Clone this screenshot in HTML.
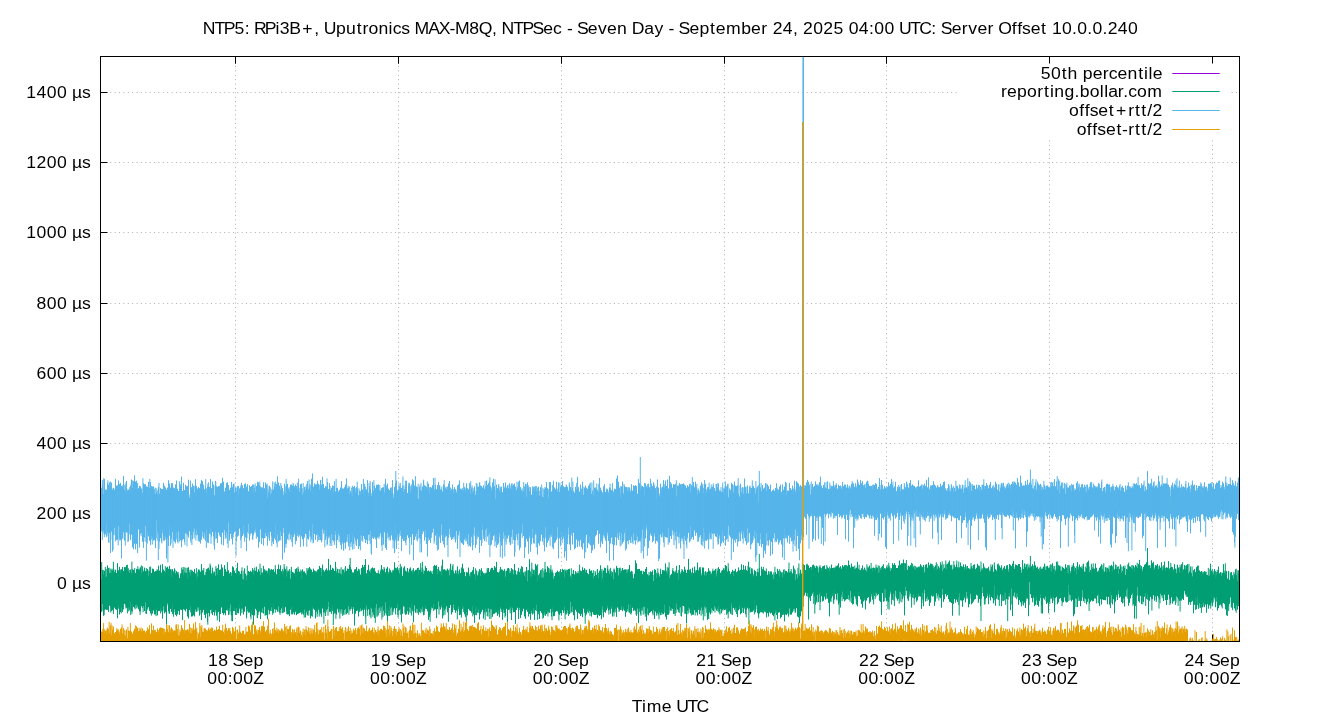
<!DOCTYPE html>
<html><head><meta charset="utf-8"><title>NTP5 Server Offset</title>
<style>html,body{margin:0;padding:0;background:#fff;}body{width:1340px;height:720px;overflow:hidden;font-family:"Liberation Sans",sans-serif;}svg{display:block;}</style>
</head><body>
<svg width="1340" height="720" viewBox="0 0 1340 720">
<path d="M100.5 583.5H1239.5M100.5 513.5H1239.5M100.5 443.5H1239.5M100.5 373.5H1239.5M100.5 303.5H1239.5M100.5 232.5H1239.5M100.5 162.5H1239.5M100.5 92.5H1239.5" stroke="#b0b0b0" stroke-width="1" stroke-dasharray="1 3.38" stroke-dashoffset="-1" fill="none"/>
<path d="M235.5 56.5V641.5M398.5 56.5V641.5M561.5 56.5V641.5M724.5 56.5V641.5M886.5 56.5V641.5M1049.5 56.5V641.5M1212.5 56.5V641.5" stroke="#b0b0b0" stroke-width="1" stroke-dasharray="1 3.38" stroke-dashoffset="-0.8" fill="none"/>
<path d="M100.5 583.5h7M100.5 513.5h7M100.5 443.5h7M100.5 373.5h7M100.5 303.5h7M100.5 232.5h7M100.5 162.5h7M100.5 92.5h7M235.5 56.5v7M235.5 641.5v-7M398.5 56.5v7M398.5 641.5v-7M561.5 56.5v7M561.5 641.5v-7M724.5 56.5v7M724.5 641.5v-7M886.5 56.5v7M886.5 641.5v-7M1049.5 56.5v7M1049.5 641.5v-7M1212.5 56.5v7M1212.5 641.5v-7" stroke="#000" stroke-width="1" fill="none"/>
<path d="M101.5 579.2V610.9M102.5 569.8V604.0M103.5 574.5V614.5M104.5 570.9V609.8M105.5 577.2V609.5M106.5 576.6V609.9M107.5 565.4V609.8M108.5 568.2V611.9M109.5 572.9V605.8M110.5 573.2V606.9M111.5 572.8V611.0M112.5 570.3V610.3M113.5 571.7V608.4M114.5 572.2V607.6M115.5 569.9V606.5M116.5 573.1V609.2M117.5 563.2V618.3M118.5 571.8V605.5M119.5 566.8V614.5M120.5 572.7V612.1M121.5 569.1V607.6M122.5 567.1V611.9M123.5 570.9V604.0M124.5 567.1V603.1M125.5 567.1V604.6M126.5 565.1V607.7M127.5 569.8V608.0M128.5 571.3V607.4M129.5 572.9V609.6M130.5 569.5V601.8M131.5 573.1V611.0M132.5 570.0V604.3M133.5 569.7V607.0M134.5 571.7V607.8M135.5 573.1V605.2M136.5 568.9V604.5M137.5 569.2V605.8M138.5 569.5V609.3M139.5 570.2V611.4M140.5 567.3V611.3M141.5 573.1V605.9M142.5 568.8V606.6M143.5 571.4V606.2M144.5 567.6V611.0M145.5 571.2V602.3M146.5 571.3V613.8M147.5 569.0V607.9M148.5 576.3V606.9M149.5 571.5V610.9M150.5 575.7V613.4M151.5 573.4V611.0M152.5 568.6V613.6M153.5 569.5V610.5M154.5 572.1V614.4M155.5 571.0V614.5M156.5 571.1V609.9M157.5 570.2V615.4M158.5 565.7V611.1M159.5 570.6V610.9M160.5 564.7V607.4M161.5 572.5V609.8M162.5 569.3V613.6M163.5 569.5V606.3M164.5 571.0V613.3M165.5 572.6V612.3M166.5 567.6V612.2M167.5 566.7V603.5M168.5 568.8V611.0M169.5 565.9V613.7M170.5 569.2V608.8M171.5 577.0V611.9M172.5 569.1V603.3M173.5 574.3V614.0M174.5 568.3V609.4M175.5 573.4V614.9M176.5 571.6V605.4M177.5 572.4V614.4M178.5 574.4V611.2M179.5 578.0V614.9M180.5 573.4V608.9M181.5 573.2V610.0M182.5 570.0V620.1M183.5 574.7V609.4M184.5 572.3V609.9M185.5 575.6V611.4M186.5 573.0V608.9M187.5 578.4V616.6M188.5 567.2V618.5M189.5 572.3V610.1M190.5 575.8V606.5M191.5 572.1V616.6M192.5 570.8V616.4M193.5 572.4V615.4M194.5 569.0V616.5M195.5 573.5V609.4M196.5 580.4V611.8M197.5 576.5V607.5M198.5 569.7V607.4M199.5 570.3V615.7M200.5 571.7V609.9M201.5 564.1V620.1M202.5 570.3V612.4M203.5 570.6V609.8M204.5 575.3V614.8M205.5 575.2V618.2M206.5 571.4V613.5M207.5 569.1V621.7M208.5 567.7V613.0M209.5 570.2V616.5M210.5 565.6V609.9M211.5 574.5V608.9M212.5 570.3V615.1M213.5 573.6V612.0M214.5 577.8V607.6M215.5 575.7V610.2M216.5 568.7V608.9M217.5 574.8V612.5M218.5 575.7V611.9M219.5 570.0V621.9M220.5 569.4V614.0M221.5 571.9V606.1M222.5 567.5V613.0M223.5 576.7V614.8M224.5 565.1V613.3M225.5 569.1V615.3M226.5 571.6V609.9M227.5 571.8V608.5M228.5 573.0V615.1M229.5 573.4V608.2M230.5 572.0V604.4M231.5 576.1V615.6M232.5 566.3V621.2M233.5 572.7V611.0M234.5 570.6V607.2M235.5 573.2V607.5M236.5 573.5V608.1M237.5 562.8V610.9M238.5 570.9V613.4M239.5 575.2V604.1M240.5 573.8V614.8M241.5 570.7V608.0M242.5 578.9V608.4M243.5 579.7V614.5M244.5 568.3V611.8M245.5 573.6V606.6M246.5 580.2V618.4M247.5 574.9V608.9M248.5 573.2V612.7M249.5 571.9V612.5M250.5 570.8V616.7M251.5 571.7V610.1M252.5 570.7V615.2M253.5 574.5V624.7M254.5 571.0V615.4M255.5 570.8V608.8M256.5 568.4V610.1M257.5 571.8V618.0M258.5 569.2V612.4M259.5 571.3V611.6M260.5 574.9V619.0M261.5 572.8V612.3M262.5 573.2V608.2M263.5 572.7V613.6M264.5 571.8V606.8M265.5 571.2V614.8M266.5 570.6V615.1M267.5 573.8V619.3M268.5 568.2V608.6M269.5 575.5V611.4M270.5 571.5V610.8M271.5 569.1V607.3M272.5 569.9V612.7M273.5 569.3V603.6M274.5 571.8V609.2M275.5 569.2V609.3M276.5 574.8V609.7M277.5 569.0V611.8M278.5 564.5V606.4M279.5 569.1V612.7M280.5 565.3V610.0M281.5 571.2V608.4M282.5 574.5V605.9M283.5 573.3V606.6M284.5 567.4V612.0M285.5 569.1V607.3M286.5 576.7V610.9M287.5 572.4V614.5M288.5 571.4V614.4M289.5 574.6V616.2M290.5 578.8V609.8M291.5 575.4V607.0M292.5 571.9V614.4M293.5 572.6V612.0M294.5 573.4V614.8M295.5 569.8V611.0M296.5 568.5V615.2M297.5 571.8V614.0M298.5 568.9V613.6M299.5 571.6V612.9M300.5 572.1V612.5M301.5 578.9V612.0M302.5 569.3V612.0M303.5 571.5V614.7M304.5 571.4V609.5M305.5 573.3V617.4M306.5 575.1V610.9M307.5 570.5V614.7M308.5 569.5V611.0M309.5 567.0V610.4M310.5 569.1V618.4M311.5 573.5V610.1M312.5 572.0V606.7M313.5 568.7V608.6M314.5 570.6V609.9M315.5 571.7V618.5M316.5 573.1V611.6M317.5 569.7V614.1M318.5 570.7V607.2M319.5 565.9V611.9M320.5 567.8V612.9M321.5 576.0V616.8M322.5 564.5V607.9M323.5 569.9V612.4M324.5 571.5V611.3M325.5 569.7V606.5M326.5 568.3V610.0M327.5 570.5V609.0M328.5 558.9V601.8M329.5 570.3V611.9M330.5 564.8V611.7M331.5 570.0V608.2M332.5 567.8V605.0M333.5 568.7V614.9M334.5 571.0V610.6M335.5 561.9V613.2M336.5 573.0V614.6M337.5 568.8V607.8M338.5 573.1V612.5M339.5 573.8V608.8M340.5 573.7V609.4M341.5 574.4V609.3M342.5 569.8V609.6M343.5 569.7V613.5M344.5 572.7V610.0M345.5 566.1V609.0M346.5 570.8V608.5M347.5 568.5V610.6M348.5 569.0V606.3M349.5 564.8V607.6M350.5 567.3V609.1M351.5 569.9V607.3M352.5 572.5V608.8M353.5 572.8V607.0M354.5 569.5V616.1M355.5 569.1V613.7M356.5 567.1V610.5M357.5 570.8V608.7M358.5 568.8V616.5M359.5 571.3V609.9M360.5 574.7V608.5M361.5 569.3V609.8M362.5 564.9V609.8M363.5 566.8V613.6M364.5 565.0V608.6M365.5 559.1V616.9M366.5 573.3V605.6M367.5 570.0V611.1M368.5 564.8V605.2M369.5 571.3V615.1M370.5 573.2V607.6M371.5 568.3V608.5M372.5 567.4V612.0M373.5 568.4V613.2M374.5 570.3V618.0M375.5 571.4V607.6M376.5 573.1V604.0M377.5 573.2V609.4M378.5 573.1V608.5M379.5 573.7V607.7M380.5 571.6V606.5M381.5 565.0V607.6M382.5 569.2V606.3M383.5 570.5V610.8M384.5 568.5V614.2M385.5 572.3V602.2M386.5 568.5V608.5M387.5 566.8V621.7M388.5 573.9V610.7M389.5 571.6V605.6M390.5 570.3V608.4M391.5 572.4V605.3M392.5 572.8V611.4M393.5 570.7V609.3M394.5 562.3V608.4M395.5 567.7V610.3M396.5 568.3V608.2M397.5 566.8V603.6M398.5 570.4V611.2M399.5 573.4V610.2M400.5 568.4V608.7M401.5 566.5V622.5M402.5 576.0V613.5M403.5 568.6V605.5M404.5 566.3V606.6M405.5 570.8V614.8M406.5 571.4V614.4M407.5 568.0V606.9M408.5 572.5V605.4M409.5 568.7V607.3M410.5 567.4V607.8M411.5 570.8V604.0M412.5 572.5V609.7M413.5 568.3V605.1M414.5 571.2V605.3M415.5 569.9V612.7M416.5 578.6V607.1M417.5 568.0V609.2M418.5 574.2V611.6M419.5 569.9V612.2M420.5 569.6V608.2M421.5 572.1V609.4M422.5 572.6V606.3M423.5 573.6V615.3M424.5 570.7V611.4M425.5 567.9V605.2M426.5 568.0V609.0M427.5 571.1V611.4M428.5 571.3V619.9M429.5 573.7V615.2M430.5 570.7V613.6M431.5 572.6V606.9M432.5 574.0V608.4M433.5 569.9V604.2M434.5 564.9V609.6M435.5 565.9V609.3M436.5 565.1V618.2M437.5 574.2V609.1M438.5 567.0V601.5M439.5 573.2V606.5M440.5 571.4V609.3M441.5 574.8V604.6M442.5 559.6V618.4M443.5 569.5V607.9M444.5 569.3V610.5M445.5 570.3V608.8M446.5 570.6V606.3M447.5 568.6V612.3M448.5 570.2V607.8M449.5 575.3V608.0M450.5 563.7V605.0M451.5 571.4V607.2M452.5 568.0V612.3M453.5 571.4V604.5M454.5 573.4V610.0M455.5 570.8V612.8M456.5 573.4V609.1M457.5 566.4V611.3M458.5 574.5V606.6M459.5 569.5V615.2M460.5 573.2V614.5M461.5 571.9V611.6M462.5 563.7V604.6M463.5 569.2V607.2M464.5 572.2V614.3M465.5 576.2V616.9M466.5 572.5V612.0M467.5 572.4V615.4M468.5 567.5V608.9M469.5 576.0V610.4M470.5 577.2V611.1M471.5 571.9V612.6M472.5 571.2V605.8M473.5 567.0V614.5M474.5 574.5V622.9M475.5 580.0V607.2M476.5 574.1V606.5M477.5 575.8V612.5M478.5 573.6V609.0M479.5 569.1V603.0M480.5 576.0V614.2M481.5 568.3V611.9M482.5 571.4V609.7M483.5 572.9V618.7M484.5 574.6V611.8M485.5 573.2V608.7M486.5 573.1V611.6M487.5 569.6V607.6M488.5 568.0V608.5M489.5 572.0V612.5M490.5 569.6V609.2M491.5 567.8V609.5M492.5 567.9V616.8M493.5 570.1V614.0M494.5 566.0V613.7M495.5 567.5V612.7M496.5 561.8V612.5M497.5 572.0V615.9M498.5 572.6V610.7M499.5 577.4V617.2M500.5 566.9V607.4M501.5 569.4V609.9M502.5 574.2V605.9M503.5 570.8V609.6M504.5 570.5V612.7M505.5 576.7V616.0M506.5 570.7V608.7M507.5 568.3V624.2M508.5 567.9V610.0M509.5 573.0V608.7M510.5 573.0V607.3M511.5 568.1V620.0M512.5 569.4V605.7M513.5 574.1V612.2M514.5 574.4V612.1M515.5 570.9V623.9M516.5 574.8V608.7M517.5 574.7V607.5M518.5 567.8V619.0M519.5 572.3V607.9M520.5 574.6V618.1M521.5 571.7V614.8M522.5 567.0V611.5M523.5 572.7V608.8M524.5 575.8V616.5M525.5 578.3V618.9M526.5 567.0V609.6M527.5 581.4V611.8M528.5 570.1V616.5M529.5 576.4V614.0M530.5 577.2V619.8M531.5 576.4V610.7M532.5 573.8V614.6M533.5 569.8V608.3M534.5 575.1V619.9M535.5 571.0V610.0M536.5 565.6V604.7M537.5 581.6V612.0M538.5 575.1V611.9M539.5 578.4V619.0M540.5 570.2V611.1M541.5 577.3V612.2M542.5 577.6V614.3M543.5 577.5V617.7M544.5 572.8V611.9M545.5 569.2V615.8M546.5 572.3V614.0M547.5 566.2V611.1M548.5 567.7V612.4M549.5 573.1V612.3M550.5 569.9V609.0M551.5 572.4V616.5M552.5 572.6V607.4M553.5 578.7V616.3M554.5 576.8V615.6M555.5 572.8V611.9M556.5 576.6V609.6M557.5 570.6V611.5M558.5 571.9V613.9M559.5 575.6V614.8M560.5 569.1V613.2M561.5 572.0V615.6M562.5 568.8V610.2M563.5 573.1V612.9M564.5 577.6V606.5M565.5 570.4V614.6M566.5 573.3V612.4M567.5 569.8V610.4M568.5 569.0V615.9M569.5 568.7V614.1M570.5 576.7V601.8M571.5 579.4V611.7M572.5 573.7V606.5M573.5 570.0V615.2M574.5 574.3V620.2M575.5 571.1V609.6M576.5 574.5V611.7M577.5 573.0V610.6M578.5 573.0V612.7M579.5 574.0V613.8M580.5 570.5V616.1M581.5 571.1V608.1M582.5 567.2V617.2M583.5 571.1V608.5M584.5 568.2V612.8M585.5 572.2V616.0M586.5 569.8V614.5M587.5 573.1V608.9M588.5 574.3V609.8M589.5 568.8V610.8M590.5 570.7V612.3M591.5 570.4V616.6M592.5 575.6V608.2M593.5 578.6V614.4M594.5 576.1V615.0M595.5 572.5V614.9M596.5 578.0V614.6M597.5 569.1V618.3M598.5 578.2V614.7M599.5 571.7V616.0M600.5 565.3V615.0M601.5 581.6V619.2M602.5 578.3V606.3M603.5 570.4V617.3M604.5 573.9V611.8M605.5 572.7V611.7M606.5 573.5V609.1M607.5 568.6V605.8M608.5 570.9V610.9M609.5 574.2V609.7M610.5 573.3V613.7M611.5 576.1V606.6M612.5 572.5V616.6M613.5 579.2V612.4M614.5 569.8V610.4M615.5 572.6V608.7M616.5 565.9V608.3M617.5 567.8V606.9M618.5 575.4V608.8M619.5 568.5V610.7M620.5 572.8V609.9M621.5 570.9V605.5M622.5 567.9V609.4M623.5 569.9V607.2M624.5 569.4V610.8M625.5 569.4V616.8M626.5 573.1V612.4M627.5 572.8V609.1M628.5 569.2V604.5M629.5 568.2V605.3M630.5 571.8V604.4M631.5 570.8V612.9M632.5 574.2V607.8M633.5 579.2V610.8M634.5 573.8V608.5M635.5 560.3V611.1M636.5 563.3V615.8M637.5 569.1V608.6M638.5 569.0V623.2M639.5 568.9V608.4M640.5 570.8V614.4M641.5 570.8V607.9M642.5 574.5V607.6M643.5 571.1V606.8M644.5 571.8V606.8M645.5 568.9V613.5M646.5 577.5V620.9M647.5 574.2V608.5M648.5 578.1V615.4M649.5 575.2V613.0M650.5 577.3V608.3M651.5 572.1V611.2M652.5 575.0V611.4M653.5 581.0V609.8M654.5 569.2V619.0M655.5 576.4V605.5M656.5 578.0V613.5M657.5 574.1V613.3M658.5 575.1V610.1M659.5 576.6V612.6M660.5 570.7V615.1M661.5 573.9V612.5M662.5 569.9V613.3M663.5 570.4V614.2M664.5 570.5V604.6M665.5 563.5V616.8M666.5 572.6V619.5M667.5 573.4V614.8M668.5 567.6V614.8M669.5 577.9V606.2M670.5 575.2V610.6M671.5 573.8V608.1M672.5 570.3V608.7M673.5 571.0V614.0M674.5 572.9V607.7M675.5 572.3V610.0M676.5 565.8V603.6M677.5 573.1V609.6M678.5 579.7V610.4M679.5 565.0V607.5M680.5 573.7V607.4M681.5 571.7V616.5M682.5 570.1V605.6M683.5 574.6V606.1M684.5 566.7V606.9M685.5 570.8V613.8M686.5 574.8V617.0M687.5 569.7V610.8M688.5 558.9V607.1M689.5 570.6V608.1M690.5 568.9V613.4M691.5 575.1V606.5M692.5 567.6V614.8M693.5 573.1V614.7M694.5 566.6V610.0M695.5 572.6V612.1M696.5 570.2V612.5M697.5 562.6V615.4M698.5 570.6V606.3M699.5 567.4V614.2M700.5 569.4V608.8M701.5 575.5V607.4M702.5 567.4V610.5M703.5 567.6V609.4M704.5 575.3V606.8M705.5 571.3V604.7M706.5 575.7V607.0M707.5 571.9V619.9M708.5 568.2V617.1M709.5 570.7V612.5M710.5 574.7V614.4M711.5 573.8V608.4M712.5 570.9V609.9M713.5 571.0V611.1M714.5 570.4V606.3M715.5 568.9V606.6M716.5 576.6V610.4M717.5 570.7V608.8M718.5 567.1V606.2M719.5 569.0V611.2M720.5 572.7V608.9M721.5 572.4V613.3M722.5 569.9V609.6M723.5 568.2V608.5M724.5 570.3V610.0M725.5 565.0V608.9M726.5 566.1V607.1M727.5 572.5V607.9M728.5 568.5V611.9M729.5 571.1V611.5M730.5 573.7V613.7M731.5 571.9V603.3M732.5 569.9V607.8M733.5 576.4V607.8M734.5 571.9V609.8M735.5 568.8V607.7M736.5 572.2V607.5M737.5 571.3V617.0M738.5 567.4V610.0M739.5 570.4V605.4M740.5 569.8V614.3M741.5 564.3V613.2M742.5 570.0V607.8M743.5 569.8V612.9M744.5 569.5V607.6M745.5 565.9V614.2M746.5 570.0V609.7M747.5 571.2V607.8M748.5 561.7V609.5M749.5 568.1V608.3M750.5 573.8V611.8M751.5 568.3V611.9M752.5 571.5V611.6M753.5 576.4V609.7M754.5 570.4V599.0M755.5 571.1V612.3M756.5 576.1V605.5M757.5 571.8V613.2M758.5 572.2V616.4M759.5 573.9V613.5M760.5 576.6V611.3M761.5 566.7V612.2M762.5 571.0V612.4M763.5 570.5V611.1M764.5 570.4V611.0M765.5 571.2V609.9M766.5 571.3V617.4M767.5 574.8V613.2M768.5 571.2V616.6M769.5 574.4V612.4M770.5 575.2V613.6M771.5 571.8V612.8M772.5 574.4V615.0M773.5 579.1V616.3M774.5 575.0V614.2M775.5 572.1V611.0M776.5 573.8V610.6M777.5 571.2V619.1M778.5 574.8V612.3M779.5 576.6V612.3M780.5 571.4V618.4M781.5 573.3V617.1M782.5 577.3V615.1M783.5 572.3V611.8M784.5 574.4V621.4M785.5 570.7V614.6M786.5 571.3V615.1M787.5 572.3V612.6M788.5 580.4V608.2M789.5 572.6V608.5M790.5 572.3V614.6M791.5 572.2V614.6M792.5 573.4V612.4M793.5 565.6V609.1M794.5 574.5V608.2M795.5 580.1V612.1M796.5 574.6V608.2M797.5 578.3V616.5M798.5 574.8V617.4M799.5 575.8V623.2M800.5 569.7V616.4M801.5 573.6V611.3M802.5 573.8V610.3M803.5 564.2V597.0M804.5 565.0V595.5M805.5 570.0V592.7M806.5 564.4V596.0M807.5 564.9V593.1M808.5 565.4V619.5M809.5 568.2V597.5M810.5 566.9V601.0M811.5 569.9V595.6M812.5 566.0V591.6M813.5 564.6V591.7M814.5 566.6V596.6M815.5 567.9V604.6M816.5 565.6V601.6M817.5 568.6V594.9M818.5 572.5V602.0M819.5 566.5V592.6M820.5 568.1V602.4M821.5 571.4V596.2M822.5 566.4V601.4M823.5 566.0V600.8M824.5 565.4V596.7M825.5 569.1V599.5M826.5 569.4V593.2M827.5 567.7V597.6M828.5 568.2V602.9M829.5 571.3V616.4M830.5 570.2V601.1M831.5 564.5V598.3M832.5 568.0V593.3M833.5 568.2V602.6M834.5 569.7V590.3M835.5 567.3V594.1M836.5 566.2V599.3M837.5 566.6V592.2M838.5 563.3V604.6M839.5 567.6V602.5M840.5 566.2V595.0M841.5 568.8V595.1M842.5 565.1V591.6M843.5 566.5V591.2M844.5 565.2V599.5M845.5 565.0V600.4M846.5 569.4V599.2M847.5 566.5V598.8M848.5 560.5V595.1M849.5 565.0V599.3M850.5 568.1V591.1M851.5 563.6V597.8M852.5 566.7V604.5M853.5 566.7V603.9M854.5 569.5V595.9M855.5 568.6V596.6M856.5 567.8V604.4M857.5 561.9V606.3M858.5 568.8V591.5M859.5 569.8V596.4M860.5 570.4V599.5M861.5 568.4V604.0M862.5 567.9V607.7M863.5 569.5V601.5M864.5 567.6V597.3M865.5 569.7V609.4M866.5 571.5V600.6M867.5 570.9V598.1M868.5 567.8V597.2M869.5 565.6V603.5M870.5 568.6V601.8M871.5 568.5V593.8M872.5 571.5V599.7M873.5 567.8V592.6M874.5 568.2V595.2M875.5 570.5V592.8M876.5 567.4V592.6M877.5 568.1V595.4M878.5 572.8V594.0M879.5 572.1V600.8M880.5 569.9V601.9M881.5 568.9V614.9M882.5 565.8V593.1M883.5 569.5V601.7M884.5 568.2V588.8M885.5 568.5V589.2M886.5 566.6V601.1M887.5 567.7V600.7M888.5 567.2V602.0M889.5 568.4V596.6M890.5 571.0V591.7M891.5 568.3V595.1M892.5 563.2V599.8M893.5 564.8V593.7M894.5 563.2V593.9M895.5 565.1V590.7M896.5 568.4V591.7M897.5 567.9V600.7M898.5 565.4V598.9M899.5 560.5V591.5M900.5 564.9V591.9M901.5 563.2V594.2M902.5 563.2V599.1M903.5 559.5V591.4M904.5 570.2V615.4M905.5 563.3V586.9M906.5 569.7V590.9M907.5 569.9V598.5M908.5 566.2V600.7M909.5 566.5V591.4M910.5 565.1V593.1M911.5 566.6V600.2M912.5 568.3V594.9M913.5 566.7V594.2M914.5 569.2V599.1M915.5 569.7V597.6M916.5 567.7V601.8M917.5 567.6V600.4M918.5 566.7V594.2M919.5 567.8V596.3M920.5 564.2V596.7M921.5 568.0V608.9M922.5 567.5V592.6M923.5 564.9V606.2M924.5 572.5V589.9M925.5 564.7V601.6M926.5 565.0V598.4M927.5 567.9V596.6M928.5 562.4V599.7M929.5 565.3V606.0M930.5 563.5V602.7M931.5 564.9V595.5M932.5 567.0V596.3M933.5 568.2V596.2M934.5 570.1V605.9M935.5 569.4V601.6M936.5 570.3V593.2M937.5 568.8V595.9M938.5 566.2V594.2M939.5 570.1V597.4M940.5 566.1V598.3M941.5 565.8V607.7M942.5 571.1V589.1M943.5 569.2V601.9M944.5 567.8V599.2M945.5 569.1V594.1M946.5 569.4V596.5M947.5 563.8V595.0M948.5 566.9V597.4M949.5 564.2V601.7M950.5 567.4V590.3M951.5 565.5V603.1M952.5 570.5V615.7M953.5 568.4V603.9M954.5 565.1V599.0M955.5 567.1V602.7M956.5 564.1V599.7M957.5 567.3V602.1M958.5 568.6V597.5M959.5 567.9V593.5M960.5 562.5V600.4M961.5 566.5V600.6M962.5 568.7V606.9M963.5 568.2V588.4M964.5 570.4V596.6M965.5 564.3V602.4M966.5 568.9V592.0M967.5 566.0V596.6M968.5 568.2V607.3M969.5 568.7V604.1M970.5 569.5V593.8M971.5 566.3V604.3M972.5 568.3V603.2M973.5 564.9V601.4M974.5 564.3V599.6M975.5 569.3V599.0M976.5 567.7V594.0M977.5 563.8V595.6M978.5 565.7V601.2M979.5 567.9V598.5M980.5 571.7V606.2M981.5 570.4V596.4M982.5 569.8V587.0M983.5 563.3V596.3M984.5 567.4V599.0M985.5 568.8V599.4M986.5 568.5V597.9M987.5 568.5V593.8M988.5 566.8V604.2M989.5 571.7V594.4M990.5 570.9V600.5M991.5 566.9V595.9M992.5 564.6V591.7M993.5 572.1V603.4M994.5 565.5V585.6M995.5 569.7V605.7M996.5 571.4V598.7M997.5 564.2V595.0M998.5 567.2V599.9M999.5 565.5V596.0M1000.5 567.6V594.4M1001.5 567.1V606.1M1002.5 571.1V595.3M1003.5 567.6V595.5M1004.5 566.1V591.3M1005.5 568.9V592.8M1006.5 565.4V599.1M1007.5 565.1V598.7M1008.5 571.6V596.1M1009.5 564.0V593.0M1010.5 564.8V610.2M1011.5 566.2V588.5M1012.5 563.5V616.1M1013.5 560.9V595.2M1014.5 568.9V592.5M1015.5 564.4V597.1M1016.5 565.0V593.5M1017.5 565.5V593.0M1018.5 564.1V604.8M1019.5 564.0V600.1M1020.5 567.1V602.3M1021.5 572.8V606.3M1022.5 560.0V601.4M1023.5 568.9V600.7M1024.5 563.4V602.7M1025.5 567.2V608.0M1026.5 564.4V596.5M1027.5 569.4V598.7M1028.5 567.0V616.2M1029.5 567.7V582.0M1030.5 567.5V591.6M1031.5 566.4V598.1M1032.5 564.2V601.0M1033.5 569.5V595.6M1034.5 561.5V603.4M1035.5 565.3V604.2M1036.5 567.6V596.7M1037.5 566.7V605.0M1038.5 569.2V606.6M1039.5 571.1V600.9M1040.5 569.3V594.4M1041.5 569.3V605.5M1042.5 568.9V613.6M1043.5 571.0V597.4M1044.5 564.3V599.6M1045.5 569.9V596.7M1046.5 566.7V604.0M1047.5 566.0V602.7M1048.5 569.1V613.2M1049.5 568.1V601.9M1050.5 570.5V595.7M1051.5 571.8V598.5M1052.5 563.2V603.2M1053.5 568.8V597.4M1054.5 573.9V612.3M1055.5 571.1V598.0M1056.5 561.7V596.5M1057.5 569.1V604.2M1058.5 565.2V602.4M1059.5 565.9V598.8M1060.5 570.5V597.9M1061.5 571.1V600.8M1062.5 566.8V602.6M1063.5 567.9V602.2M1064.5 569.2V597.4M1065.5 564.2V600.7M1066.5 567.6V602.5M1067.5 572.5V602.1M1068.5 574.0V584.8M1069.5 568.2V594.7M1070.5 573.1V595.2M1071.5 567.2V597.7M1072.5 566.6V599.6M1073.5 563.0V603.0M1074.5 571.1V614.2M1075.5 567.8V598.4M1076.5 574.7V599.1M1077.5 562.1V607.0M1078.5 569.4V596.4M1079.5 564.5V600.6M1080.5 572.8V606.3M1081.5 568.3V600.9M1082.5 568.8V590.2M1083.5 563.8V601.2M1084.5 571.7V597.8M1085.5 571.9V599.1M1086.5 568.0V604.4M1087.5 569.8V601.9M1088.5 570.6V598.6M1089.5 572.0V603.8M1090.5 569.9V601.8M1091.5 574.0V600.4M1092.5 569.1V601.3M1093.5 568.3V601.1M1094.5 568.6V598.5M1095.5 563.5V597.9M1096.5 567.8V600.1M1097.5 572.3V595.7M1098.5 570.5V594.4M1099.5 567.8V605.9M1100.5 570.7V599.0M1101.5 564.8V599.9M1102.5 569.1V599.4M1103.5 571.2V600.1M1104.5 571.6V600.1M1105.5 567.9V600.3M1106.5 572.1V596.4M1107.5 574.5V604.2M1108.5 568.7V596.9M1109.5 571.7V604.7M1110.5 565.9V591.3M1111.5 564.9V595.2M1112.5 571.3V604.4M1113.5 569.8V599.3M1114.5 570.2V613.4M1115.5 568.2V601.6M1116.5 568.9V595.1M1117.5 571.6V600.1M1118.5 573.9V589.8M1119.5 569.0V597.7M1120.5 565.3V596.7M1121.5 572.6V602.0M1122.5 570.8V603.4M1123.5 570.9V595.5M1124.5 569.6V606.5M1125.5 574.8V596.5M1126.5 569.1V589.8M1127.5 570.1V588.3M1128.5 564.0V605.8M1129.5 567.1V598.3M1130.5 566.7V595.7M1131.5 568.2V595.1M1132.5 569.0V593.4M1133.5 566.1V604.2M1134.5 572.1V618.6M1135.5 565.0V605.9M1136.5 566.4V596.8M1137.5 568.0V587.0M1138.5 564.1V601.2M1139.5 559.9V595.6M1140.5 568.5V596.1M1141.5 566.1V604.1M1142.5 571.5V595.7M1143.5 566.8V602.0M1144.5 567.2V596.7M1145.5 564.1V593.2M1146.5 562.2V598.9M1147.5 564.8V593.8M1148.5 565.5V614.4M1149.5 565.2V600.8M1150.5 568.2V596.8M1151.5 560.3V599.2M1152.5 563.5V599.1M1153.5 561.8V595.3M1154.5 569.8V600.7M1155.5 565.1V595.7M1156.5 565.4V599.6M1157.5 564.0V592.7M1158.5 569.1V597.5M1159.5 566.0V599.1M1160.5 567.7V593.8M1161.5 562.2V595.6M1162.5 570.4V595.2M1163.5 568.5V601.0M1164.5 561.5V594.7M1165.5 570.9V600.0M1166.5 567.5V605.0M1167.5 567.7V599.9M1168.5 570.0V591.1M1169.5 569.4V599.1M1170.5 567.8V603.3M1171.5 568.5V597.4M1172.5 567.2V603.7M1173.5 570.3V601.5M1174.5 570.9V600.7M1175.5 568.6V597.6M1176.5 573.2V596.4M1177.5 564.7V597.6M1178.5 567.9V599.0M1179.5 572.7V601.0M1180.5 567.3V600.4M1181.5 564.2V597.1M1182.5 571.7V598.7M1183.5 569.4V600.0M1184.5 565.0V590.9M1185.5 569.8V594.6M1186.5 565.1V594.3M1187.5 564.2V596.9M1188.5 573.6V604.8M1189.5 571.5V602.3M1190.5 568.8V601.6M1191.5 572.9V600.4M1192.5 576.4V600.7M1193.5 570.3V613.4M1194.5 569.0V604.8M1195.5 573.5V597.7M1196.5 567.5V609.2M1197.5 565.7V596.4M1198.5 571.1V605.3M1199.5 570.4V603.2M1200.5 571.7V607.8M1201.5 571.0V604.1M1202.5 573.7V607.4M1203.5 572.2V602.6M1204.5 571.1V607.2M1205.5 571.7V604.5M1206.5 575.0V612.7M1207.5 576.1V600.0M1208.5 576.1V608.7M1209.5 575.6V605.5M1210.5 563.7V604.3M1211.5 570.7V601.0M1212.5 572.8V605.7M1213.5 574.5V597.1M1214.5 569.1V597.7M1215.5 578.3V607.2M1216.5 575.0V597.0M1217.5 572.3V610.6M1218.5 566.5V602.9M1219.5 573.3V605.4M1220.5 572.1V604.6M1221.5 576.0V606.3M1222.5 573.1V603.2M1223.5 570.3V602.8M1224.5 572.7V603.9M1225.5 574.3V609.3M1226.5 571.4V615.2M1227.5 578.5V610.4M1228.5 571.5V606.3M1229.5 580.0V603.8M1230.5 577.5V597.2M1231.5 572.0V607.6M1232.5 575.2V608.6M1233.5 578.4V603.0M1234.5 574.3V608.4M1235.5 571.3V610.6M1236.5 575.2V605.3M1237.5 580.9V609.6M1238.5 570.5V606.2" stroke="#009e73" stroke-width="1" fill="none"/>
<path d="M101.7 562.1V612.1M102.9 578.7V610.7M103.7 570.1V616.1M104.1 575.4V614.9M105.3 567.0V606.9M106.2 568.9V609.2M108.0 568.4V609.1M108.4 569.0V608.4M109.1 567.7V604.8M110.8 568.6V612.6M111.2 569.9V609.8M112.1 568.7V609.8M113.4 561.8V614.0M114.0 569.6V607.4M115.5 569.8V609.0M116.4 574.1V610.0M117.3 570.6V607.7M118.6 570.1V608.7M119.8 569.5V611.5M120.3 569.7V608.9M121.3 571.1V613.3M122.6 567.1V606.4M123.4 572.8V609.5M124.3 574.0V604.1M125.9 572.8V608.5M126.2 568.0V606.5M127.4 564.8V613.4M128.3 568.2V611.4M129.8 570.0V610.6M130.7 572.0V615.1M131.9 561.6V613.8M132.3 568.9V611.5M133.8 574.3V607.0M134.7 568.0V604.6M135.1 573.2V609.4M136.3 572.8V608.4M137.8 566.4V607.6M138.4 571.2V608.8M139.2 568.9V604.5M140.1 567.8V614.9M141.3 565.3V606.4M142.6 566.2V608.0M143.1 572.2V612.2M144.2 569.9V605.1M145.9 571.9V613.6M146.3 568.1V613.7M147.7 570.4V609.7M148.8 570.6V607.3M149.7 566.9V609.3M150.6 566.6V604.8M151.4 572.9V615.6M152.7 572.1V611.2M153.4 568.9V608.7M154.8 571.4V608.1M155.7 573.7V613.1M156.1 577.1V616.2M157.0 569.2V607.0M158.7 573.6V609.3M159.5 578.0V605.4M160.6 572.0V613.4M161.7 576.1V611.7M162.5 564.2V618.7M163.1 576.0V610.8M164.6 571.7V609.7M165.3 566.2V608.7M166.5 573.9V624.8M167.0 574.7V605.6M169.0 575.1V613.5M169.2 575.0V611.7M171.0 571.3V609.2M171.8 569.2V607.8M172.4 570.0V614.2M173.6 571.2V616.8M174.2 572.4V609.1M175.0 569.7V612.3M176.5 571.2V616.3M177.1 573.6V608.4M178.2 571.9V609.6M179.1 577.7V606.3M180.6 577.2V609.8M181.7 567.5V610.0M183.0 569.1V608.8M183.2 566.9V607.7M184.8 567.3V604.9M185.6 572.4V605.7M186.0 567.8V606.9M187.4 567.7V612.3M189.0 570.0V608.5M189.7 573.1V607.4M190.7 569.8V612.4M191.7 569.8V612.1M193.0 573.6V607.8M193.5 572.3V608.3M194.1 572.3V612.6M195.1 573.8V611.7M196.6 568.1V607.7M197.2 571.8V611.3M198.9 569.3V610.5M200.0 574.3V614.4M200.6 573.7V607.8M201.6 568.2V613.7M202.1 575.3V612.2M203.8 568.0V607.5M204.4 574.9V614.4M205.8 572.1V613.9M206.4 568.9V606.5M207.8 568.2V624.7M208.1 570.7V607.1M210.0 563.5V607.9M210.7 569.5V609.9M211.3 573.3V613.6M212.4 567.5V613.0M213.2 571.6V610.7M214.5 571.6V615.6M215.9 566.1V612.4M216.5 572.5V615.7M217.3 567.9V620.5M218.5 564.3V611.7M219.4 569.8V602.5M220.4 571.0V609.6M221.5 564.4V607.5M222.7 570.3V611.4M223.7 576.1V611.5M224.0 576.0V607.1M225.9 575.0V607.3M226.4 575.7V610.3M227.4 562.1V610.6M228.5 570.2V602.5M229.9 573.8V614.6M230.0 574.8V611.4M231.8 572.6V620.9M232.7 571.2V612.4M233.5 567.3V607.9M234.4 573.9V611.2M235.5 573.0V614.9M236.7 568.1V615.0M237.5 572.2V612.9M238.9 574.0V610.4M239.6 571.5V608.5M240.5 574.1V615.7M241.9 574.0V613.0M242.0 567.3V609.7M243.9 570.8V603.7M244.5 573.0V608.1M245.1 574.2V604.4M246.7 575.6V615.1M247.3 565.7V611.4M248.5 571.0V608.1M249.5 573.3V609.6M251.0 574.7V619.3M251.7 576.0V614.5M252.5 568.1V605.7M253.7 569.7V609.7M254.7 567.5V605.9M255.1 573.0V604.1M256.4 566.6V610.5M257.2 573.9V618.1M258.1 573.1V615.1M259.3 571.7V609.8M260.0 563.7V608.3M261.2 568.1V610.2M262.2 572.2V613.0M263.5 565.8V604.4M264.4 569.2V603.0M265.1 569.6V615.8M267.0 572.5V610.3M267.8 570.7V614.8M268.7 570.7V610.1M269.6 568.6V614.4M270.7 569.9V607.2M271.2 569.6V611.1M272.7 572.2V614.8M273.4 569.5V613.0M274.2 573.2V608.0M275.3 565.1V612.7M276.8 573.8V607.4M277.4 569.8V604.8M278.9 573.8V611.7M280.0 570.8V614.8M280.9 573.1V613.0M281.5 575.1V605.8M282.6 569.1V613.2M283.6 571.1V612.7M284.1 564.0V608.8M285.8 571.7V601.9M286.8 566.3V614.1M287.2 570.7V613.7M288.3 570.5V612.4M289.6 569.0V604.8M291.0 570.8V605.7M291.4 566.9V614.4M292.9 575.7V613.7M293.1 572.9V612.7M294.5 577.2V610.2M295.3 569.0V612.4M296.9 568.2V609.2M297.2 572.5V610.0M298.1 566.7V608.1M299.4 572.4V612.0M300.8 569.6V609.7M301.7 570.8V614.5M302.3 572.5V613.7M303.7 571.9V608.4M304.2 577.3V617.7M305.5 573.7V607.4M306.9 568.1V612.9M307.2 574.9V615.2M308.2 568.0V615.9M309.4 572.3V603.8M310.2 568.4V615.0M311.5 569.7V615.9M312.4 576.2V616.7M313.6 570.7V604.0M314.0 570.5V609.5M315.8 570.8V611.6M316.4 571.7V610.5M317.1 576.9V616.8M318.6 569.3V609.8M319.2 569.2V616.6M320.2 574.6V614.3M321.8 568.2V607.3M322.1 571.9V609.0M323.9 576.4V623.7M324.2 573.1V612.9M325.6 571.7V616.0M326.1 571.0V611.9M328.0 570.4V615.7M329.0 571.3V607.0M329.7 573.4V601.8M330.3 576.7V611.3M331.4 575.8V614.0M332.6 571.2V611.1M333.3 570.6V625.0M334.6 574.8V613.6M335.9 567.2V618.9M336.1 571.2V611.6M337.3 571.5V609.4M339.0 569.1V608.9M339.9 569.3V618.6M340.0 573.2V611.5M341.1 567.2V613.7M342.6 569.3V615.8M343.8 570.0V615.2M345.0 572.1V608.1M345.1 567.7V614.6M346.5 575.0V614.2M347.5 570.8V612.9M348.9 570.9V614.7M349.5 570.6V609.2M350.0 569.7V610.9M351.1 568.8V609.3M352.5 575.1V613.9M353.1 572.3V609.0M354.5 571.4V625.6M355.6 574.8V607.5M356.5 569.8V611.0M357.6 573.8V610.2M358.0 572.1V611.2M359.7 569.5V612.1M360.0 574.5V611.1M361.5 567.9V611.1M362.2 574.3V604.7M363.4 569.9V615.9M364.8 573.8V609.9M365.8 576.7V624.2M366.9 574.4V609.4M367.7 571.0V615.9M368.5 572.8V609.3M369.8 571.9V614.3M370.1 569.5V616.7M371.0 569.8V618.4M372.9 573.2V616.8M373.7 574.7V614.8M374.4 567.9V608.5M375.3 572.9V622.8M377.0 574.7V616.9M377.2 573.5V615.7M378.3 570.2V615.5M379.9 576.2V613.0M380.8 569.5V610.9M381.9 575.0V619.5M382.9 577.8V617.1M384.0 567.0V609.0M384.4 573.7V615.7M385.2 573.8V613.4M386.6 573.5V615.5M387.4 570.5V613.4M388.3 571.8V616.2M389.6 568.5V615.9M390.9 573.0V615.3M391.5 574.1V607.4M392.3 570.5V615.0M393.2 569.7V612.2M394.8 570.9V608.0M395.6 572.2V614.4M396.2 572.4V607.1M397.8 571.8V614.9M398.1 572.2V617.6M399.1 568.1V609.9M400.3 563.8V614.7M401.8 573.6V613.0M402.5 575.9V613.7M403.7 567.5V606.6M404.9 569.6V613.4M406.0 572.4V611.7M406.8 574.2V613.7M407.4 573.3V611.1M408.5 575.1V614.8M409.0 571.1V611.9M410.1 572.4V613.2M411.4 572.3V615.6M412.3 569.8V611.4M413.5 574.5V622.2M414.0 572.8V611.5M415.9 573.8V612.4M416.5 569.7V608.8M417.2 573.9V613.2M418.6 567.7V614.8M419.6 571.9V610.2M420.7 563.1V613.2M422.0 567.7V611.9M422.4 561.7V606.6M423.0 569.3V611.6M424.2 571.1V614.9M425.4 565.8V608.7M426.3 575.1V604.2M427.5 572.3V611.0M428.6 570.4V608.0M429.5 571.7V616.8M430.1 571.4V621.8M431.0 574.6V610.2M432.0 571.0V608.0M433.7 566.0V611.0M434.4 569.6V608.1M435.6 574.1V606.9M436.4 571.9V609.8M437.7 569.0V607.2M439.0 572.0V614.5M439.6 570.5V605.9M440.2 571.9V609.6M441.7 565.5V607.5M442.2 567.5V605.1M443.7 572.0V615.6M444.6 569.4V602.6M445.0 571.1V614.8M446.2 575.8V605.0M447.2 569.2V610.2M448.4 570.8V621.8M449.9 568.5V602.6M450.7 568.3V605.2M451.5 570.0V614.5M452.4 566.0V610.6M453.0 564.1V608.2M454.2 574.4V610.0M455.9 570.1V606.9M456.4 573.8V610.7M457.3 571.0V619.5M458.9 571.1V609.1M459.2 572.8V611.0M460.8 573.0V614.8M461.4 567.5V617.6M462.4 574.7V608.9M463.3 568.4V612.0M464.3 572.0V609.2M465.3 579.0V609.1M466.3 571.9V624.6M467.5 576.7V609.4M468.4 570.9V605.7M469.0 573.9V605.0M470.4 572.4V609.4M471.8 573.6V612.5M472.8 570.0V616.4M473.1 569.9V610.5M474.2 573.7V611.9M475.6 568.3V614.9M476.6 570.5V615.3M477.1 575.0V612.5M478.3 571.4V612.8M479.5 570.7V619.5M480.7 570.1V612.0M481.6 573.9V611.5M482.6 572.4V607.7M483.9 574.0V614.8M484.9 573.0V612.4M485.2 579.0V619.9M486.9 572.3V612.2M487.2 567.9V616.1M488.0 573.9V616.5M489.8 573.6V619.0M490.9 574.0V608.8M491.1 568.8V618.6M492.8 576.7V613.2M493.1 573.2V612.7M494.9 573.1V611.9M495.5 568.5V611.6M496.5 574.5V611.6M497.9 572.8V604.7M498.3 576.8V614.3M499.5 571.5V612.7M500.1 569.0V609.1M501.2 572.8V612.0M502.5 569.7V619.9M503.9 573.4V613.2M504.4 568.9V610.5M505.0 571.5V617.5M506.2 571.1V608.8M507.5 571.5V622.4M508.1 569.9V609.3M509.1 568.9V610.2M510.2 571.0V613.4M511.8 569.3V612.7M512.4 571.3V608.1M513.1 569.9V610.0M514.5 564.0V610.6M515.6 570.3V608.8M516.6 574.4V610.0M517.7 571.2V607.6M518.6 572.0V607.4M519.1 571.5V610.0M520.6 568.7V606.3M521.6 566.2V611.2M522.5 572.4V609.1M523.1 573.1V606.6M524.2 571.7V607.7M525.6 571.3V608.2M526.8 571.2V609.3M527.1 570.1V610.3M528.8 571.0V609.2M529.5 559.2V607.1M530.6 571.3V615.0M531.8 562.6V613.3M532.1 568.7V610.7M533.7 572.3V613.6M534.7 569.8V611.6M535.5 563.8V609.7M536.3 571.3V611.0M537.6 564.4V619.8M538.6 576.6V614.2M539.4 573.3V614.5M540.5 573.2V609.6M541.7 569.4V613.1M542.8 568.1V618.8M543.9 570.8V612.6M545.0 561.9V614.8M545.0 569.2V615.5M546.9 571.9V613.4M547.9 573.5V616.5M549.0 573.2V612.0M549.8 568.5V612.9M550.9 565.2V609.0M552.0 571.4V620.1M552.1 569.5V612.1M553.1 572.7V611.5M554.6 576.1V615.8M555.9 576.0V609.4M556.5 572.1V611.0M557.5 574.5V608.3M558.9 576.0V620.4M559.6 571.4V609.7M560.8 572.1V612.8M561.6 573.7V610.6M562.5 571.2V609.0M563.5 569.9V610.0M564.8 569.2V610.7M565.1 571.5V619.4M566.3 569.7V614.4M567.1 573.9V613.5M568.7 570.7V611.8M569.4 575.9V607.4M570.9 575.3V613.2M571.3 568.3V607.3M572.9 575.1V612.3M573.3 570.9V611.9M574.9 576.1V609.9M575.9 573.8V609.2M576.3 572.3V609.7M577.5 574.4V619.1M578.1 571.0V611.4M579.6 564.7V611.6M580.7 573.8V615.6M581.5 572.4V613.9M582.4 574.0V616.1M583.5 570.0V608.4M584.8 574.5V608.9M585.2 569.5V623.8M586.8 574.7V612.4M587.7 574.3V611.6M588.4 574.9V613.1M590.0 571.2V615.8M590.6 581.4V608.4M591.5 572.0V613.3M592.5 573.0V612.1M593.3 570.3V614.4M594.5 576.4V612.6M595.1 570.9V610.1M596.6 574.9V608.8M597.3 569.3V603.3M598.7 572.7V614.7M599.6 570.6V606.3M601.0 574.2V609.8M601.7 570.5V616.6M602.0 568.8V609.4M603.1 572.4V612.8M604.5 567.6V609.9M605.5 568.1V612.8M606.5 572.9V610.4M607.7 565.3V608.5M608.9 572.7V614.7M609.1 569.3V609.1M610.6 567.8V605.4M611.3 571.0V608.8M612.4 572.0V611.6M614.0 568.5V616.4M614.1 569.7V612.4M615.2 572.4V612.3M616.5 572.3V616.9M617.7 570.0V607.6M619.0 568.0V612.0M620.0 567.5V604.1M620.9 568.5V608.4M621.8 572.2V610.2M622.5 571.9V611.2M623.3 571.2V609.7M624.9 574.4V609.7M625.7 569.7V608.0M626.7 569.5V608.6M627.8 569.6V611.2M628.9 576.2V612.2M629.5 565.0V612.6M630.3 571.8V613.8M631.0 572.3V614.6M632.2 571.4V604.6M633.7 577.9V609.1M634.4 574.7V610.4M635.2 573.7V608.9M636.1 569.1V614.6M637.0 573.1V613.8M638.6 570.8V611.0M639.7 572.0V611.8M641.0 572.6V615.8M641.8 570.7V610.5M642.2 574.0V610.6M643.2 576.9V614.8M645.0 575.3V613.4M645.3 573.0V616.7M646.5 567.0V613.2M647.8 575.6V614.5M648.6 575.6V610.2M649.0 572.1V608.9M650.5 571.3V612.1M651.5 574.5V603.2M652.5 570.4V613.5M653.1 574.9V615.4M655.0 569.6V612.4M655.5 570.0V611.3M656.7 572.6V615.7M657.8 568.4V611.9M658.3 572.5V615.3M659.0 574.0V619.3M660.6 568.7V614.3M661.9 575.0V615.0M662.9 570.7V613.4M663.9 573.8V612.6M664.2 572.8V612.6M665.9 570.8V611.8M666.1 570.6V615.2M667.3 567.2V606.1M668.8 570.0V610.5M669.1 562.3V613.5M670.8 576.5V608.5M671.8 574.7V610.9M672.9 567.9V608.9M673.9 574.0V612.6M674.7 572.3V614.0M675.2 570.6V616.0M676.1 573.0V612.8M677.1 573.9V608.7M678.3 570.1V612.0M679.3 570.9V613.0M681.0 572.2V615.9M681.9 569.0V604.0M682.1 572.3V612.4M683.5 571.6V605.1M684.8 569.9V613.7M685.4 569.5V612.8M686.5 572.8V623.4M687.9 574.4V614.3M688.9 572.9V612.7M689.2 569.6V609.3M690.8 574.1V612.6M691.4 572.5V615.5M692.0 573.7V611.1M693.3 575.4V611.6M694.9 569.6V607.5M695.2 571.7V615.4M696.2 570.4V609.8M698.0 569.6V609.0M698.4 577.7V610.0M699.9 574.7V608.6M700.3 567.1V610.6M701.1 573.2V615.7M702.9 570.4V614.1M703.3 575.2V620.3M704.9 572.2V616.4M705.7 571.4V608.4M706.8 572.3V612.9M707.3 573.0V616.3M708.7 572.0V619.0M709.8 571.2V606.6M710.7 571.5V606.5M711.9 573.3V612.8M712.9 568.7V610.1M713.6 571.8V607.9M714.9 571.5V612.5M715.7 570.5V608.6M716.9 573.9V603.7M717.1 568.3V611.2M718.3 570.9V611.7M719.2 569.5V613.5M720.0 573.5V614.5M721.7 570.7V612.0M723.0 572.1V610.6M723.6 573.1V609.2M725.0 567.6V606.0M725.8 573.3V610.0M726.6 570.0V614.8M727.4 571.4V613.7M728.2 563.2V618.4M730.0 574.4V611.1M730.9 574.2V605.6M731.9 577.1V614.4M732.3 572.7V615.1M733.7 570.8V607.7M734.5 570.8V606.2M735.8 574.0V612.1M736.6 576.7V614.0M737.0 573.1V607.8M738.3 570.5V610.4M739.3 572.9V609.0M740.3 572.9V607.6M741.3 572.2V607.1M742.0 570.0V612.0M743.5 565.0V610.2M744.9 570.6V609.2M745.6 575.0V602.7M746.2 572.6V617.3M748.0 565.8V608.3M748.9 572.0V624.6M749.9 566.8V607.6M750.1 577.6V612.6M751.7 572.5V606.3M752.3 568.6V611.7M753.8 574.2V610.7M754.4 569.8V614.4M755.2 573.5V607.7M757.0 572.0V609.2M757.9 568.6V610.6M758.6 573.8V618.3M759.5 568.2V606.4M760.6 575.7V612.3M761.7 572.1V609.2M762.4 569.1V612.4M763.4 566.9V613.6M764.3 576.5V611.9M765.6 576.1V612.3M766.3 568.5V612.3M767.4 576.7V609.5M768.3 572.5V610.7M769.9 571.4V605.9M770.5 571.8V610.2M771.2 571.3V608.8M772.1 576.0V610.5M773.8 572.4V613.8M774.9 566.8V620.4M775.2 577.8V612.9M776.6 574.4V615.0M777.5 568.8V603.3M778.4 570.8V612.6M779.7 569.2V611.0M780.8 571.8V610.7M781.8 572.7V606.6M782.2 572.2V612.8M783.6 569.8V614.7M784.2 569.2V614.2M785.2 573.8V610.5M786.3 571.0V612.8M787.6 577.6V613.7M788.5 569.0V616.7M789.0 562.5V614.6M790.5 571.3V611.0M791.2 569.0V610.8M792.2 574.9V611.0M793.9 571.5V611.2M794.6 568.6V608.8M795.2 570.2V613.1M796.8 574.0V608.2M798.0 567.8V607.9M798.9 563.4V611.8M799.1 573.2V608.7M800.7 570.6V609.9M801.4 575.2V603.8M802.4 561.4V613.5M803.2 565.1V606.8M804.1 571.2V595.0M806.0 571.9V591.9M806.5 567.7V588.5M807.2 563.7V596.6M808.5 568.2V590.7M809.5 568.3V597.2M810.2 569.7V600.0M811.7 567.1V596.1M812.6 564.9V593.8M813.7 567.7V603.8M814.8 565.7V613.6M815.9 572.7V599.5M817.0 566.4V602.8M817.7 566.6V592.4M819.0 568.2V594.3M820.0 565.2V610.2M820.2 567.2V597.9M821.4 568.1V593.8M822.5 567.2V597.5M823.5 567.8V596.0M824.1 571.6V593.0M825.4 569.5V596.8M826.8 565.0V598.6M827.5 567.3V598.6M828.7 570.3V601.1M829.7 566.6V590.5M830.6 568.4V591.5M831.0 568.1V602.1M832.4 569.5V596.3M833.7 567.6V603.9M834.4 567.6V599.6M836.0 565.7V591.6M837.0 568.7V600.5M837.5 565.4V593.3M839.0 572.1V599.1M839.2 567.6V614.7M840.5 567.0V607.6M841.9 569.5V597.4M842.1 567.3V601.0M843.5 567.7V599.1M844.4 567.3V601.4M845.4 565.6V585.9M846.4 565.1V595.9M847.6 565.7V599.1M848.9 570.4V599.9M849.1 566.0V594.3M850.1 566.6V601.7M851.7 566.5V603.0M852.5 569.5V598.3M853.7 572.8V597.0M854.8 565.5V596.4M855.8 569.3V598.8M856.3 568.2V603.6M857.2 567.2V605.1M858.6 569.3V596.1M859.1 564.8V594.0M860.6 570.2V594.6M861.6 568.6V602.9M862.5 565.5V599.3M863.9 572.1V599.7M864.1 570.2V600.5M865.0 571.0V600.0M866.9 564.3V597.7M867.8 567.3V593.4M868.0 566.6V595.4M869.7 569.5V598.7M870.6 571.4V600.0M871.1 563.0V596.4M872.4 567.9V596.2M873.6 567.5V604.4M874.6 570.4V595.9M875.2 567.7V599.1M876.0 564.6V596.6M877.1 567.4V594.1M878.2 565.2V591.1M879.3 565.9V595.7M880.2 568.0V594.4M881.3 566.7V602.1M882.1 568.7V592.9M883.4 564.1V596.4M884.3 574.0V601.3M885.3 571.3V597.8M886.4 570.0V600.7M887.9 564.8V608.9M888.8 562.7V590.8M889.1 566.0V609.6M890.1 567.6V594.0M891.6 573.9V604.6M892.1 571.5V597.8M893.8 566.8V600.6M894.4 571.2V606.1M896.0 571.1V596.6M896.4 568.0V598.5M897.5 571.0V600.0M898.1 568.6V596.8M899.2 566.0V603.7M900.2 564.6V601.6M901.9 567.2V602.3M903.0 569.9V597.8M903.6 563.8V595.9M904.6 563.0V595.8M905.8 568.5V595.6M906.4 560.0V589.6M907.9 571.5V598.7M908.2 565.6V600.7M909.9 568.5V596.8M910.0 571.3V594.5M911.6 562.8V607.6M912.6 563.7V597.7M913.8 572.1V598.1M914.2 565.6V604.8M915.3 566.0V592.6M916.9 566.8V598.1M917.2 568.9V599.6M918.3 569.6V596.8M919.6 566.5V595.3M921.0 565.3V591.7M921.3 566.1V593.7M922.2 566.9V599.6M923.1 569.5V603.0M925.0 566.5V593.4M925.3 570.8V598.5M926.7 563.9V598.7M927.1 567.5V601.0M928.4 570.6V597.5M929.6 569.4V598.4M930.7 567.0V600.4M931.6 563.8V591.0M932.4 564.3V596.5M933.2 565.7V588.2M934.4 566.8V587.3M935.5 565.4V592.5M936.3 562.2V589.2M937.1 564.0V598.5M938.9 567.2V600.6M939.2 568.0V594.7M940.4 562.2V595.4M941.5 564.8V594.9M942.2 561.4V594.7M943.8 564.2V596.4M944.2 574.6V597.4M945.8 560.5V593.6M946.0 564.6V592.1M947.0 563.9V593.3M948.5 562.3V599.2M949.5 560.6V593.7M950.5 565.2V602.2M951.9 564.6V594.5M952.8 569.1V601.8M953.8 561.2V590.2M954.8 566.5V592.5M955.8 568.9V597.8M956.8 560.5V597.9M957.9 567.2V595.1M958.8 561.5V605.1M959.2 567.1V615.6M960.5 569.6V597.4M961.7 566.0V593.6M962.5 566.8V603.8M963.5 564.4V600.3M964.3 567.1V598.4M965.2 569.4V589.3M966.9 566.2V598.5M967.4 566.4V594.9M968.0 567.9V598.9M969.4 569.2V601.4M971.0 563.0V594.0M971.0 567.5V598.6M973.0 565.8V601.7M973.2 568.9V598.6M974.0 570.4V596.5M976.0 568.7V593.3M976.3 571.3V595.2M978.0 565.6V592.6M978.3 567.2V602.9M979.4 565.8V599.0M981.0 561.5V621.0M981.3 568.8V598.7M982.8 568.1V593.0M983.8 565.6V584.1M984.4 568.6V604.5M985.1 567.8V604.4M986.8 570.5V592.5M987.2 568.3V596.0M988.4 572.0V600.2M989.2 569.7V597.6M990.9 564.4V595.5M991.3 568.7V597.1M992.5 565.5V598.3M993.7 571.7V596.9M994.3 562.4V600.4M995.6 569.2V598.4M996.7 570.4V596.0M998.0 565.5V599.5M998.4 563.5V591.9M999.3 567.8V605.9M1000.3 568.5V591.5M1001.6 565.3V599.0M1002.3 569.3V600.8M1003.4 569.9V601.1M1004.6 570.7V600.4M1005.7 572.9V604.8M1006.7 571.0V594.0M1007.7 567.9V621.1M1008.1 569.1V599.6M1009.7 570.3V596.7M1010.2 566.0V596.2M1011.8 572.0V604.6M1012.9 570.8V595.5M1013.3 567.9V596.5M1015.0 566.8V597.3M1015.6 578.1V597.5M1016.7 570.4V599.2M1017.7 570.6V597.4M1018.7 572.7V600.0M1019.1 570.6V598.9M1020.6 568.6V600.4M1022.0 569.8V604.3M1022.8 565.6V594.3M1023.5 569.7V605.5M1025.0 563.9V596.0M1025.9 568.9V600.9M1026.4 569.2V598.6M1027.8 563.7V596.5M1028.3 572.6V589.0M1029.1 564.7V605.0M1030.5 570.2V594.3M1031.8 566.2V594.1M1032.7 568.3V602.4M1033.3 565.8V597.9M1034.5 573.8V606.1M1035.8 570.0V605.1M1036.7 572.0V600.6M1037.9 569.3V598.6M1038.1 569.0V600.8M1039.7 567.6V591.4M1040.7 566.6V598.1M1041.3 568.7V613.4M1043.0 567.5V595.1M1043.5 566.7V598.3M1044.6 563.5V590.6M1046.0 566.2V601.2M1046.5 568.5V602.9M1047.7 565.8V591.3M1048.6 567.8V597.7M1049.8 566.6V604.0M1050.7 564.3V598.9M1051.1 564.6V592.4M1052.1 565.0V592.5M1053.9 566.1V600.7M1054.8 566.1V605.1M1055.1 569.7V592.0M1056.9 564.0V597.0M1057.7 561.5V593.4M1058.6 568.5V595.6M1059.8 565.6V598.2M1060.9 566.4V596.6M1061.3 573.2V593.7M1062.1 570.4V606.2M1063.7 568.2V596.1M1064.3 569.1V595.9M1065.7 567.0V601.7M1066.7 569.1V596.8M1067.7 565.1V595.8M1068.8 564.9V601.0M1069.2 565.5V592.1M1070.2 570.8V600.1M1071.5 570.7V601.4M1072.2 565.2V599.8M1073.5 569.8V616.3M1074.3 566.4V596.9M1076.0 569.6V607.1M1076.8 566.1V596.4M1077.8 569.4V598.4M1078.9 566.8V601.0M1079.2 566.4V597.8M1080.5 567.1V595.5M1081.6 567.7V593.6M1082.0 565.8V597.2M1083.2 563.9V598.1M1084.8 571.8V602.9M1085.3 566.6V597.7M1086.9 563.0V595.5M1087.5 561.9V597.3M1088.5 560.6V595.7M1089.1 566.3V611.0M1090.9 571.4V588.1M1091.4 563.8V590.9M1092.2 567.2V592.7M1093.2 563.3V600.1M1094.2 570.9V597.7M1095.8 569.0V598.8M1096.4 568.9V603.3M1097.6 571.5V593.4M1098.3 572.2V603.1M1099.9 570.6V599.7M1100.5 566.4V594.8M1101.5 564.4V604.5M1102.9 565.1V591.5M1103.8 563.2V592.7M1105.0 572.2V596.7M1105.8 567.0V599.3M1106.2 567.7V596.5M1107.5 567.7V587.8M1108.8 572.3V595.8M1109.2 565.5V596.6M1110.4 569.9V608.2M1111.1 567.5V602.9M1112.4 566.2V597.2M1113.6 561.6V591.7M1114.2 568.8V597.9M1115.6 564.4V591.1M1116.1 565.0V597.1M1117.5 566.7V597.8M1118.7 566.3V594.3M1119.7 568.9V597.2M1120.4 564.3V594.6M1121.2 566.4V593.5M1123.0 566.7V602.8M1123.5 566.1V598.6M1124.5 567.8V594.7M1125.0 565.4V592.7M1126.8 569.2V596.9M1127.8 564.4V598.7M1128.7 562.6V600.1M1129.5 566.3V602.9M1130.5 569.5V598.5M1131.8 565.2V591.6M1132.9 565.0V605.7M1133.6 565.8V601.9M1134.6 567.3V600.5M1135.8 566.5V602.9M1136.3 567.8V618.7M1137.2 562.7V595.5M1138.8 571.1V595.0M1139.6 568.8V602.6M1140.3 565.2V592.2M1141.8 571.0V596.1M1142.8 568.7V604.3M1143.0 571.4V600.5M1144.5 564.7V596.0M1145.7 572.0V606.1M1146.9 567.9V591.9M1147.7 562.5V599.8M1148.2 569.8V596.9M1149.2 567.1V600.2M1151.0 565.3V596.7M1151.9 567.4V610.6M1152.4 562.9V598.9M1153.4 569.4V592.1M1154.8 567.4V600.3M1155.6 567.2V596.5M1156.3 571.5V602.0M1157.5 568.0V595.9M1159.0 566.2V608.6M1159.4 565.4V599.6M1160.0 567.7V603.3M1161.1 570.5V588.6M1162.2 566.3V598.3M1163.7 565.1V600.5M1164.4 570.1V591.4M1165.7 567.8V593.8M1166.3 567.6V600.5M1167.8 573.0V593.9M1168.5 561.1V594.7M1169.9 568.0V605.1M1170.8 562.9V593.3M1171.5 566.7V593.6M1173.0 568.9V587.1M1173.3 570.3V592.5M1174.5 564.1V591.9M1175.4 569.4V604.9M1176.0 569.3V602.6M1177.3 566.9V591.6M1178.1 573.5V605.9M1179.1 567.1V600.5M1180.1 564.8V611.6M1181.4 568.1V600.6M1182.6 562.2V598.7M1183.6 571.0V593.5M1184.6 569.4V589.1M1185.2 565.8V592.8M1186.3 568.4V596.8M1187.1 568.2V595.2M1188.9 563.8V599.6M1189.2 573.0V593.6M1190.6 566.4V604.8M1191.5 578.1V601.8M1192.1 566.4V601.3M1193.8 579.4V599.7M1194.5 573.7V592.2M1195.6 571.8V609.9M1196.8 566.9V600.3M1197.3 571.8V605.0M1198.4 565.7V608.9M1199.1 573.0V607.7M1200.9 572.2V603.4M1201.4 578.3V613.0M1202.8 571.6V603.9M1203.9 575.9V606.6M1204.4 576.2V605.1M1205.6 578.9V600.3M1206.2 571.8V604.5M1207.5 574.9V604.1M1208.3 567.9V605.6M1209.9 569.1V603.3M1210.7 571.7V608.7M1211.9 572.5V603.3M1212.2 568.8V606.4M1213.2 571.3V602.5M1214.0 574.7V599.7M1215.6 571.1V597.9M1216.3 572.1V601.6M1217.3 569.8V604.8M1218.5 576.8V608.2M1219.6 578.0V601.9M1220.8 573.2V600.0M1221.9 572.3V600.1M1222.2 577.7V608.4M1223.5 564.1V602.9M1224.9 570.6V600.1M1225.3 563.3V605.9M1226.6 570.9V596.4M1227.4 579.5V616.0M1228.7 570.9V610.9M1229.7 581.6V601.9M1230.4 572.7V597.2M1231.3 572.0V607.0M1232.6 576.7V610.2M1233.9 571.9V596.3M1234.4 573.8V603.0M1235.5 569.4V605.3M1236.2 568.7V612.7M1237.9 570.2V600.4M1238.1 573.1V597.9" stroke="#009e73" stroke-width="1" fill="none"/>
<path d="M101.5 493.2V528.1M102.5 484.7V531.3M103.5 494.2V530.8M104.5 479.5V534.4M105.5 489.5V534.0M106.5 489.5V522.8M107.5 483.2V532.4M108.5 484.8V542.6M109.5 482.4V533.2M110.5 486.6V553.0M111.5 491.5V531.6M112.5 490.1V551.6M113.5 487.7V535.0M114.5 490.4V527.8M115.5 478.8V534.2M116.5 493.8V525.9M117.5 485.5V536.7M118.5 480.4V526.1M119.5 484.0V538.3M120.5 482.8V540.2M121.5 485.7V558.4M122.5 486.5V538.1M123.5 475.9V532.1M124.5 490.1V540.7M125.5 491.9V531.3M126.5 480.9V532.6M127.5 490.9V532.6M128.5 490.0V541.1M129.5 489.1V523.5M130.5 491.6V538.4M131.5 479.6V534.7M132.5 488.0V547.3M133.5 481.2V533.0M134.5 475.3V543.8M135.5 481.5V549.4M136.5 480.6V543.9M137.5 490.0V548.1M138.5 488.1V524.3M139.5 485.9V547.5M140.5 486.4V533.9M141.5 488.5V532.7M142.5 493.0V541.9M143.5 483.4V547.9M144.5 484.2V537.6M145.5 484.2V525.8M146.5 486.4V541.5M147.5 486.9V532.3M148.5 481.8V536.2M149.5 488.3V540.7M150.5 482.1V538.3M151.5 486.1V536.0M152.5 486.4V538.0M153.5 486.5V540.7M154.5 493.5V540.1M155.5 494.2V548.1M156.5 492.1V520.4M157.5 494.2V532.6M158.5 486.8V533.7M159.5 493.6V541.6M160.5 487.8V538.3M161.5 489.0V541.8M162.5 489.2V529.3M163.5 482.8V535.9M164.5 485.7V540.7M165.5 487.5V536.9M166.5 489.5V558.5M167.5 487.6V538.6M168.5 480.2V546.1M169.5 483.4V525.4M170.5 488.0V545.7M171.5 483.2V538.5M172.5 483.1V532.2M173.5 487.4V540.5M174.5 488.4V537.0M175.5 484.4V543.4M176.5 480.5V532.2M177.5 488.7V541.9M178.5 490.8V531.5M179.5 485.8V538.2M180.5 485.9V540.2M181.5 478.0V535.9M182.5 490.8V539.8M183.5 482.8V532.9M184.5 490.0V542.0M185.5 484.7V533.3M186.5 486.4V532.2M187.5 486.2V535.4M188.5 479.7V535.7M189.5 497.9V531.3M190.5 480.6V540.3M191.5 487.2V535.2M192.5 483.5V539.1M193.5 485.8V527.6M194.5 492.2V528.5M195.5 479.2V534.2M196.5 486.0V530.2M197.5 488.5V534.9M198.5 487.0V538.7M199.5 488.1V541.7M200.5 483.5V543.6M201.5 479.9V539.8M202.5 481.1V531.5M203.5 484.7V538.4M204.5 489.3V532.5M205.5 486.6V538.3M206.5 492.6V529.5M207.5 486.6V542.6M208.5 486.9V537.5M209.5 486.9V533.6M210.5 479.1V527.6M211.5 488.3V536.6M212.5 481.5V532.1M213.5 484.4V536.4M214.5 495.3V549.6M215.5 480.9V531.9M216.5 486.3V538.3M217.5 487.0V543.0M218.5 486.3V527.9M219.5 485.8V533.8M220.5 483.5V537.0M221.5 493.7V534.0M222.5 477.8V532.4M223.5 481.7V545.4M224.5 491.8V530.3M225.5 488.0V536.9M226.5 482.8V532.3M227.5 482.3V534.5M228.5 485.0V522.5M229.5 496.6V540.0M230.5 488.1V534.0M231.5 482.0V529.9M232.5 487.2V544.5M233.5 483.8V533.9M234.5 492.4V532.1M235.5 487.6V530.9M236.5 491.6V541.5M237.5 487.3V535.9M238.5 494.9V534.1M239.5 488.4V528.6M240.5 488.0V531.0M241.5 482.9V537.9M242.5 485.3V536.0M243.5 488.6V525.1M244.5 485.1V531.4M245.5 497.1V537.5M246.5 487.2V551.1M247.5 484.2V532.2M248.5 491.2V524.2M249.5 485.2V540.6M250.5 489.0V533.8M251.5 487.0V529.2M252.5 484.5V539.6M253.5 492.9V535.2M254.5 487.7V531.2M255.5 491.7V529.2M256.5 486.0V535.8M257.5 481.7V536.9M258.5 482.4V547.7M259.5 485.3V541.8M260.5 486.6V529.4M261.5 487.5V544.1M262.5 489.4V538.2M263.5 482.3V535.4M264.5 488.2V538.2M265.5 482.4V533.1M266.5 484.6V536.0M267.5 497.6V545.5M268.5 492.4V533.3M269.5 485.9V540.9M270.5 494.5V531.5M271.5 493.1V536.4M272.5 491.0V541.8M273.5 493.3V529.9M274.5 486.4V538.4M275.5 487.0V524.7M276.5 484.1V530.3M277.5 476.3V534.3M278.5 482.5V541.5M279.5 485.5V540.6M280.5 489.4V531.6M281.5 485.6V536.0M282.5 489.0V559.6M283.5 494.9V528.1M284.5 483.7V552.7M285.5 493.2V544.1M286.5 484.9V543.5M287.5 483.8V533.4M288.5 488.5V534.4M289.5 491.6V531.5M290.5 484.6V533.9M291.5 484.5V535.2M292.5 485.6V540.2M293.5 484.5V536.9M294.5 488.0V531.3M295.5 484.4V540.8M296.5 486.1V541.1M297.5 488.5V532.8M298.5 485.3V534.7M299.5 491.5V535.4M300.5 484.1V526.8M301.5 483.6V536.5M302.5 494.8V539.4M303.5 492.6V546.3M304.5 486.8V536.6M305.5 489.7V533.9M306.5 487.7V534.6M307.5 484.2V538.7M308.5 488.9V539.7M309.5 487.4V530.5M310.5 491.2V536.3M311.5 478.7V538.8M312.5 473.4V524.1M313.5 486.7V542.7M314.5 483.3V534.0M315.5 484.3V539.9M316.5 484.4V534.9M317.5 480.8V533.8M318.5 483.8V534.8M319.5 489.3V536.8M320.5 480.1V540.1M321.5 484.7V533.9M322.5 476.8V529.2M323.5 484.0V531.6M324.5 487.9V530.1M325.5 486.2V539.7M326.5 486.7V530.4M327.5 482.1V544.1M328.5 489.0V536.5M329.5 483.2V535.4M330.5 490.5V543.2M331.5 487.8V534.1M332.5 485.5V534.6M333.5 493.1V540.6M334.5 485.7V540.5M335.5 491.5V531.1M336.5 488.0V548.2M337.5 487.7V539.9M338.5 491.8V530.0M339.5 489.7V536.1M340.5 488.0V542.3M341.5 487.7V538.5M342.5 489.1V542.2M343.5 488.8V550.6M344.5 487.2V542.8M345.5 484.5V548.8M346.5 478.4V541.6M347.5 488.4V534.3M348.5 487.9V546.4M349.5 493.8V534.3M350.5 490.9V543.5M351.5 493.7V541.9M352.5 496.1V533.8M353.5 488.8V534.6M354.5 485.9V537.5M355.5 492.6V540.8M356.5 487.0V545.9M357.5 488.4V539.1M358.5 495.2V549.1M359.5 491.6V543.5M360.5 493.8V535.2M361.5 484.0V535.3M362.5 489.6V539.2M363.5 493.9V535.9M364.5 484.3V538.3M365.5 490.2V543.0M366.5 491.0V540.2M367.5 480.1V544.1M368.5 495.7V534.9M369.5 486.5V533.9M370.5 488.7V531.0M371.5 495.9V554.6M372.5 482.0V536.1M373.5 491.0V538.9M374.5 487.3V537.4M375.5 489.2V538.5M376.5 485.7V548.0M377.5 494.3V532.3M378.5 484.3V536.7M379.5 490.2V535.5M380.5 490.8V533.1M381.5 488.2V545.4M382.5 487.4V537.7M383.5 487.3V544.7M384.5 492.4V531.5M385.5 478.9V548.0M386.5 487.8V550.0M387.5 483.7V532.7M388.5 488.6V537.4M389.5 490.0V536.7M390.5 487.7V540.4M391.5 493.5V530.1M392.5 480.1V539.7M393.5 497.6V541.1M394.5 486.9V553.0M395.5 483.0V524.6M396.5 480.5V548.8M397.5 490.9V534.8M398.5 489.7V541.1M399.5 486.6V533.5M400.5 487.2V530.6M401.5 488.1V551.1M402.5 485.7V538.9M403.5 492.0V540.9M404.5 489.9V537.1M405.5 486.9V542.7M406.5 480.8V539.7M407.5 492.8V527.0M408.5 485.4V537.9M409.5 483.2V541.1M410.5 492.4V537.0M411.5 489.3V544.8M412.5 479.2V534.2M413.5 480.6V560.3M414.5 485.6V529.9M415.5 482.1V536.7M416.5 486.5V533.6M417.5 497.6V531.1M418.5 499.0V529.4M419.5 486.9V537.8M420.5 490.2V538.9M421.5 490.5V552.4M422.5 486.5V529.7M423.5 481.0V531.6M424.5 491.2V540.6M425.5 486.2V529.8M426.5 488.7V542.6M427.5 489.7V556.6M428.5 483.6V537.9M429.5 493.6V540.0M430.5 487.1V543.0M431.5 487.7V534.0M432.5 485.1V532.1M433.5 478.1V528.5M434.5 490.9V541.3M435.5 484.6V535.6M436.5 489.2V533.8M437.5 485.1V534.1M438.5 482.0V549.6M439.5 485.6V536.6M440.5 489.4V543.0M441.5 489.2V524.7M442.5 491.3V541.2M443.5 484.3V533.6M444.5 485.8V547.5M445.5 487.4V534.9M446.5 489.6V536.2M447.5 486.7V540.8M448.5 483.4V537.9M449.5 481.0V528.8M450.5 491.9V536.4M451.5 491.5V536.3M452.5 484.6V538.9M453.5 493.2V537.1M454.5 487.1V536.4M455.5 489.2V542.5M456.5 492.4V530.9M457.5 485.5V548.9M458.5 484.3V533.8M459.5 480.4V531.3M460.5 488.6V541.3M461.5 489.2V542.9M462.5 490.9V543.8M463.5 489.8V545.0M464.5 487.8V539.6M465.5 492.0V537.3M466.5 483.3V539.0M467.5 488.9V536.9M468.5 489.4V533.9M469.5 486.8V545.7M470.5 494.2V546.8M471.5 489.0V536.8M472.5 492.6V550.3M473.5 490.8V534.0M474.5 486.4V527.4M475.5 494.9V547.9M476.5 491.5V533.8M477.5 487.1V536.5M478.5 486.5V531.1M479.5 482.8V552.8M480.5 486.3V540.1M481.5 486.0V546.0M482.5 487.7V524.8M483.5 485.2V535.7M484.5 489.1V541.1M485.5 486.5V530.0M486.5 480.5V528.5M487.5 484.8V536.6M488.5 483.2V535.1M489.5 481.7V532.9M490.5 485.8V545.5M491.5 490.5V544.7M492.5 482.4V540.1M493.5 478.8V536.1M494.5 486.2V534.7M495.5 498.9V541.4M496.5 484.6V535.3M497.5 488.1V544.8M498.5 485.4V543.5M499.5 490.5V533.4M500.5 492.9V541.0M501.5 486.6V545.5M502.5 492.0V540.5M503.5 483.0V531.8M504.5 488.2V535.6M505.5 482.4V535.3M506.5 488.3V537.9M507.5 485.2V537.5M508.5 488.7V535.5M509.5 483.3V542.2M510.5 488.8V545.1M511.5 488.4V534.6M512.5 485.8V529.7M513.5 484.9V539.9M514.5 483.5V556.8M515.5 486.7V540.4M516.5 490.0V534.4M517.5 487.9V539.9M518.5 489.2V533.3M519.5 480.5V550.3M520.5 487.4V547.7M521.5 489.9V533.4M522.5 492.1V524.3M523.5 490.9V536.0M524.5 490.4V558.0M525.5 489.2V539.8M526.5 496.7V538.9M527.5 488.6V541.5M528.5 487.4V553.8M529.5 491.3V535.8M530.5 495.5V536.8M531.5 494.6V541.2M532.5 489.1V528.7M533.5 492.3V543.2M534.5 490.9V535.4M535.5 489.2V530.9M536.5 491.5V534.2M537.5 491.4V554.7M538.5 489.4V543.4M539.5 495.7V545.6M540.5 487.2V541.1M541.5 494.3V534.7M542.5 497.1V541.7M543.5 497.1V538.1M544.5 489.7V551.4M545.5 487.8V527.2M546.5 482.0V547.3M547.5 488.2V542.6M548.5 498.1V540.6M549.5 482.0V537.7M550.5 482.0V535.1M551.5 491.5V532.8M552.5 490.5V529.5M553.5 480.7V549.2M554.5 487.7V543.1M555.5 489.2V541.6M556.5 481.7V539.8M557.5 491.6V527.2M558.5 482.4V558.3M559.5 492.2V538.4M560.5 488.4V544.0M561.5 484.8V532.1M562.5 481.1V539.1M563.5 486.2V536.3M564.5 487.2V557.6M565.5 487.0V533.4M566.5 485.2V560.7M567.5 486.8V538.2M568.5 491.2V527.5M569.5 484.1V544.5M570.5 487.0V550.0M571.5 489.8V533.2M572.5 487.9V544.5M573.5 491.6V532.9M574.5 494.5V535.5M575.5 486.9V548.2M576.5 489.4V539.7M577.5 476.8V547.1M578.5 487.4V540.5M579.5 491.6V544.6M580.5 484.6V538.3M581.5 494.5V547.3M582.5 481.8V549.4M583.5 494.9V543.4M584.5 487.5V558.4M585.5 485.6V537.9M586.5 487.8V534.8M587.5 488.8V548.1M588.5 485.9V543.1M589.5 484.5V536.4M590.5 488.0V545.4M591.5 493.9V553.1M592.5 491.8V550.4M593.5 495.5V544.9M594.5 487.7V549.1M595.5 488.7V536.4M596.5 488.7V534.8M597.5 490.6V530.2M598.5 491.8V543.8M599.5 477.9V533.9M600.5 492.6V547.4M601.5 490.3V540.8M602.5 495.0V544.1M603.5 486.3V532.7M604.5 484.1V536.4M605.5 491.9V540.6M606.5 489.8V553.0M607.5 489.5V532.3M608.5 492.6V541.1M609.5 487.5V560.8M610.5 488.3V543.5M611.5 490.1V537.7M612.5 491.1V537.2M613.5 492.4V560.4M614.5 488.8V545.1M615.5 489.4V537.3M616.5 478.5V545.3M617.5 475.5V533.1M618.5 481.8V540.0M619.5 487.9V532.3M620.5 498.2V539.6M621.5 486.7V533.4M622.5 481.6V538.5M623.5 494.4V541.7M624.5 485.7V533.0M625.5 487.3V528.7M626.5 487.2V548.8M627.5 490.8V541.1M628.5 491.0V539.5M629.5 487.4V533.2M630.5 492.3V542.8M631.5 484.2V536.6M632.5 490.6V542.4M633.5 485.4V533.4M634.5 490.6V540.6M635.5 485.2V544.6M636.5 486.1V534.5M637.5 493.7V536.6M638.5 483.3V541.6M639.5 483.1V541.0M640.5 490.1V540.1M641.5 486.7V537.4M642.5 486.0V529.5M643.5 487.1V538.0M644.5 496.2V530.9M645.5 483.5V538.4M646.5 486.5V525.1M647.5 488.2V545.7M648.5 483.7V548.1M649.5 487.2V540.1M650.5 489.2V532.9M651.5 483.5V535.8M652.5 491.5V542.2M653.5 482.4V540.9M654.5 486.3V533.3M655.5 488.1V543.6M656.5 499.4V540.9M657.5 479.5V539.7M658.5 487.5V534.7M659.5 496.3V558.7M660.5 483.7V532.5M661.5 490.4V537.3M662.5 486.7V532.6M663.5 480.1V542.5M664.5 487.3V536.2M665.5 482.0V537.1M666.5 485.9V537.6M667.5 479.5V537.5M668.5 488.4V528.0M669.5 475.8V542.7M670.5 484.7V536.2M671.5 490.6V532.7M672.5 487.5V530.5M673.5 484.1V532.1M674.5 484.6V532.5M675.5 483.9V536.0M676.5 496.6V531.3M677.5 485.6V536.7M678.5 485.9V537.0M679.5 483.1V532.6M680.5 484.3V548.5M681.5 488.8V536.0M682.5 484.0V538.6M683.5 483.4V537.5M684.5 484.6V536.2M685.5 485.5V540.8M686.5 487.7V544.8M687.5 485.2V537.0M688.5 486.5V532.9M689.5 484.4V540.6M690.5 492.5V526.0M691.5 488.0V538.7M692.5 486.5V536.9M693.5 489.0V539.8M694.5 487.7V529.9M695.5 481.7V535.8M696.5 487.3V532.7M697.5 494.7V535.4M698.5 490.2V541.5M699.5 492.9V537.3M700.5 485.6V535.1M701.5 482.3V544.9M702.5 485.5V538.5M703.5 493.7V527.4M704.5 484.3V532.8M705.5 485.1V540.7M706.5 492.7V540.8M707.5 487.3V539.6M708.5 487.5V539.8M709.5 489.8V533.5M710.5 488.7V537.8M711.5 487.1V531.9M712.5 489.3V533.8M713.5 485.4V533.3M714.5 488.1V533.7M715.5 490.9V536.4M716.5 484.0V537.0M717.5 487.4V533.8M718.5 483.6V544.0M719.5 491.2V535.6M720.5 490.6V546.4M721.5 491.9V543.5M722.5 492.2V531.4M723.5 492.2V542.8M724.5 490.9V530.3M725.5 484.9V545.7M726.5 491.7V539.6M727.5 484.3V532.4M728.5 497.3V525.9M729.5 489.1V535.5M730.5 490.3V530.3M731.5 482.9V543.6M732.5 492.2V530.9M733.5 492.6V552.1M734.5 481.6V540.3M735.5 485.6V537.6M736.5 486.0V539.0M737.5 485.3V536.3M738.5 493.5V541.5M739.5 496.6V532.6M740.5 483.7V540.8M741.5 492.3V531.2M742.5 487.1V538.8M743.5 493.7V531.7M744.5 478.5V536.8M745.5 486.6V541.2M746.5 493.3V544.8M747.5 485.4V528.4M748.5 493.3V534.0M749.5 486.6V533.0M750.5 493.3V544.9M751.5 491.1V533.7M752.5 487.2V542.3M753.5 485.9V535.8M754.5 488.3V530.8M755.5 493.7V557.7M756.5 489.1V532.5M757.5 486.5V542.7M758.5 502.4V543.3M759.5 482.9V546.0M760.5 488.3V533.3M761.5 491.4V547.3M762.5 485.0V544.1M763.5 489.2V557.8M764.5 487.5V550.8M765.5 483.2V553.8M766.5 491.0V533.1M767.5 484.6V540.5M768.5 486.1V531.4M769.5 494.0V537.9M770.5 484.6V555.8M771.5 491.4V542.0M772.5 493.7V554.2M773.5 492.9V538.4M774.5 490.8V533.4M775.5 487.9V540.5M776.5 483.2V542.0M777.5 489.3V538.7M778.5 490.5V544.6M779.5 486.6V542.4M780.5 484.7V540.3M781.5 492.1V544.5M782.5 484.4V557.5M783.5 490.3V538.0M784.5 486.6V528.5M785.5 481.8V538.0M786.5 495.0V535.6M787.5 491.0V542.6M788.5 490.7V535.7M789.5 482.9V534.7M790.5 488.0V537.6M791.5 489.7V537.5M792.5 485.6V541.0M793.5 495.2V533.5M794.5 480.6V530.1M795.5 491.5V529.7M796.5 481.2V544.6M797.5 482.5V531.6M798.5 483.7V536.0M799.5 491.2V560.3M800.5 486.1V543.4M801.5 486.3V535.6M802.5 485.4V545.4M803.5 491.6V537.0M804.5 487.9V516.8M805.5 485.4V517.9M806.5 486.6V534.8M807.5 479.9V513.0M808.5 481.7V516.1M809.5 487.4V518.7M810.5 494.5V516.3M811.5 489.6V512.8M812.5 483.9V541.7M813.5 486.9V515.8M814.5 485.8V515.9M815.5 494.7V516.4M816.5 484.4V517.6M817.5 485.6V515.9M818.5 485.4V539.2M819.5 482.1V515.9M820.5 476.6V516.4M821.5 485.6V519.0M822.5 487.8V527.8M823.5 484.9V545.5M824.5 487.7V513.9M825.5 488.4V516.7M826.5 488.2V514.6M827.5 481.2V508.4M828.5 490.6V518.3M829.5 488.7V514.3M830.5 488.5V513.3M831.5 486.2V512.3M832.5 486.1V513.3M833.5 484.5V512.8M834.5 487.4V515.6M835.5 488.8V516.3M836.5 484.4V515.7M837.5 488.5V534.9M838.5 484.7V513.8M839.5 487.8V517.3M840.5 485.6V515.6M841.5 488.6V516.9M842.5 491.7V517.3M843.5 486.6V514.9M844.5 484.5V518.8M845.5 484.7V539.3M846.5 487.7V514.7M847.5 484.4V520.0M848.5 488.7V541.7M849.5 486.7V511.8M850.5 488.4V510.0M851.5 484.1V514.0M852.5 482.9V516.6M853.5 483.4V548.3M854.5 486.8V517.0M855.5 483.3V515.4M856.5 487.6V517.7M857.5 479.5V517.1M858.5 483.6V514.3M859.5 485.0V515.8M860.5 480.1V517.9M861.5 483.7V513.7M862.5 481.1V513.8M863.5 485.3V513.3M864.5 484.8V518.9M865.5 487.7V516.9M866.5 483.0V517.4M867.5 480.7V514.4M868.5 483.9V515.3M869.5 485.9V518.3M870.5 485.8V514.7M871.5 486.1V518.3M872.5 489.2V515.4M873.5 484.6V515.4M874.5 485.1V516.9M875.5 483.2V517.6M876.5 484.0V519.9M877.5 488.9V514.8M878.5 486.9V519.8M879.5 478.1V533.8M880.5 489.5V513.6M881.5 480.0V537.4M882.5 484.7V517.8M883.5 488.9V519.4M884.5 486.4V512.9M885.5 487.7V547.2M886.5 488.6V549.1M887.5 487.0V512.1M888.5 482.4V516.1M889.5 487.2V516.7M890.5 484.0V514.7M891.5 479.0V513.4M892.5 485.2V516.3M893.5 487.7V543.9M894.5 486.4V512.5M895.5 486.1V515.7M896.5 491.2V517.2M897.5 486.8V509.0M898.5 488.7V516.6M899.5 486.9V520.0M900.5 490.8V512.6M901.5 484.8V518.9M902.5 489.3V515.0M903.5 491.2V517.1M904.5 484.7V515.2M905.5 488.8V512.7M906.5 481.6V511.3M907.5 486.5V545.7M908.5 487.7V512.1M909.5 483.0V514.6M910.5 480.1V526.5M911.5 485.5V515.9M912.5 484.3V515.5M913.5 485.7V510.1M914.5 486.0V513.4M915.5 487.5V511.6M916.5 489.6V510.4M917.5 486.2V515.6M918.5 480.3V516.7M919.5 486.7V512.7M920.5 485.8V512.9M921.5 485.1V515.5M922.5 489.3V516.5M923.5 485.3V511.8M924.5 483.5V517.2M925.5 485.9V516.6M926.5 479.7V514.3M927.5 487.3V511.5M928.5 477.3V515.7M929.5 489.5V516.0M930.5 486.5V518.6M931.5 485.7V512.9M932.5 485.1V538.7M933.5 481.2V513.6M934.5 484.5V515.8M935.5 485.7V514.3M936.5 487.8V514.9M937.5 486.2V532.5M938.5 487.1V513.2M939.5 487.2V517.0M940.5 483.7V514.4M941.5 486.3V540.0M942.5 484.9V513.6M943.5 482.0V516.0M944.5 481.4V510.7M945.5 488.4V515.1M946.5 490.4V518.4M947.5 490.5V518.1M948.5 483.9V512.2M949.5 491.0V513.6M950.5 491.4V515.5M951.5 484.7V521.3M952.5 488.5V515.8M953.5 492.3V517.0M954.5 487.7V516.6M955.5 491.1V518.1M956.5 485.9V543.1M957.5 486.9V518.2M958.5 490.6V518.9M959.5 487.6V520.4M960.5 488.6V515.8M961.5 488.6V538.2M962.5 485.4V522.9M963.5 492.9V520.2M964.5 488.2V520.0M965.5 487.7V512.4M966.5 487.4V521.7M967.5 488.9V523.2M968.5 486.0V521.5M969.5 491.3V519.8M970.5 487.7V549.6M971.5 491.1V525.9M972.5 486.1V516.7M973.5 485.6V517.4M974.5 485.9V521.1M975.5 489.2V518.9M976.5 484.6V512.9M977.5 490.9V518.7M978.5 487.3V518.9M979.5 490.8V515.7M980.5 487.0V518.8M981.5 490.4V518.4M982.5 484.9V513.2M983.5 484.5V518.8M984.5 489.4V522.8M985.5 486.0V547.4M986.5 490.6V514.5M987.5 485.3V513.9M988.5 488.8V517.2M989.5 484.8V517.7M990.5 482.0V513.6M991.5 491.3V515.0M992.5 486.4V520.1M993.5 489.8V517.3M994.5 487.4V519.2M995.5 481.7V516.5M996.5 487.9V519.0M997.5 489.8V515.1M998.5 490.4V515.1M999.5 491.4V514.0M1000.5 487.6V511.5M1001.5 486.1V528.0M1002.5 486.5V512.8M1003.5 482.8V514.9M1004.5 488.4V516.3M1005.5 488.3V516.4M1006.5 487.1V516.8M1007.5 483.7V514.8M1008.5 487.8V515.6M1009.5 484.2V518.5M1010.5 489.5V515.2M1011.5 483.9V515.6M1012.5 484.1V509.4M1013.5 484.7V512.7M1014.5 482.5V518.1M1015.5 482.9V513.2M1016.5 484.6V512.6M1017.5 478.1V517.6M1018.5 491.3V512.1M1019.5 486.4V517.6M1020.5 475.6V514.8M1021.5 482.7V513.5M1022.5 485.8V510.0M1023.5 485.2V518.3M1024.5 485.5V510.5M1025.5 480.9V512.0M1026.5 484.9V546.9M1027.5 479.7V512.0M1028.5 484.7V516.4M1029.5 482.7V515.0M1030.5 483.6V514.5M1031.5 484.4V512.6M1032.5 487.9V513.6M1033.5 489.1V516.0M1034.5 485.7V512.9M1035.5 482.4V517.0M1036.5 490.1V516.1M1037.5 481.6V516.9M1038.5 484.2V516.2M1039.5 485.3V517.1M1040.5 483.8V516.8M1041.5 490.0V517.9M1042.5 487.4V516.9M1043.5 489.4V544.3M1044.5 485.4V513.9M1045.5 489.0V511.9M1046.5 486.0V516.4M1047.5 486.1V518.8M1048.5 487.5V514.2M1049.5 487.9V512.6M1050.5 488.5V515.3M1051.5 486.2V517.6M1052.5 482.5V518.9M1053.5 486.1V516.0M1054.5 479.1V514.0M1055.5 486.3V516.8M1056.5 484.8V518.7M1057.5 489.7V516.9M1058.5 479.2V519.6M1059.5 493.3V515.9M1060.5 486.3V548.1M1061.5 482.7V521.3M1062.5 488.7V514.8M1063.5 488.9V515.1M1064.5 488.8V518.9M1065.5 494.0V525.1M1066.5 485.1V518.6M1067.5 488.4V517.3M1068.5 488.0V520.7M1069.5 485.6V517.2M1070.5 488.5V513.4M1071.5 491.4V515.1M1072.5 485.1V520.9M1073.5 489.0V513.3M1074.5 490.7V535.3M1075.5 489.6V519.5M1076.5 482.9V517.9M1077.5 488.5V520.5M1078.5 486.5V514.8M1079.5 491.3V515.6M1080.5 487.2V516.6M1081.5 493.4V514.3M1082.5 483.9V516.8M1083.5 489.0V516.9M1084.5 484.8V519.4M1085.5 492.7V517.0M1086.5 492.0V516.2M1087.5 484.5V518.3M1088.5 489.5V519.8M1089.5 487.0V519.6M1090.5 482.3V517.6M1091.5 483.9V515.9M1092.5 487.3V515.6M1093.5 488.4V513.5M1094.5 485.7V516.9M1095.5 487.7V516.6M1096.5 487.7V520.7M1097.5 487.5V517.1M1098.5 483.1V536.7M1099.5 487.0V519.7M1100.5 488.1V511.7M1101.5 482.1V514.8M1102.5 491.1V515.8M1103.5 490.8V516.6M1104.5 486.9V513.5M1105.5 492.7V518.4M1106.5 484.1V518.5M1107.5 483.6V517.5M1108.5 484.6V518.0M1109.5 484.3V513.5M1110.5 491.9V544.7M1111.5 486.6V547.5M1112.5 486.3V533.8M1113.5 487.5V516.6M1114.5 491.2V517.3M1115.5 486.9V543.1M1116.5 485.3V536.1M1117.5 487.2V513.4M1118.5 490.2V515.9M1119.5 485.8V509.9M1120.5 490.6V518.8M1121.5 487.3V518.7M1122.5 485.8V515.7M1123.5 487.8V518.8M1124.5 492.2V515.7M1125.5 485.6V537.9M1126.5 490.4V517.7M1127.5 487.9V517.5M1128.5 486.7V513.8M1129.5 486.4V512.5M1130.5 488.6V513.6M1131.5 488.0V518.9M1132.5 487.3V515.3M1133.5 488.1V523.0M1134.5 483.6V514.4M1135.5 484.2V517.5M1136.5 483.2V516.8M1137.5 485.1V515.4M1138.5 485.5V518.1M1139.5 485.1V513.9M1140.5 487.8V515.9M1141.5 483.4V513.1M1142.5 485.5V538.2M1143.5 488.8V535.8M1144.5 491.2V513.2M1145.5 486.4V512.8M1146.5 489.8V517.5M1147.5 490.3V515.7M1148.5 483.2V517.0M1149.5 487.0V520.4M1150.5 483.2V516.5M1151.5 485.1V517.2M1152.5 487.5V513.1M1153.5 482.5V518.2M1154.5 487.9V518.3M1155.5 485.9V513.5M1156.5 485.6V517.8M1157.5 488.0V548.0M1158.5 475.7V515.7M1159.5 481.4V516.5M1160.5 486.6V522.4M1161.5 484.4V514.7M1162.5 486.0V515.6M1163.5 483.4V516.7M1164.5 483.9V516.1M1165.5 483.7V547.1M1166.5 483.0V518.3M1167.5 484.5V519.1M1168.5 484.7V521.2M1169.5 487.1V528.4M1170.5 496.5V513.9M1171.5 485.4V518.7M1172.5 482.6V529.1M1173.5 489.1V517.3M1174.5 483.8V529.7M1175.5 484.9V517.9M1176.5 486.6V516.4M1177.5 487.8V519.3M1178.5 488.0V515.4M1179.5 488.6V523.7M1180.5 487.6V519.7M1181.5 491.2V516.3M1182.5 490.5V515.5M1183.5 486.4V517.4M1184.5 487.4V516.8M1185.5 484.1V515.9M1186.5 490.0V521.5M1187.5 487.5V531.9M1188.5 493.7V515.3M1189.5 486.1V519.3M1190.5 492.5V533.5M1191.5 485.3V519.8M1192.5 483.0V516.2M1193.5 485.4V523.1M1194.5 488.8V517.9M1195.5 490.7V522.6M1196.5 485.1V516.4M1197.5 490.4V520.9M1198.5 485.9V517.1M1199.5 485.9V521.4M1200.5 486.4V532.3M1201.5 492.0V514.4M1202.5 487.5V514.2M1203.5 487.8V515.2M1204.5 482.3V518.2M1205.5 487.1V517.4M1206.5 487.3V516.7M1207.5 491.1V518.9M1208.5 483.6V520.2M1209.5 483.9V513.4M1210.5 483.2V518.3M1211.5 483.8V521.4M1212.5 487.5V513.9M1213.5 483.1V513.9M1214.5 489.1V516.2M1215.5 485.3V515.7M1216.5 482.4V513.7M1217.5 483.0V514.7M1218.5 480.8V518.8M1219.5 480.5V517.0M1220.5 488.1V512.6M1221.5 487.2V510.3M1222.5 481.7V511.8M1223.5 483.2V515.0M1224.5 489.2V512.5M1225.5 482.4V512.4M1226.5 485.2V516.3M1227.5 486.0V513.8M1228.5 484.0V513.6M1229.5 484.1V515.1M1230.5 483.7V518.2M1231.5 485.0V515.4M1232.5 480.2V532.0M1233.5 485.0V534.6M1234.5 485.4V542.7M1235.5 481.1V511.9M1236.5 486.4V512.2M1237.5 482.4V513.9M1238.5 477.5V520.3" stroke="#56b4e9" stroke-width="1" fill="none"/>
<path d="M101.4 487.7V531.4M102.3 480.0V540.0M103.8 478.1V533.5M104.3 479.0V537.3M105.1 492.3V534.5M106.4 490.2V537.2M107.9 480.3V536.2M108.8 485.9V523.7M110.0 486.1V542.7M110.6 481.5V540.2M111.5 482.7V527.2M112.2 489.0V539.5M113.1 488.0V549.9M114.9 488.7V535.3M115.6 486.5V541.4M116.5 485.6V539.9M117.5 487.2V539.8M118.2 484.6V545.3M119.7 491.9V540.5M120.3 486.2V531.6M121.1 487.5V528.1M122.9 485.0V539.3M123.7 482.8V526.0M124.1 485.3V533.2M125.3 484.3V545.6M126.0 482.4V531.4M127.9 488.9V542.3M128.7 493.7V536.9M129.8 487.0V534.2M130.6 485.5V540.1M131.2 483.2V533.3M132.7 480.3V541.9M133.5 488.6V549.4M135.0 488.5V535.0M135.1 483.2V535.0M136.3 486.7V541.9M137.6 483.1V553.1M138.5 492.2V529.5M139.5 487.2V530.8M140.8 488.6V527.8M141.1 493.7V536.3M142.9 478.2V538.0M143.3 488.7V536.4M144.3 488.3V536.5M145.1 486.2V541.6M146.4 487.5V560.6M147.3 492.5V543.5M148.3 485.1V536.4M149.8 478.9V537.3M150.5 494.8V545.1M151.3 492.1V539.7M152.3 490.1V544.5M153.1 491.6V535.3M154.3 488.9V537.7M155.2 487.5V534.7M156.2 488.2V538.1M157.2 490.2V540.6M158.3 487.3V560.2M159.0 482.9V548.9M160.4 488.7V530.9M161.9 490.6V543.4M162.7 489.1V533.3M163.6 492.3V540.6M164.8 490.9V535.1M165.8 493.7V539.6M166.8 490.5V553.9M167.9 489.3V562.6M168.6 492.3V533.0M169.6 493.6V535.7M170.9 488.4V539.6M171.1 486.8V543.7M173.0 495.4V547.9M173.9 488.1V530.5M174.5 491.6V541.8M175.8 488.2V537.0M176.7 490.9V539.4M177.5 495.5V541.0M178.1 496.6V543.4M179.6 481.2V541.4M180.3 484.2V539.1M181.5 476.6V547.3M182.1 492.1V540.6M183.5 495.8V539.0M184.9 490.7V544.9M185.8 488.5V533.0M186.7 492.8V534.0M187.0 485.8V546.4M188.6 492.1V537.8M189.1 494.7V529.4M190.9 494.3V542.9M191.9 492.1V545.0M192.8 487.3V534.6M193.4 488.0V531.8M194.2 485.7V538.3M195.9 496.5V540.4M196.1 494.1V535.4M197.7 489.0V533.7M198.2 488.9V541.2M199.1 490.1V541.2M200.7 486.5V530.2M201.7 491.1V532.6M202.9 491.0V536.7M203.8 490.8V535.1M204.9 489.3V539.5M205.7 479.2V541.0M206.3 488.3V548.0M207.9 483.5V540.2M208.6 482.4V543.2M209.1 497.8V530.2M210.3 487.1V534.7M211.0 488.3V543.8M212.4 487.8V530.8M214.0 485.7V545.3M214.3 495.3V541.2M215.8 481.7V539.0M216.5 490.8V537.7M217.1 486.6V532.2M218.5 493.9V532.6M219.6 492.2V535.5M220.9 489.2V536.0M221.5 483.0V544.6M222.7 491.9V532.8M223.8 492.6V534.8M224.9 491.3V529.0M225.3 487.5V538.9M226.9 491.1V537.9M227.3 485.5V543.6M228.2 489.5V547.8M229.5 489.9V540.6M230.8 487.5V533.3M231.6 484.4V538.9M232.6 487.4V539.1M233.1 484.8V537.3M234.1 483.5V531.9M236.0 492.2V555.8M236.8 487.4V531.1M237.4 486.0V536.9M238.6 485.9V535.7M239.9 489.6V523.8M240.7 486.5V540.3M241.1 484.9V548.2M242.8 488.7V535.1M243.7 488.1V533.7M244.6 484.0V541.7M245.5 483.2V530.0M246.4 492.5V536.8M247.0 486.2V537.9M248.8 491.9V533.7M249.9 489.5V536.1M250.5 486.8V532.0M251.5 486.0V533.3M252.9 493.3V539.7M253.3 484.3V531.7M254.0 485.2V533.2M255.2 483.4V532.5M256.3 486.0V538.7M257.6 482.9V534.0M258.3 487.0V531.5M259.8 481.6V537.6M260.0 488.6V525.5M262.0 487.8V526.0M262.3 487.3V537.4M263.5 484.1V545.6M264.4 491.6V533.4M265.1 494.4V537.7M266.4 486.0V528.7M267.2 483.5V536.6M268.1 489.1V537.0M269.1 485.8V539.0M270.3 487.2V532.2M271.8 489.2V546.1M272.7 481.3V531.1M273.5 489.5V544.0M274.3 482.6V530.5M275.6 481.8V540.2M276.5 485.2V543.1M277.2 492.4V547.4M278.3 484.2V535.5M279.3 488.5V527.5M280.8 483.0V540.4M281.8 489.1V532.3M282.5 487.8V530.4M283.9 491.1V532.9M284.7 487.2V531.2M285.9 486.5V547.9M286.2 479.1V536.9M287.5 487.6V539.4M288.9 489.5V540.3M289.2 487.1V533.8M290.4 487.0V539.4M291.8 488.5V542.1M292.4 489.7V546.8M293.1 482.8V536.6M294.4 486.0V534.4M295.4 488.0V544.4M296.1 487.3V533.8M297.3 482.6V535.9M298.6 478.6V537.2M299.9 487.7V528.9M300.4 489.3V547.0M301.1 493.1V534.9M302.2 488.2V532.9M303.2 483.1V532.9M304.3 488.3V537.9M305.9 486.2V531.0M306.8 484.0V546.8M307.4 481.0V530.6M309.0 479.5V537.3M309.8 484.0V530.4M310.8 485.1V542.4M312.0 487.0V540.1M313.0 486.8V543.3M313.2 487.7V531.9M314.7 494.3V529.5M315.9 486.6V529.5M316.6 492.3V535.2M317.7 483.8V541.9M318.7 484.1V540.1M319.2 484.9V540.0M320.8 479.9V530.1M321.5 493.6V542.3M322.0 488.2V540.5M323.7 490.1V533.9M324.8 494.2V547.4M325.5 489.2V532.8M326.3 494.0V536.4M327.0 478.4V545.5M328.3 492.9V538.5M329.2 489.2V537.2M330.1 486.0V546.0M331.8 492.6V546.0M332.6 488.6V540.0M333.6 485.9V541.5M334.4 481.2V544.9M335.2 496.1V534.8M336.1 478.9V540.9M337.9 489.7V536.7M338.4 495.9V534.1M339.1 492.3V541.9M340.7 487.4V545.2M341.5 481.1V549.4M342.8 487.8V543.8M343.7 491.3V550.5M344.7 490.2V539.1M345.4 485.5V532.2M346.3 484.8V536.9M347.1 495.3V542.4M348.1 485.7V537.3M349.7 486.4V550.5M351.0 500.1V546.8M351.7 487.6V539.5M352.4 485.7V549.6M353.5 487.1V543.9M354.0 493.9V549.1M355.8 487.9V539.6M356.0 490.3V544.6M357.2 481.6V539.2M359.0 488.3V540.4M359.5 490.8V546.3M360.4 490.8V550.3M361.8 496.4V540.8M362.7 492.5V541.7M363.4 478.9V535.4M364.6 483.8V538.9M365.4 486.7V542.5M366.7 488.9V533.3M367.1 490.2V537.5M368.7 492.5V533.8M369.1 483.2V540.7M370.2 480.9V544.2M371.2 492.9V553.5M372.7 485.7V538.0M373.9 480.2V534.1M374.5 485.8V530.9M375.7 487.8V539.4M376.6 484.7V547.3M377.5 484.8V537.8M378.9 493.5V538.9M379.8 485.0V536.8M380.5 490.6V533.2M381.9 490.2V544.7M382.1 487.9V550.8M383.7 498.7V531.3M384.2 483.8V532.5M385.3 499.5V546.0M386.4 485.3V534.3M387.1 488.0V538.6M388.4 490.3V533.4M389.1 493.4V540.5M390.8 491.7V534.6M391.4 487.4V535.5M392.4 487.4V532.7M393.1 493.4V548.4M394.7 494.7V552.0M395.4 486.4V539.4M396.1 493.3V541.7M397.9 490.5V541.0M398.2 489.2V538.0M399.0 483.6V537.3M400.3 482.9V535.8M401.7 489.5V541.7M402.9 476.5V531.0M403.9 485.5V532.9M404.4 489.1V540.9M405.4 480.6V529.6M406.0 493.7V545.4M407.5 493.7V535.4M408.8 482.7V537.7M409.7 486.4V554.5M410.8 486.3V536.3M411.3 484.5V537.1M412.3 484.7V533.3M413.4 488.5V539.1M414.5 493.3V540.0M415.4 476.1V531.7M416.9 487.0V539.8M417.3 487.2V541.5M418.1 483.9V538.9M419.5 489.2V532.5M420.0 484.8V552.4M421.0 482.9V543.8M422.4 489.6V534.1M423.7 479.6V527.2M424.6 485.2V533.2M425.3 485.8V537.2M426.4 486.9V544.0M427.3 481.4V543.6M428.1 484.0V541.1M429.4 487.3V534.2M430.6 490.4V541.8M431.3 487.7V537.9M432.5 487.5V532.6M433.7 485.1V528.7M434.1 488.7V543.6M435.0 477.6V529.8M436.4 491.4V545.1M437.4 492.8V550.6M438.9 489.0V538.9M439.8 485.2V534.4M440.3 494.5V535.5M441.8 486.6V535.4M442.5 494.7V541.1M443.6 488.3V544.4M444.2 480.1V535.1M445.3 488.6V537.4M446.9 486.7V535.7M447.2 488.8V545.2M448.0 491.4V557.1M449.1 488.4V534.6M450.6 487.5V537.4M451.5 489.2V539.9M452.6 490.8V529.5M453.3 489.2V536.1M454.1 491.3V539.6M455.2 491.4V531.4M457.0 490.2V539.8M457.8 491.8V538.9M458.7 488.9V535.6M460.0 493.3V557.1M460.7 490.3V533.5M461.1 492.0V540.6M462.3 487.8V536.9M463.7 482.9V544.0M464.8 486.7V534.0M465.7 488.6V541.3M466.9 489.8V541.3M467.5 488.2V544.0M468.2 494.1V546.5M469.6 483.1V529.9M470.7 481.2V537.5M471.8 487.5V532.1M472.1 485.5V543.0M473.2 488.2V545.0M474.9 490.7V536.2M475.8 498.8V539.0M476.3 482.9V544.7M477.1 483.8V538.8M478.6 487.8V537.0M479.7 482.2V529.0M480.1 485.0V533.9M482.0 493.0V542.9M482.3 487.7V529.9M483.7 487.8V539.1M484.4 492.3V538.8M485.1 481.2V537.5M486.2 488.4V541.8M487.6 487.7V533.6M488.8 488.9V544.9M489.9 477.4V557.2M490.5 486.1V542.9M491.3 487.4V534.4M492.2 490.7V538.8M493.0 484.9V535.7M494.9 490.1V546.3M495.1 479.3V531.9M496.4 489.3V547.9M497.6 490.7V545.0M498.7 484.0V541.6M500.0 486.4V537.0M500.3 487.5V557.1M501.3 488.6V530.3M502.4 492.1V558.4M503.8 488.1V538.9M504.8 486.4V556.5M505.9 486.4V541.8M506.2 488.2V544.5M507.6 490.1V538.8M508.6 488.0V532.9M509.0 484.7V534.7M510.2 485.5V544.6M511.6 483.6V537.0M512.1 483.2V543.8M513.7 484.7V527.8M514.3 484.2V533.6M515.0 489.4V552.5M517.0 481.7V537.4M518.0 486.6V545.4M518.4 481.7V528.9M519.5 489.3V535.5M520.6 487.3V523.7M521.8 491.1V532.7M522.2 488.3V538.1M523.7 482.1V529.7M524.6 486.3V535.5M525.5 483.7V547.4M526.3 484.2V534.1M527.5 482.3V537.2M528.2 485.1V538.5M529.8 486.8V538.4M530.5 487.3V551.8M531.6 496.2V544.4M532.7 486.1V538.1M533.6 487.1V533.0M534.4 486.6V543.7M535.4 486.1V534.6M536.3 486.0V547.3M537.4 487.5V541.5M538.5 486.7V536.6M539.8 490.4V534.7M540.9 489.3V532.9M541.7 484.4V533.3M542.9 487.9V536.2M543.9 489.2V545.0M544.9 487.1V538.8M545.9 487.3V537.5M546.4 487.9V540.3M547.5 490.7V536.4M548.7 489.1V531.5M549.9 486.4V530.3M550.1 488.3V545.9M551.6 493.3V536.8M552.4 484.9V546.9M553.0 491.1V548.5M554.7 487.6V539.8M555.1 502.8V542.4M556.6 490.9V536.4M557.1 488.7V537.6M558.3 488.0V538.7M559.9 482.6V538.2M560.6 486.4V546.3M561.3 496.1V537.6M562.2 489.7V542.9M563.2 487.2V538.7M564.9 488.2V541.4M565.6 488.4V551.2M566.2 484.5V529.6M567.6 488.5V544.2M568.1 490.1V534.5M569.3 482.4V538.9M570.7 487.2V536.0M571.8 477.6V535.3M572.9 481.6V530.5M573.9 491.2V523.4M574.5 492.8V549.4M575.4 495.2V542.6M576.7 483.1V536.6M577.6 487.8V527.8M578.0 486.8V541.6M579.4 492.2V546.5M580.4 489.4V540.3M581.4 488.5V528.7M582.3 490.5V535.2M583.1 486.5V539.5M584.9 492.0V537.7M585.7 487.0V552.3M586.2 492.6V532.9M587.9 489.1V534.7M588.3 489.3V524.6M589.7 484.1V544.4M590.2 482.6V541.7M591.9 482.5V535.8M592.7 490.3V528.4M593.7 480.3V543.0M594.9 493.7V530.5M595.7 487.3V531.3M596.8 483.4V527.7M597.3 489.9V530.5M598.8 483.8V533.1M599.6 488.7V532.3M600.5 487.6V544.3M601.9 493.2V542.2M602.4 492.1V538.8M603.6 492.2V535.2M604.1 486.9V538.1M605.3 493.5V531.1M606.7 488.5V540.6M607.2 489.3V533.3M608.1 490.5V535.7M609.8 489.9V540.4M610.1 483.8V533.8M612.0 491.4V531.0M612.4 483.0V544.3M613.9 490.8V529.2M614.4 488.8V531.6M615.3 489.4V532.3M616.5 484.9V534.7M617.8 492.9V538.0M618.7 488.6V521.0M620.0 492.3V536.0M620.2 486.3V546.5M621.2 486.4V545.3M622.5 489.3V543.6M623.2 493.0V538.2M624.0 484.0V539.8M625.6 486.8V550.6M626.8 487.0V529.3M627.9 487.8V540.5M628.3 487.0V544.4M629.5 492.8V540.0M630.7 491.3V538.1M631.0 488.7V543.0M632.7 491.7V539.9M633.1 492.3V544.2M634.5 486.0V535.6M635.7 485.5V527.9M636.4 490.8V540.5M637.9 496.2V542.6M638.4 479.0V533.3M639.2 485.6V538.9M640.3 490.9V541.5M641.1 484.8V553.1M642.1 491.1V551.0M643.6 488.6V558.6M644.6 482.9V546.5M645.8 485.9V530.8M646.8 489.0V528.5M647.4 484.2V555.8M648.2 489.8V535.4M649.4 488.7V541.1M650.4 478.7V533.5M651.0 489.0V535.3M652.5 486.1V540.8M654.0 488.3V531.8M654.1 483.7V536.6M655.3 492.8V535.9M656.6 486.4V539.7M657.6 491.8V541.8M658.6 495.5V561.1M659.8 493.4V544.8M660.5 487.3V534.3M661.2 487.9V534.8M662.0 487.1V537.4M663.1 488.5V535.5M664.2 484.1V547.2M665.4 480.4V521.0M666.8 488.5V527.0M667.2 487.4V524.7M668.2 493.1V544.7M669.1 494.1V541.5M670.6 482.0V533.0M671.5 483.7V539.0M672.6 490.2V527.0M673.1 491.8V535.2M674.0 487.8V545.2M675.2 487.5V540.5M676.3 480.3V548.9M677.9 496.0V534.2M679.0 484.7V543.4M679.9 489.5V537.6M680.3 488.7V538.8M681.6 483.9V538.4M682.0 490.6V541.3M683.6 492.9V544.4M684.0 487.2V558.9M685.2 487.9V539.1M686.8 489.8V548.4M687.2 491.1V538.6M688.4 490.6V532.4M689.6 483.9V542.5M690.3 483.7V540.9M691.5 485.1V538.7M692.3 476.9V536.8M693.5 482.1V533.1M694.1 486.4V531.5M695.4 484.5V530.6M696.8 483.9V532.3M697.8 490.4V541.9M698.2 488.3V539.1M699.1 490.2V528.7M700.3 486.4V531.3M701.2 485.4V544.2M702.8 483.7V546.1M703.3 488.0V541.5M704.6 480.1V548.6M705.6 483.7V532.9M706.2 489.3V539.3M707.1 490.3V533.3M708.6 486.9V549.3M709.1 482.7V539.4M710.8 489.3V539.3M711.2 484.4V539.1M712.4 486.7V533.2M713.2 483.5V548.8M714.6 494.2V524.3M715.2 493.0V534.6M716.1 484.0V531.5M717.9 482.8V541.6M718.0 487.1V544.7M719.1 489.7V538.7M720.3 492.1V531.5M721.0 487.1V531.1M722.7 482.6V541.4M723.3 488.4V535.8M724.5 488.3V535.8M725.3 481.3V531.3M726.6 486.4V538.7M727.4 486.2V538.5M728.1 483.7V541.9M729.8 488.3V532.2M730.5 491.5V537.3M731.3 491.4V559.8M732.5 484.1V538.8M733.8 485.3V537.7M734.5 490.3V535.6M735.6 486.4V542.7M736.2 486.4V530.7M737.6 496.2V546.5M738.2 478.1V540.2M740.0 485.4V541.2M740.6 484.7V539.6M741.1 487.8V534.1M742.8 494.6V535.0M743.2 487.5V543.5M744.6 487.0V538.1M745.6 488.8V540.0M746.1 487.0V536.3M747.8 489.7V543.0M748.7 498.0V542.0M750.0 485.6V531.1M750.7 487.5V549.3M751.5 488.0V544.3M752.3 480.3V543.1M753.2 490.7V540.3M754.7 488.2V538.2M755.9 481.0V561.9M756.8 487.5V555.2M757.4 489.2V538.2M758.3 485.2V532.6M759.3 492.8V538.6M760.1 486.5V539.3M761.1 483.1V544.3M762.9 492.0V532.2M763.3 488.5V536.6M764.2 489.6V537.4M765.8 483.0V544.7M766.9 484.0V545.5M767.6 485.5V540.5M768.5 488.8V545.5M769.5 489.0V540.2M770.9 494.8V540.2M771.6 495.5V527.0M772.5 490.2V534.8M773.5 489.4V533.5M775.0 497.1V542.4M775.8 490.1V540.3M776.9 493.8V533.9M777.0 488.1V540.2M778.6 489.6V539.3M779.4 489.0V542.1M780.3 487.4V536.9M782.0 491.5V536.0M782.7 486.9V546.8M783.9 489.7V538.5M784.3 491.7V559.9M785.0 498.2V535.1M786.3 482.8V538.7M787.2 490.4V538.2M788.3 492.6V534.6M789.6 488.8V544.0M790.2 493.4V532.5M791.5 492.1V541.3M793.0 491.9V551.7M793.4 488.5V543.8M794.4 489.3V540.2M795.0 489.2V546.2M796.3 486.3V551.1M797.6 490.8V536.1M798.5 486.0V548.9M799.6 486.5V532.8M800.3 484.8V537.3M801.8 494.2V540.2M802.9 487.9V540.1M803.7 488.8V519.2M804.7 485.2V513.5M805.8 491.9V519.0M806.6 482.3V516.0M807.2 484.3V514.2M809.0 492.8V548.7M809.4 485.3V515.2M810.0 484.0V513.9M811.3 481.5V516.4M812.5 489.5V513.6M813.5 489.9V538.9M814.7 487.0V514.9M815.5 481.4V540.5M816.9 486.0V521.0M817.9 483.9V518.0M818.3 488.8V536.1M819.8 490.5V516.8M820.8 487.3V511.9M821.3 487.2V543.9M823.0 490.5V515.3M823.4 490.9V513.8M824.6 482.3V513.1M825.1 487.1V541.6M826.1 482.2V514.1M827.5 483.4V513.5M828.5 489.1V514.0M829.8 482.4V513.9M830.9 485.2V517.4M831.0 489.4V516.2M832.1 487.1V511.8M833.4 480.8V518.8M834.8 485.4V518.1M835.4 485.1V514.8M836.2 483.1V513.1M837.1 491.9V515.6M838.7 486.0V514.1M839.5 486.0V516.9M840.6 488.9V515.5M841.9 486.4V518.7M842.6 482.0V511.6M843.1 486.0V514.1M844.4 487.2V516.4M845.8 486.4V514.4M846.0 489.1V514.6M847.9 488.6V512.8M848.9 487.5V520.4M849.2 485.5V515.2M851.0 486.1V517.3M851.6 491.7V513.7M852.2 481.1V514.5M853.7 489.3V515.4M854.7 487.3V527.7M855.7 483.9V519.0M856.9 485.9V520.7M857.8 487.8V519.3M858.1 481.8V519.3M859.3 486.5V515.1M860.6 487.8V514.0M861.4 483.4V518.9M862.4 486.5V514.0M863.3 490.3V517.1M864.5 486.9V514.4M865.0 483.8V513.4M866.4 481.7V516.2M867.9 481.3V513.9M868.3 489.5V515.5M869.8 486.1V518.5M870.1 486.5V516.0M871.9 486.3V519.0M872.3 484.8V515.5M873.7 492.3V517.6M874.5 489.3V535.9M875.7 491.7V520.2M876.4 483.9V512.1M877.4 489.3V517.8M878.3 489.6V540.5M879.4 484.3V510.9M880.9 485.2V513.4M881.5 485.4V513.7M882.5 490.9V517.3M884.0 488.6V516.9M884.6 485.9V516.8M885.6 490.2V519.2M886.8 486.2V523.3M887.3 488.6V515.3M888.9 488.0V518.7M889.6 485.7V518.0M890.4 491.1V520.6M892.0 488.5V512.7M892.9 481.6V514.0M893.2 487.8V515.4M894.6 492.8V515.4M895.5 481.8V518.6M896.0 491.1V516.9M897.4 489.2V513.2M898.7 484.9V540.6M899.8 488.4V514.1M900.9 485.1V516.2M901.5 484.0V529.7M902.2 489.6V516.2M903.6 489.3V521.1M904.3 483.1V523.6M905.3 486.9V519.3M906.1 488.5V514.2M907.6 483.7V521.5M908.1 491.5V535.9M910.0 486.1V517.5M910.8 489.5V545.6M911.8 490.2V520.5M912.8 485.4V518.3M913.2 489.2V520.8M914.1 488.5V538.5M915.7 489.3V547.2M916.3 486.8V516.5M917.7 490.9V517.0M918.6 490.1V515.9M919.7 492.5V520.8M920.3 491.1V534.4M922.0 484.0V517.1M923.0 486.3V519.5M923.4 489.2V517.7M924.4 490.9V520.1M925.3 485.9V521.5M926.5 488.0V518.0M927.4 488.9V516.1M928.9 487.6V514.7M929.3 490.9V521.9M930.9 485.0V518.5M931.7 489.4V516.1M932.3 485.6V517.3M933.7 489.2V514.7M934.1 485.2V520.8M935.9 487.1V518.2M936.6 490.6V516.6M937.8 485.0V513.8M938.3 488.0V544.4M939.6 489.6V517.6M940.2 487.4V511.9M941.1 486.9V515.8M942.2 487.6V517.1M943.4 484.9V517.5M944.7 489.7V514.4M945.7 489.5V519.8M946.2 492.5V518.4M947.7 488.1V517.0M948.4 490.4V515.2M949.2 485.6V512.4M950.0 488.5V515.5M951.3 484.3V516.0M952.6 487.6V513.6M953.3 485.9V517.1M954.3 489.6V518.3M955.9 480.7V515.1M956.7 486.1V515.2M957.3 485.7V516.1M958.6 488.5V520.2M959.4 484.4V519.6M960.2 485.2V512.0M961.8 490.1V514.8M962.3 484.6V522.2M964.0 485.3V515.2M964.0 489.8V520.3M965.2 480.3V517.2M966.4 487.6V527.6M967.8 478.2V515.2M968.1 487.2V545.1M969.4 481.3V517.4M970.4 482.4V516.1M971.0 484.1V516.0M972.3 484.1V519.7M973.0 488.6V515.8M974.2 485.4V519.5M975.7 490.8V514.8M976.8 486.6V515.5M977.5 488.5V518.1M978.4 484.8V540.2M979.4 485.0V518.7M980.5 488.0V516.4M981.2 489.3V516.3M982.0 484.8V515.2M983.8 479.2V512.4M984.3 485.9V515.2M985.6 491.2V518.7M986.5 483.0V550.3M987.3 485.5V516.6M988.4 488.3V519.1M989.2 486.2V513.7M990.2 484.6V516.8M991.5 488.2V514.5M992.8 489.0V518.6M993.3 485.0V512.2M994.7 488.3V514.8M995.3 484.8V540.1M996.5 483.7V514.8M997.1 489.7V514.2M998.4 484.3V520.1M1000.0 484.5V515.0M1000.7 488.2V515.2M1001.5 483.1V512.0M1002.2 483.2V539.2M1003.2 485.2V513.8M1004.7 486.3V512.7M1005.3 488.8V516.9M1006.3 485.6V514.3M1007.2 484.3V514.7M1008.8 482.5V515.6M1009.1 485.4V513.8M1010.4 485.1V513.0M1011.3 489.8V514.5M1012.4 481.9V516.8M1013.3 481.5V530.5M1014.8 481.4V514.4M1015.5 486.2V548.4M1016.8 488.3V517.5M1017.1 491.8V518.3M1018.5 482.4V520.5M1019.2 487.7V514.6M1020.5 485.5V519.2M1022.0 492.0V517.6M1022.0 488.4V517.7M1023.2 491.8V513.3M1024.7 487.3V515.1M1025.7 490.5V517.1M1026.2 488.4V516.9M1027.5 485.5V531.6M1028.4 490.1V516.1M1029.3 486.4V517.6M1030.9 480.7V516.2M1031.5 486.9V513.7M1032.9 478.8V516.0M1033.6 488.7V517.0M1034.3 491.6V520.9M1035.8 487.9V519.7M1036.0 479.2V515.3M1037.9 483.2V514.3M1038.1 484.4V516.4M1039.9 484.9V515.0M1040.1 492.3V522.2M1041.2 485.3V536.6M1042.3 487.2V549.4M1043.9 480.9V514.7M1044.4 484.8V529.0M1045.9 486.5V515.6M1046.3 485.7V509.6M1047.8 485.2V514.8M1048.5 487.2V514.5M1049.8 487.3V519.3M1050.7 482.3V511.3M1051.7 481.9V517.7M1052.2 487.4V514.6M1053.1 488.1V517.3M1054.1 481.7V513.6M1055.9 487.6V516.3M1056.6 481.5V517.4M1057.2 476.2V521.5M1058.4 489.4V513.4M1059.7 480.8V515.0M1060.6 485.6V515.1M1061.7 485.0V514.0M1062.7 482.4V515.2M1063.9 488.0V515.5M1064.4 483.0V514.7M1065.2 483.9V511.4M1066.9 482.7V516.3M1067.9 487.2V512.2M1068.3 487.7V546.7M1069.8 490.1V518.3M1070.6 485.4V512.8M1071.7 483.8V515.7M1072.9 490.7V516.5M1073.5 484.5V516.0M1074.8 488.4V543.1M1075.3 491.2V516.3M1076.7 488.9V517.9M1077.4 481.2V513.9M1079.0 483.5V516.0M1079.1 484.3V518.2M1080.4 489.2V515.0M1081.5 484.4V513.6M1082.2 489.0V518.4M1083.4 487.4V518.3M1084.3 487.3V518.9M1085.6 486.8V516.6M1086.2 484.6V515.1M1087.2 490.9V520.4M1088.1 487.3V519.7M1089.3 491.4V518.7M1090.1 484.3V515.6M1091.7 482.0V517.1M1092.6 491.2V514.7M1093.6 483.6V514.4M1094.6 487.4V530.5M1095.8 486.0V517.8M1096.9 486.7V518.4M1097.9 486.3V517.3M1098.9 484.0V522.1M1099.2 483.8V514.8M1100.6 488.0V543.7M1101.8 479.5V516.3M1102.7 492.6V519.6M1103.5 487.8V515.2M1104.3 491.7V522.8M1106.0 486.2V521.0M1106.0 490.1V513.7M1107.1 486.0V520.8M1108.6 485.0V518.1M1109.4 487.1V519.9M1110.7 487.2V517.8M1111.1 495.6V517.5M1112.9 483.9V514.5M1113.8 486.0V516.7M1114.7 490.0V517.8M1115.9 487.5V513.9M1116.4 488.4V515.5M1117.3 490.3V518.0M1118.7 487.6V519.0M1119.4 485.9V516.9M1120.1 484.0V521.3M1121.5 487.8V516.7M1122.8 489.6V519.5M1123.5 488.6V521.2M1124.1 491.5V516.1M1125.8 486.8V520.8M1127.0 488.9V542.9M1127.5 485.5V516.0M1128.4 482.3V551.3M1129.3 489.7V522.0M1130.3 486.6V517.3M1131.9 489.9V550.3M1132.1 486.2V520.4M1133.3 483.4V518.0M1134.6 485.2V523.3M1135.4 487.0V531.7M1136.8 485.8V516.3M1137.8 487.0V517.9M1138.1 477.2V517.6M1139.5 487.6V516.7M1140.0 489.0V517.0M1141.9 487.1V514.4M1142.9 485.4V519.0M1143.4 484.4V514.1M1144.1 480.7V520.0M1145.7 488.9V551.2M1146.9 490.3V516.2M1147.7 484.0V516.1M1148.2 484.0V515.3M1149.6 484.2V516.8M1150.8 487.6V521.0M1151.6 478.8V517.4M1152.7 485.7V515.5M1153.3 486.2V520.7M1154.2 481.3V515.4M1155.9 485.8V515.5M1156.4 485.6V521.5M1157.3 487.5V517.8M1158.1 483.9V519.1M1159.9 484.5V517.7M1160.1 486.7V529.9M1161.3 494.0V517.8M1162.2 475.5V518.0M1163.9 492.1V521.6M1164.3 483.4V513.4M1165.5 486.3V510.5M1166.7 483.5V515.7M1167.1 478.0V512.8M1168.5 486.7V516.8M1169.9 487.0V513.6M1170.9 489.5V516.7M1171.9 490.4V519.3M1172.3 484.6V515.5M1173.3 487.4V515.0M1174.1 485.2V518.7M1175.9 490.2V546.4M1176.0 480.5V516.6M1177.0 478.3V516.5M1178.1 486.1V513.8M1179.4 480.6V519.1M1180.8 487.6V514.2M1181.6 484.2V519.0M1182.6 486.8V517.7M1183.1 487.0V514.2M1184.7 489.8V515.9M1185.9 481.1V518.7M1186.0 487.7V515.9M1187.8 489.9V521.9M1188.5 482.6V514.1M1189.3 488.6V519.3M1190.8 488.7V512.4M1191.1 484.7V515.7M1192.4 480.5V518.7M1193.6 486.6V511.6M1194.5 484.7V516.9M1195.5 490.8V513.5M1196.4 485.4V512.9M1197.3 488.2V514.3M1198.9 487.1V514.8M1199.2 486.6V514.9M1200.8 482.4V514.7M1201.3 483.9V514.0M1202.1 486.4V509.8M1203.8 485.9V519.4M1204.5 485.8V521.3M1205.7 488.5V536.8M1206.5 486.4V515.6M1207.8 488.4V513.9M1208.9 486.6V517.1M1209.5 487.5V517.1M1210.8 484.9V514.3M1211.8 482.1V516.1M1212.5 489.1V518.4M1213.9 489.2V517.4M1214.1 488.6V516.6M1215.5 484.3V517.1M1216.5 490.0V515.0M1217.2 487.1V516.7M1218.1 487.3V517.0M1219.6 484.8V515.1M1220.0 485.4V516.6M1221.9 485.0V519.1M1223.0 487.9V519.4M1223.1 484.8V511.5M1224.2 486.7V513.3M1225.8 476.4V519.2M1226.9 482.8V517.7M1227.6 486.7V517.7M1228.6 486.9V513.1M1229.8 486.6V516.6M1230.3 477.5V517.7M1231.7 489.3V517.2M1232.2 486.0V514.3M1233.4 483.1V514.6M1234.9 491.5V547.6M1235.4 485.8V536.9M1236.5 487.8V518.8M1237.4 485.8V509.9M1238.3 478.5V513.9" stroke="#56b4e9" stroke-width="1" fill="none"/>
<path d="M101.5 631.4V641.0M102.5 632.1V641.0M103.5 633.1V641.0M104.5 634.0V641.0M105.5 630.7V641.0M106.5 633.7V641.0M107.5 628.4V641.0M108.5 635.2V641.0M109.5 633.0V641.0M110.5 631.5V641.0M111.5 635.2V641.0M112.5 629.7V641.0M113.5 626.7V641.0M114.5 633.3V641.0M115.5 632.0V641.0M116.5 630.7V641.0M117.5 629.6V641.0M118.5 633.0V641.0M119.5 634.2V641.0M120.5 628.8V641.0M121.5 627.3V641.0M122.5 633.5V641.0M123.5 628.2V641.0M124.5 635.2V641.0M125.5 635.6V641.0M126.5 629.6V641.0M127.5 638.1V641.0M128.5 630.4V641.0M129.5 630.9V641.0M130.5 630.8V641.0M131.5 632.4V641.0M132.5 633.5V641.0M133.5 632.0V641.0M134.5 628.8V641.0M135.5 629.9V641.0M136.5 626.2V641.0M137.5 627.7V641.0M138.5 631.2V641.0M139.5 630.7V641.0M140.5 629.0V641.0M141.5 631.3V641.0M142.5 628.4V641.0M143.5 630.5V641.0M144.5 630.7V641.0M145.5 633.5V641.0M146.5 633.6V641.0M147.5 627.5V641.0M148.5 629.3V641.0M149.5 625.2V641.0M150.5 636.4V641.0M151.5 624.1V641.0M152.5 630.2V641.0M153.5 625.7V641.0M154.5 630.5V641.0M155.5 630.9V641.0M156.5 632.1V641.0M157.5 628.4V641.0M158.5 632.4V641.0M159.5 628.2V641.0M160.5 627.4V641.0M161.5 627.8V641.0M162.5 627.9V641.0M163.5 635.3V641.0M164.5 632.9V641.0M165.5 632.2V641.0M166.5 624.3V641.0M167.5 630.1V641.0M168.5 632.3V641.0M169.5 625.2V641.0M170.5 633.4V641.0M171.5 627.3V641.0M172.5 630.6V641.0M173.5 631.4V641.0M174.5 630.4V641.0M175.5 630.8V641.0M176.5 632.3V641.0M177.5 634.4V641.0M178.5 635.6V641.0M179.5 635.1V641.0M180.5 631.5V641.0M181.5 625.2V641.0M182.5 627.9V641.0M183.5 629.8V641.0M184.5 633.1V641.0M185.5 634.8V641.0M186.5 630.1V641.0M187.5 629.2V641.0M188.5 631.5V641.0M189.5 623.8V641.0M190.5 633.2V641.0M191.5 633.3V641.0M192.5 630.4V641.0M193.5 623.5V641.0M194.5 629.6V641.0M195.5 621.9V641.0M196.5 630.2V641.0M197.5 638.7V641.0M198.5 634.3V641.0M199.5 631.6V641.0M200.5 637.1V641.0M201.5 627.3V641.0M202.5 631.6V641.0M203.5 631.9V641.0M204.5 628.2V641.0M205.5 628.5V641.0M206.5 632.3V641.0M207.5 630.9V641.0M208.5 628.5V641.0M209.5 629.8V641.0M210.5 632.1V641.0M211.5 629.5V641.0M212.5 627.9V641.0M213.5 631.3V641.0M214.5 629.7V641.0M215.5 630.5V641.0M216.5 626.6V641.0M217.5 629.9V641.0M218.5 628.9V641.0M219.5 625.7V641.0M220.5 634.6V641.0M221.5 630.4V641.0M222.5 630.7V641.0M223.5 632.6V641.0M224.5 634.1V641.0M225.5 623.7V641.0M226.5 627.9V641.0M227.5 630.6V641.0M228.5 628.2V641.0M229.5 629.3V641.0M230.5 631.1V641.0M231.5 633.6V641.0M232.5 626.8V641.0M233.5 632.4V641.0M234.5 631.3V641.0M235.5 627.1V641.0M236.5 639.0V641.0M237.5 630.0V641.0M238.5 634.0V641.0M239.5 630.3V641.0M240.5 631.6V641.0M241.5 633.2V641.0M242.5 630.8V641.0M243.5 630.7V641.0M244.5 634.5V641.0M245.5 634.1V641.0M246.5 638.2V641.0M247.5 631.7V641.0M248.5 625.5V641.0M249.5 626.5V641.0M250.5 632.4V641.0M251.5 624.7V641.0M252.5 621.7V641.0M253.5 634.2V641.0M254.5 625.9V641.0M255.5 625.8V641.0M256.5 631.2V641.0M257.5 634.2V641.0M258.5 633.0V641.0M259.5 627.1V641.0M260.5 632.8V641.0M261.5 627.4V641.0M262.5 631.4V641.0M263.5 621.2V641.0M264.5 626.6V641.0M265.5 631.5V641.0M266.5 629.9V641.0M267.5 631.6V641.0M268.5 618.7V641.0M269.5 634.6V641.0M270.5 633.0V641.0M271.5 636.7V641.0M272.5 628.8V641.0M273.5 633.3V641.0M274.5 622.5V641.0M275.5 630.0V641.0M276.5 632.2V641.0M277.5 631.0V641.0M278.5 632.8V641.0M279.5 630.3V641.0M280.5 631.1V641.0M281.5 628.6V641.0M282.5 629.7V641.0M283.5 631.7V641.0M284.5 632.1V641.0M285.5 632.4V641.0M286.5 634.0V641.0M287.5 629.1V641.0M288.5 629.1V641.0M289.5 626.4V641.0M290.5 635.4V641.0M291.5 637.4V641.0M292.5 632.8V641.0M293.5 633.6V641.0M294.5 629.4V641.0M295.5 632.2V641.0M296.5 636.2V641.0M297.5 632.9V641.0M298.5 627.7V641.0M299.5 632.9V641.0M300.5 632.1V641.0M301.5 634.8V641.0M302.5 637.1V641.0M303.5 632.3V641.0M304.5 633.7V641.0M305.5 635.2V641.0M306.5 629.7V641.0M307.5 631.7V641.0M308.5 627.3V641.0M309.5 633.1V641.0M310.5 634.6V641.0M311.5 633.5V641.0M312.5 633.8V641.0M313.5 630.1V641.0M314.5 629.9V641.0M315.5 636.3V641.0M316.5 623.1V641.0M317.5 631.4V641.0M318.5 634.3V641.0M319.5 630.2V641.0M320.5 629.5V641.0M321.5 633.5V641.0M322.5 632.2V641.0M323.5 633.3V641.0M324.5 639.5V641.0M325.5 624.9V641.0M326.5 632.8V641.0M327.5 638.5V641.0M328.5 629.8V641.0M329.5 631.7V641.0M330.5 630.7V641.0M331.5 631.8V641.0M332.5 638.9V641.0M333.5 626.0V641.0M334.5 635.7V641.0M335.5 627.7V641.0M336.5 626.9V641.0M337.5 631.1V641.0M338.5 631.2V641.0M339.5 630.5V641.0M340.5 628.0V641.0M341.5 633.3V641.0M342.5 627.3V641.0M343.5 633.1V641.0M344.5 639.7V641.0M345.5 627.1V641.0M346.5 631.8V641.0M347.5 631.3V641.0M348.5 626.3V641.0M349.5 630.9V641.0M350.5 633.8V641.0M351.5 633.6V641.0M352.5 632.8V641.0M353.5 628.9V641.0M354.5 630.3V641.0M355.5 627.9V641.0M356.5 634.1V641.0M357.5 628.3V641.0M358.5 627.2V641.0M359.5 628.7V641.0M360.5 635.5V641.0M361.5 625.5V641.0M362.5 633.0V641.0M363.5 632.6V641.0M364.5 628.6V641.0M365.5 630.8V641.0M366.5 625.6V641.0M367.5 631.3V641.0M368.5 631.5V641.0M369.5 627.8V641.0M370.5 630.7V641.0M371.5 630.2V641.0M372.5 631.9V641.0M373.5 632.3V641.0M374.5 633.5V641.0M375.5 629.9V641.0M376.5 632.1V641.0M377.5 633.0V641.0M378.5 635.5V641.0M379.5 630.8V641.0M380.5 629.1V641.0M381.5 628.7V641.0M382.5 630.4V641.0M383.5 625.6V641.0M384.5 627.7V641.0M385.5 633.1V641.0M386.5 637.3V641.0M387.5 635.5V641.0M388.5 629.6V641.0M389.5 635.3V641.0M390.5 632.8V641.0M391.5 630.3V641.0M392.5 636.0V641.0M393.5 634.9V641.0M394.5 635.0V641.0M395.5 634.1V641.0M396.5 635.5V641.0M397.5 631.7V641.0M398.5 631.8V641.0M399.5 631.1V641.0M400.5 635.7V641.0M401.5 634.5V641.0M402.5 636.2V641.0M403.5 632.3V641.0M404.5 632.5V641.0M405.5 633.4V641.0M406.5 633.5V641.0M407.5 632.8V641.0M408.5 637.9V641.0M409.5 634.1V641.0M410.5 625.6V641.0M411.5 631.7V641.0M412.5 627.0V641.0M413.5 633.9V641.0M414.5 633.6V641.0M415.5 632.7V641.0M416.5 637.9V641.0M417.5 630.7V641.0M418.5 635.4V641.0M419.5 635.8V641.0M420.5 635.8V641.0M421.5 639.4V641.0M422.5 629.9V641.0M423.5 630.5V641.0M424.5 633.4V641.0M425.5 633.7V641.0M426.5 633.7V641.0M427.5 629.7V641.0M428.5 630.5V641.0M429.5 636.2V641.0M430.5 633.3V641.0M431.5 633.2V641.0M432.5 633.5V641.0M433.5 636.3V641.0M434.5 630.2V641.0M435.5 631.5V641.0M436.5 625.6V641.0M437.5 629.2V641.0M438.5 631.1V641.0M439.5 632.0V641.0M440.5 627.8V641.0M441.5 625.7V641.0M442.5 627.2V641.0M443.5 623.3V641.0M444.5 626.4V641.0M445.5 629.1V640.7M446.5 630.9V641.0M447.5 633.9V641.0M448.5 629.9V641.0M449.5 627.1V641.0M450.5 630.0V641.0M451.5 628.2V641.0M452.5 632.5V641.0M453.5 632.6V641.0M454.5 624.3V641.0M455.5 628.5V641.0M456.5 635.6V641.0M457.5 633.1V641.0M458.5 628.8V641.0M459.5 620.1V640.9M460.5 631.5V641.0M461.5 630.6V641.0M462.5 629.0V640.7M463.5 631.9V641.0M464.5 630.3V641.0M465.5 622.7V641.0M466.5 628.7V641.0M467.5 629.0V641.0M468.5 630.7V640.9M469.5 628.5V641.0M470.5 625.9V641.0M471.5 625.8V641.0M472.5 630.4V641.0M473.5 627.0V641.0M474.5 626.9V641.0M475.5 627.6V641.0M476.5 631.7V641.0M477.5 623.3V641.0M478.5 622.2V641.0M479.5 630.3V641.0M480.5 629.1V641.0M481.5 634.3V641.0M482.5 628.9V641.0M483.5 625.4V641.0M484.5 630.7V641.0M485.5 630.8V641.0M486.5 630.9V641.0M487.5 631.0V641.0M488.5 636.5V641.0M489.5 628.9V641.0M490.5 631.2V641.0M491.5 620.6V641.0M492.5 624.8V641.0M493.5 626.4V641.0M494.5 627.3V641.0M495.5 629.1V641.0M496.5 626.4V641.0M497.5 634.4V641.0M498.5 629.8V641.0M499.5 627.2V641.0M500.5 627.9V641.0M501.5 630.3V641.0M502.5 628.2V641.0M503.5 626.9V641.0M504.5 626.4V641.0M505.5 622.8V641.0M506.5 635.4V641.0M507.5 621.8V641.0M508.5 629.0V641.0M509.5 630.3V641.0M510.5 627.8V641.0M511.5 637.0V641.0M512.5 630.8V641.0M513.5 625.2V641.0M514.5 631.2V641.0M515.5 626.8V641.0M516.5 632.9V641.0M517.5 630.6V641.0M518.5 634.1V641.0M519.5 627.7V641.0M520.5 631.8V641.0M521.5 635.6V641.0M522.5 630.0V641.0M523.5 627.7V641.0M524.5 629.8V641.0M525.5 631.5V641.0M526.5 629.8V641.0M527.5 632.3V641.0M528.5 634.4V641.0M529.5 628.4V641.0M530.5 626.3V641.0M531.5 628.2V641.0M532.5 626.0V641.0M533.5 628.5V641.0M534.5 630.0V641.0M535.5 625.6V641.0M536.5 630.8V641.0M537.5 630.4V641.0M538.5 625.7V641.0M539.5 629.1V641.0M540.5 625.4V641.0M541.5 632.0V641.0M542.5 629.2V641.0M543.5 631.4V641.0M544.5 634.1V641.0M545.5 631.8V641.0M546.5 629.7V641.0M547.5 630.6V641.0M548.5 628.2V641.0M549.5 629.5V641.0M550.5 634.8V641.0M551.5 627.7V641.0M552.5 629.1V641.0M553.5 630.1V641.0M554.5 630.5V641.0M555.5 631.6V641.0M556.5 625.9V641.0M557.5 627.9V641.0M558.5 629.1V641.0M559.5 630.2V641.0M560.5 631.3V641.0M561.5 630.6V641.0M562.5 629.6V641.0M563.5 626.7V641.0M564.5 626.0V641.0M565.5 626.0V641.0M566.5 631.9V641.0M567.5 634.2V641.0M568.5 627.0V641.0M569.5 625.4V641.0M570.5 628.4V641.0M571.5 630.2V641.0M572.5 627.9V641.0M573.5 628.8V641.0M574.5 631.5V641.0M575.5 630.6V641.0M576.5 628.2V641.0M577.5 625.7V641.0M578.5 629.1V641.0M579.5 632.7V641.0M580.5 624.5V641.0M581.5 634.1V641.0M582.5 630.1V641.0M583.5 634.1V641.0M584.5 627.7V641.0M585.5 627.3V641.0M586.5 625.7V641.0M587.5 630.4V641.0M588.5 630.2V641.0M589.5 621.5V641.0M590.5 630.2V641.0M591.5 631.3V641.0M592.5 627.7V641.0M593.5 632.9V641.0M594.5 625.6V641.0M595.5 629.0V641.0M596.5 631.5V641.0M597.5 629.9V641.0M598.5 631.2V641.0M599.5 626.2V641.0M600.5 630.1V641.0M601.5 631.0V641.0M602.5 627.1V641.0M603.5 633.2V641.0M604.5 628.0V641.0M605.5 624.1V641.0M606.5 628.1V641.0M607.5 632.6V641.0M608.5 629.9V641.0M609.5 634.1V641.0M610.5 634.9V641.0M611.5 631.6V641.0M612.5 634.3V641.0M613.5 638.0V641.0M614.5 628.0V641.0M615.5 627.9V641.0M616.5 624.6V641.0M617.5 630.4V641.0M619.5 635.6V641.0M620.5 626.3V641.0M621.5 635.6V641.0M622.5 632.6V641.0M623.5 633.3V641.0M624.5 635.4V641.0M625.5 631.1V641.0M626.5 631.8V641.0M627.5 633.1V641.0M628.5 627.5V641.0M629.5 631.7V641.0M630.5 633.2V641.0M631.5 632.4V641.0M632.5 632.6V641.0M633.5 632.1V641.0M634.5 626.3V641.0M635.5 629.4V641.0M636.5 626.1V641.0M637.5 632.8V641.0M638.5 634.6V641.0M639.5 632.2V641.0M640.5 625.7V641.0M641.5 630.5V641.0M642.5 634.0V641.0M643.5 633.0V641.0M644.5 633.9V641.0M645.5 634.1V641.0M646.5 628.4V641.0M647.5 632.3V641.0M648.5 632.5V641.0M649.5 628.6V641.0M650.5 629.9V641.0M651.5 631.3V641.0M652.5 637.4V641.0M653.5 634.7V641.0M654.5 631.7V641.0M655.5 631.8V641.0M656.5 626.9V641.0M657.5 631.7V641.0M658.5 634.6V641.0M659.5 630.4V641.0M660.5 633.1V641.0M661.5 635.6V641.0M662.5 630.6V641.0M663.5 626.9V641.0M664.5 631.2V641.0M665.5 631.0V641.0M666.5 639.4V641.0M667.5 631.1V641.0M668.5 631.1V641.0M669.5 634.4V641.0M670.5 629.2V641.0M671.5 630.4V641.0M672.5 631.0V641.0M673.5 630.9V641.0M674.5 632.7V641.0M675.5 632.1V641.0M676.5 624.7V641.0M677.5 635.0V641.0M678.5 630.4V641.0M679.5 633.9V641.0M680.5 632.2V641.0M681.5 633.8V641.0M682.5 636.1V641.0M683.5 631.7V641.0M684.5 631.0V641.0M685.5 633.6V641.0M686.5 632.2V641.0M687.5 637.9V641.0M688.5 632.0V641.0M689.5 631.0V641.0M690.5 638.7V641.0M691.5 630.8V641.0M692.5 635.2V641.0M693.5 631.2V641.0M694.5 634.9V641.0M695.5 637.7V641.0M696.5 637.1V641.0M697.5 631.8V641.0M698.5 634.6V641.0M699.5 636.5V641.0M700.5 633.3V641.0M701.5 638.4V641.0M702.5 637.5V641.0M703.5 637.8V641.0M704.5 632.8V641.0M705.5 625.4V641.0M706.5 628.9V641.0M707.5 629.8V641.0M708.5 634.1V641.0M709.5 630.2V641.0M710.5 622.4V641.0M711.5 628.9V641.0M712.5 629.9V641.0M713.5 628.3V641.0M714.5 632.8V641.0M715.5 629.6V641.0M716.5 632.1V641.0M717.5 633.4V641.0M718.5 630.5V641.0M719.5 631.5V641.0M720.5 638.2V641.0M721.5 633.0V641.0M722.5 636.0V641.0M723.5 635.7V641.0M724.5 633.7V641.0M725.5 632.6V641.0M726.5 626.2V641.0M727.5 632.4V641.0M728.5 627.9V641.0M729.5 626.9V641.0M730.5 630.6V641.0M731.5 634.2V641.0M732.5 632.5V641.0M733.5 632.9V641.0M734.5 633.0V641.0M735.5 633.0V641.0M736.5 627.5V641.0M737.5 627.3V641.0M738.5 630.8V641.0M739.5 633.7V641.0M740.5 630.4V641.0M741.5 628.3V641.0M742.5 628.9V641.0M743.5 629.1V641.0M744.5 628.6V641.0M745.5 627.3V641.0M746.5 635.4V641.0M747.5 631.1V641.0M748.5 625.7V641.0M749.5 620.7V641.0M750.5 632.2V641.0M751.5 633.2V641.0M752.5 627.6V641.0M753.5 625.1V641.0M754.5 637.6V641.0M755.5 626.9V641.0M756.5 626.5V641.0M757.5 631.3V641.0M758.5 634.1V641.0M759.5 633.8V641.0M760.5 628.4V641.0M761.5 631.0V641.0M762.5 628.7V641.0M763.5 630.9V641.0M764.5 628.9V641.0M765.5 638.5V641.0M766.5 634.6V641.0M767.5 630.5V641.0M768.5 630.7V641.0M769.5 635.3V641.0M770.5 629.1V641.0M771.5 630.4V641.0M772.5 629.8V641.0M773.5 631.4V641.0M774.5 636.4V641.0M775.5 629.4V641.0M776.5 627.6V641.0M777.5 628.0V641.0M778.5 629.5V641.0M779.5 627.3V641.0M780.5 627.7V641.0M781.5 628.9V641.0M782.5 633.0V641.0M783.5 632.2V641.0M784.5 630.4V641.0M785.5 632.6V641.0M786.5 631.6V641.0M787.5 631.1V641.0M788.5 628.8V641.0M789.5 633.8V641.0M790.5 631.3V641.0M791.5 622.8V641.0M792.5 630.3V641.0M793.5 631.8V641.0M794.5 631.0V641.0M795.5 627.6V641.0M796.5 629.4V641.0M797.5 627.6V641.0M798.5 622.4V641.0M799.5 627.2V641.0M800.5 638.8V641.0M801.5 625.7V641.0M802.5 630.6V641.0M803.5 633.2V641.0M804.5 630.4V641.0M805.5 630.5V641.0M806.5 627.8V641.0M807.5 628.6V641.0M808.5 628.6V641.0M809.5 627.2V641.0M810.5 630.3V641.0M811.5 624.2V641.0M812.5 633.4V641.0M813.5 635.8V641.0M814.5 632.5V641.0M815.5 640.6V641.0M816.5 631.3V641.0M817.5 627.4V641.0M818.5 626.4V641.0M819.5 631.6V641.0M820.5 633.4V641.0M821.5 633.8V641.0M822.5 631.1V641.0M823.5 635.1V641.0M824.5 631.3V641.0M825.5 630.1V641.0M826.5 630.9V641.0M827.5 631.7V641.0M828.5 633.4V641.0M829.5 627.9V641.0M830.5 628.6V641.0M831.5 635.4V641.0M832.5 630.9V641.0M833.5 635.7V641.0M834.5 634.2V641.0M835.5 633.3V641.0M836.5 636.1V641.0M837.5 632.2V641.0M838.5 634.7V641.0M839.5 635.3V641.0M840.5 636.2V641.0M841.5 630.2V641.0M842.5 633.1V641.0M843.5 637.8V641.0M844.5 635.5V641.0M845.5 637.6V641.0M846.5 638.2V641.0M847.5 631.8V641.0M848.5 633.5V641.0M849.5 638.0V641.0M850.5 635.2V641.0M851.5 630.9V641.0M852.5 635.0V641.0M853.5 634.8V641.0M854.5 631.9V641.0M855.5 632.3V641.0M856.5 636.2V641.0M857.5 635.5V641.0M858.5 629.9V641.0M859.5 630.4V641.0M860.5 632.1V641.0M861.5 633.0V641.0M862.5 632.6V641.0M863.5 630.2V641.0M864.5 633.6V641.0M865.5 626.4V641.0M866.5 629.8V641.0M867.5 632.3V641.0M868.5 632.1V641.0M869.5 631.6V641.0M870.5 632.9V641.0M871.5 632.3V641.0M872.5 630.6V641.0M873.5 636.3V641.0M874.5 631.0V641.0M875.5 639.1V641.0M876.5 626.0V641.0M877.5 633.6V641.0M878.5 627.0V641.0M879.5 625.5V641.0M880.5 627.5V641.0M881.5 621.5V641.0M882.5 628.5V641.0M883.5 629.7V641.0M884.5 626.7V641.0M885.5 628.2V641.0M886.5 630.8V641.0M887.5 627.3V641.0M888.5 631.8V641.0M889.5 626.6V641.0M890.5 634.3V641.0M891.5 628.4V641.0M892.5 624.2V641.0M893.5 630.3V641.0M894.5 628.7V641.0M895.5 623.3V641.0M896.5 633.6V641.0M897.5 626.3V640.6M898.5 629.3V641.0M899.5 635.7V639.7M900.5 625.4V640.8M901.5 625.3V641.0M902.5 628.8V641.0M903.5 620.3V639.6M904.5 630.9V639.5M905.5 625.0V639.8M906.5 632.1V640.3M907.5 631.6V641.0M908.5 624.6V641.0M909.5 621.8V641.0M910.5 632.2V640.9M911.5 624.8V641.0M912.5 628.8V641.0M913.5 630.4V641.0M914.5 631.9V641.0M915.5 629.6V641.0M916.5 627.3V641.0M917.5 632.5V641.0M918.5 631.6V641.0M919.5 633.8V641.0M920.5 627.5V641.0M921.5 635.6V641.0M922.5 624.0V641.0M923.5 630.3V641.0M924.5 633.3V641.0M925.5 631.4V641.0M926.5 626.2V641.0M927.5 629.9V641.0M928.5 633.1V641.0M929.5 633.0V641.0M930.5 633.0V641.0M931.5 630.0V641.0M932.5 629.3V641.0M933.5 631.2V641.0M934.5 633.1V641.0M935.5 632.3V641.0M936.5 633.7V641.0M937.5 630.6V641.0M938.5 630.9V641.0M939.5 630.9V641.0M940.5 631.9V641.0M941.5 630.9V641.0M942.5 632.6V641.0M943.5 631.4V641.0M944.5 636.9V641.0M945.5 630.6V641.0M946.5 622.9V641.0M947.5 634.1V641.0M948.5 637.9V641.0M949.5 632.4V641.0M950.5 629.2V641.0M951.5 635.2V641.0M952.5 629.7V641.0M953.5 632.7V641.0M954.5 632.1V641.0M955.5 629.3V641.0M956.5 635.4V641.0M957.5 633.9V641.0M958.5 632.4V641.0M959.5 633.7V641.0M960.5 629.2V641.0M961.5 631.8V641.0M962.5 633.7V641.0M963.5 634.7V641.0M964.5 626.9V641.0M965.5 633.9V641.0M966.5 629.1V641.0M967.5 625.8V641.0M968.5 634.6V641.0M969.5 635.4V641.0M970.5 628.8V641.0M971.5 634.3V641.0M972.5 631.9V641.0M973.5 634.0V641.0M974.5 637.2V641.0M975.5 635.1V641.0M976.5 631.8V641.0M977.5 627.7V641.0M978.5 628.9V641.0M979.5 630.0V641.0M980.5 629.0V641.0M981.5 632.0V641.0M982.5 632.7V641.0M983.5 636.4V641.0M984.5 634.3V641.0M985.5 626.9V641.0M986.5 638.4V641.0M987.5 630.8V641.0M988.5 629.6V641.0M989.5 625.5V641.0M990.5 624.2V641.0M991.5 638.1V641.0M992.5 631.1V641.0M993.5 632.9V641.0M994.5 623.6V641.0M995.5 634.7V641.0M996.5 629.3V641.0M997.5 629.2V641.0M998.5 633.7V641.0M999.5 634.8V641.0M1000.5 629.9V641.0M1001.5 633.3V641.0M1002.5 635.2V641.0M1003.5 633.3V641.0M1004.5 631.0V641.0M1005.5 638.8V641.0M1006.5 636.9V641.0M1007.5 634.4V641.0M1008.5 632.0V641.0M1009.5 628.6V641.0M1010.5 631.1V641.0M1011.5 632.7V641.0M1012.5 629.6V641.0M1013.5 635.7V641.0M1014.5 628.7V641.0M1015.5 637.6V641.0M1016.5 631.3V641.0M1017.5 630.1V641.0M1018.5 631.7V641.0M1019.5 634.1V641.0M1020.5 635.7V641.0M1021.5 629.1V641.0M1022.5 634.5V641.0M1023.5 631.1V641.0M1024.5 628.3V641.0M1025.5 628.9V641.0M1026.5 636.2V641.0M1027.5 628.3V641.0M1028.5 630.5V641.0M1029.5 632.5V641.0M1030.5 637.0V641.0M1031.5 625.8V641.0M1032.5 632.8V641.0M1033.5 632.8V641.0M1034.5 627.1V641.0M1035.5 630.8V641.0M1036.5 631.2V641.0M1037.5 633.8V641.0M1038.5 631.1V641.0M1039.5 630.3V641.0M1040.5 632.6V641.0M1041.5 635.2V641.0M1042.5 627.8V641.0M1043.5 631.9V641.0M1044.5 631.0V641.0M1045.5 631.5V641.0M1046.5 634.4V641.0M1047.5 629.6V641.0M1048.5 626.8V641.0M1049.5 630.7V641.0M1050.5 627.4V641.0M1051.5 636.3V641.0M1052.5 635.5V641.0M1053.5 627.9V641.0M1054.5 631.2V641.0M1055.5 626.1V641.0M1056.5 630.6V641.0M1057.5 629.6V641.0M1058.5 636.9V641.0M1059.5 632.6V641.0M1060.5 623.1V641.0M1061.5 634.5V641.0M1062.5 629.7V641.0M1063.5 633.1V641.0M1064.5 628.8V641.0M1065.5 629.0V641.0M1066.5 636.8V641.0M1067.5 622.1V641.0M1068.5 632.6V641.0M1069.5 628.4V641.0M1070.5 633.5V641.0M1071.5 621.4V641.0M1072.5 631.0V641.0M1073.5 626.3V641.0M1074.5 633.8V641.0M1075.5 628.0V641.0M1076.5 625.8V641.0M1077.5 620.2V641.0M1078.5 624.5V641.0M1079.5 632.3V641.0M1080.5 626.0V641.0M1081.5 625.8V641.0M1082.5 629.9V641.0M1083.5 629.3V641.0M1084.5 630.2V641.0M1085.5 628.8V641.0M1086.5 635.4V641.0M1087.5 626.1V641.0M1088.5 627.5V641.0M1089.5 628.8V641.0M1090.5 631.3V641.0M1091.5 634.2V641.0M1092.5 629.7V641.0M1093.5 632.1V641.0M1094.5 630.9V641.0M1095.5 638.9V641.0M1096.5 627.6V641.0M1097.5 634.0V641.0M1098.5 629.6V641.0M1099.5 630.5V641.0M1100.5 632.0V641.0M1101.5 633.8V641.0M1102.5 627.9V641.0M1103.5 629.6V641.0M1104.5 627.2V641.0M1105.5 621.8V641.0M1106.5 636.9V641.0M1107.5 630.9V641.0M1108.5 630.3V641.0M1109.5 622.3V641.0M1110.5 629.9V641.0M1111.5 631.9V641.0M1112.5 634.6V641.0M1113.5 631.8V641.0M1114.5 631.5V641.0M1115.5 627.8V641.0M1116.5 629.3V641.0M1117.5 631.4V641.0M1118.5 625.6V641.0M1119.5 629.9V641.0M1120.5 631.7V641.0M1121.5 636.7V641.0M1122.5 626.5V641.0M1123.5 627.7V641.0M1124.5 634.6V641.0M1125.5 624.6V641.0M1126.5 639.3V641.0M1127.5 633.2V641.0M1128.5 635.5V641.0M1129.5 626.8V641.0M1130.5 627.7V641.0M1131.5 634.9V641.0M1132.5 630.3V641.0M1133.5 625.1V641.0M1134.5 633.5V641.0M1135.5 634.3V641.0M1136.5 636.2V641.0M1137.5 634.0V641.0M1138.5 637.5V641.0M1139.5 635.0V641.0M1140.5 632.4V641.0M1141.5 635.5V641.0M1142.5 632.8V641.0M1143.5 636.7V641.0M1144.5 632.9V641.0M1145.5 633.0V641.0M1146.5 637.0V641.0M1147.5 628.3V641.0M1148.5 635.2V641.0M1149.5 632.1V641.0M1150.5 635.7V641.0M1151.5 635.3V641.0M1152.5 630.3V641.0M1153.5 634.5V641.0M1154.5 637.9V641.0M1155.5 631.4V641.0M1156.5 634.8V641.0M1157.5 639.7V641.0M1158.5 626.1V641.0M1159.5 631.2V641.0M1160.5 637.4V641.0M1161.5 631.0V641.0M1162.5 630.9V641.0M1163.5 628.0V641.0M1164.5 622.5V641.0M1165.5 633.3V641.0M1166.5 632.8V641.0M1167.5 634.7V641.0M1168.5 632.4V641.0M1169.5 627.4V641.0M1170.5 624.6V641.0M1171.5 631.3V641.0M1172.5 635.0V641.0M1173.5 631.8V641.0M1174.5 632.2V641.0M1175.5 636.0V641.0M1176.5 629.1V641.0M1177.5 621.8V641.0M1178.5 633.7V641.0M1179.5 629.5V641.0M1180.5 628.6V641.0M1181.5 629.6V641.0M1182.5 633.1V641.0M1183.5 628.7V641.0M1184.5 630.1V641.0M1185.5 632.1V641.0M1186.5 628.6V641.0M1187.5 629.6V641.0" stroke="#e69f00" stroke-width="1" fill="none"/>
<path d="M101.7 632.2V641.0M102.8 628.9V641.0M103.6 623.0V641.0M104.4 629.3V641.0M105.9 630.8V641.0M106.8 629.9V640.9M107.3 627.6V641.0M108.6 628.9V641.0M109.2 621.8V641.0M110.4 625.4V641.0M111.1 622.9V641.0M112.1 625.4V641.0M113.3 631.7V641.0M114.0 633.4V641.0M115.3 634.3V641.0M116.8 628.2V641.0M117.0 631.5V641.0M118.6 629.4V641.0M119.1 631.7V641.0M120.1 631.3V641.0M121.6 628.4V641.0M122.1 624.4V641.0M123.5 629.9V641.0M124.3 629.7V641.0M125.9 630.8V641.0M126.4 629.9V641.0M127.9 626.8V641.0M128.6 631.7V641.0M129.5 633.4V641.0M130.4 623.1V641.0M131.5 631.5V641.0M132.3 637.4V641.0M133.7 630.7V641.0M134.4 630.9V641.0M135.6 625.5V641.0M137.0 637.5V641.0M137.1 635.9V641.0M138.1 636.5V641.0M139.1 627.8V641.0M140.1 634.5V641.0M141.1 627.4V641.0M142.3 635.7V641.0M143.4 631.6V641.0M144.7 630.7V641.0M145.2 631.9V641.0M146.5 630.9V641.0M147.9 636.2V641.0M148.5 634.7V641.0M149.5 626.8V641.0M150.5 633.7V641.0M151.6 623.3V641.0M152.2 636.3V641.0M153.5 629.1V641.0M154.9 629.7V641.0M155.4 630.3V641.0M156.8 637.2V641.0M157.8 632.4V641.0M158.7 630.1V641.0M159.1 631.9V641.0M160.4 629.0V641.0M161.1 632.9V641.0M163.0 628.2V641.0M163.7 628.8V641.0M164.3 628.9V641.0M165.8 633.4V641.0M166.1 630.3V641.0M167.4 629.1V641.0M168.0 625.2V641.0M169.4 632.6V641.0M170.8 628.6V641.0M171.0 630.5V641.0M172.3 628.9V641.0M173.2 630.6V641.0M174.3 630.3V641.0M175.9 624.6V641.0M176.5 624.3V641.0M177.6 628.8V641.0M178.2 624.4V641.0M180.0 631.5V641.0M180.0 629.5V641.0M181.4 632.8V641.0M182.1 631.5V641.0M183.2 631.3V641.0M184.6 620.1V641.0M185.5 630.2V641.0M186.3 632.0V641.0M187.4 632.3V641.0M189.0 630.1V641.0M189.0 629.0V641.0M190.2 627.3V640.2M191.8 628.4V641.0M192.0 627.9V641.0M193.3 632.7V641.0M194.1 632.9V641.0M195.3 628.9V640.8M196.7 627.7V641.0M197.1 631.8V640.8M198.7 633.3V641.0M199.8 623.1V641.0M200.2 626.0V641.0M201.9 625.0V641.0M202.1 634.6V641.0M203.2 632.6V641.0M204.0 628.6V641.0M205.4 630.0V641.0M206.7 629.9V641.0M207.1 630.4V641.0M208.9 627.5V641.0M209.5 633.2V641.0M210.6 628.6V641.0M211.4 627.4V641.0M212.2 634.3V641.0M213.4 631.2V641.0M214.4 634.7V641.0M215.4 632.1V641.0M216.2 634.1V641.0M217.1 636.4V641.0M218.3 632.4V641.0M219.7 634.8V641.0M220.5 630.1V641.0M221.5 633.1V641.0M222.7 624.7V641.0M223.4 631.6V641.0M224.7 629.5V641.0M225.3 627.0V641.0M227.0 634.0V641.0M227.3 632.2V641.0M228.2 633.5V641.0M229.8 627.9V641.0M230.1 633.0V641.0M232.0 638.5V641.0M232.6 634.0V641.0M233.4 628.3V641.0M234.6 634.1V641.0M235.2 632.5V641.0M236.0 630.0V641.0M237.6 629.5V641.0M238.2 632.4V641.0M239.7 625.4V641.0M240.4 634.8V641.0M241.1 633.8V641.0M242.4 633.1V641.0M243.9 633.6V641.0M244.9 635.0V641.0M245.9 627.0V641.0M246.6 631.6V641.0M247.3 632.7V641.0M248.4 633.0V641.0M249.8 629.5V641.0M250.1 630.4V641.0M251.5 632.6V641.0M252.5 632.2V641.0M253.7 635.6V641.0M254.8 624.9V641.0M255.4 630.2V641.0M256.9 629.2V641.0M258.0 630.7V641.0M258.5 630.0V641.0M259.4 627.8V641.0M260.8 630.4V641.0M261.4 625.8V641.0M262.5 626.4V641.0M263.0 626.4V641.0M264.5 630.1V641.0M265.7 631.8V641.0M266.3 633.1V641.0M267.6 625.6V641.0M268.1 628.8V641.0M269.9 632.9V641.0M270.2 629.7V641.0M271.6 633.7V641.0M272.6 634.1V641.0M273.8 628.2V641.0M274.6 628.4V641.0M275.3 630.1V641.0M276.9 627.7V641.0M277.1 629.8V641.0M278.3 629.1V641.0M279.1 635.4V641.0M281.0 630.1V641.0M281.9 628.3V641.0M282.0 630.1V641.0M283.7 630.8V641.0M284.6 623.8V641.0M285.4 626.8V641.0M286.8 625.9V641.0M287.4 629.5V641.0M288.0 631.6V641.0M289.6 627.5V641.0M290.5 625.3V641.0M291.6 632.2V641.0M292.5 628.8V641.0M293.2 629.9V641.0M294.3 631.7V641.0M295.3 633.0V641.0M296.7 628.7V641.0M297.2 627.2V641.0M298.6 626.7V641.0M299.1 627.4V641.0M300.5 630.6V641.0M301.3 638.2V641.0M302.2 631.7V641.0M303.2 628.5V641.0M304.6 629.8V641.0M305.2 629.2V641.0M306.1 626.0V641.0M307.1 630.2V641.0M308.6 631.4V641.0M310.0 630.8V641.0M310.1 627.9V641.0M311.9 630.2V641.0M312.0 628.2V641.0M313.9 629.2V641.0M314.7 624.8V641.0M315.7 632.3V641.0M316.8 629.1V641.0M317.1 622.2V641.0M318.0 629.2V641.0M320.0 631.8V641.0M320.1 638.7V641.0M321.7 627.1V641.0M322.3 634.4V641.0M323.8 626.8V641.0M324.0 632.6V641.0M325.6 631.8V641.0M326.1 629.0V641.0M327.8 619.8V641.0M328.1 626.5V641.0M329.7 632.7V641.0M331.0 634.0V641.0M331.4 628.8V641.0M332.0 629.0V641.0M333.7 627.7V641.0M334.3 629.9V641.0M335.8 628.3V641.0M336.6 633.0V641.0M337.4 632.5V641.0M338.3 631.4V641.0M339.3 627.2V641.0M340.7 625.9V641.0M341.5 628.7V641.0M342.4 634.4V641.0M343.6 632.7V641.0M344.1 630.2V641.0M345.3 633.4V641.0M346.3 632.6V641.0M347.1 628.3V641.0M348.0 635.6V641.0M349.2 634.5V641.0M350.3 627.8V641.0M351.8 630.4V641.0M352.1 633.9V641.0M353.4 636.4V641.0M354.4 635.5V641.0M355.5 628.7V641.0M356.0 630.1V641.0M357.9 635.4V641.0M359.0 629.6V641.0M359.5 632.5V641.0M360.2 625.5V641.0M362.0 624.4V641.0M362.0 627.6V641.0M363.4 627.7V641.0M364.2 628.6V641.0M365.8 637.4V641.0M366.5 637.3V641.0M367.3 636.7V641.0M368.7 629.5V641.0M369.7 628.4V641.0M370.3 632.3V641.0M371.4 630.1V641.0M372.5 627.5V641.0M373.2 632.4V641.0M374.2 627.6V641.0M375.8 634.1V641.0M376.9 631.3V641.0M377.8 629.4V641.0M378.1 626.4V641.0M379.0 630.2V641.0M381.0 630.2V641.0M381.5 632.1V641.0M382.8 630.4V641.0M383.2 630.0V641.0M384.6 626.0V641.0M385.7 628.1V641.0M386.7 629.9V641.0M387.6 621.1V641.0M388.0 628.9V641.0M389.3 625.3V641.0M390.9 626.3V641.0M391.1 628.1V641.0M392.8 631.2V641.0M393.4 628.5V641.0M394.5 626.1V641.0M395.6 628.9V641.0M396.2 628.8V641.0M397.3 633.3V641.0M398.8 629.1V641.0M399.1 627.5V641.0M400.3 629.0V641.0M401.4 630.5V641.0M403.0 623.5V641.0M403.4 627.9V641.0M404.0 625.9V641.0M405.5 627.2V641.0M406.2 628.0V641.0M407.1 633.3V641.0M408.1 631.4V641.0M409.5 630.1V641.0M410.1 626.2V641.0M411.6 630.3V641.0M412.6 622.6V641.0M413.2 624.9V641.0M414.9 624.7V641.0M415.1 633.7V641.0M416.8 633.2V641.0M417.5 630.4V641.0M418.9 633.4V641.0M419.7 633.3V641.0M420.7 637.8V641.0M421.4 622.7V641.0M422.8 632.1V641.0M423.8 634.8V641.0M424.7 632.4V641.0M425.2 629.6V641.0M426.2 627.8V641.0M427.7 636.0V641.0M429.0 638.2V641.0M429.7 626.4V641.0M430.2 629.1V641.0M431.6 634.4V641.0M432.8 635.0V641.0M433.3 630.9V641.0M434.4 628.3V641.0M435.7 635.9V641.0M436.8 636.6V641.0M437.5 626.9V641.0M438.7 632.5V641.0M439.1 633.8V641.0M441.0 632.0V641.0M441.2 623.3V641.0M442.4 632.8V641.0M443.5 633.3V641.0M444.9 632.3V641.0M445.1 627.1V641.0M446.3 623.1V641.0M447.5 629.2V641.0M448.3 630.7V641.0M449.5 634.4V641.0M450.7 632.4V641.0M451.1 629.6V641.0M452.5 623.4V641.0M453.9 629.8V641.0M454.8 632.9V641.0M455.5 628.9V641.0M456.0 624.9V641.0M457.3 632.8V641.0M458.7 635.6V641.0M459.8 631.9V641.0M460.7 632.1V641.0M461.0 623.6V641.0M462.3 627.0V640.7M463.8 621.6V641.0M464.4 631.7V641.0M465.5 630.4V641.0M466.6 621.1V641.0M467.4 630.7V641.0M469.0 631.9V641.0M469.5 626.3V641.0M470.8 628.2V641.0M471.6 633.5V641.0M472.4 624.9V641.0M473.6 630.5V641.0M474.1 632.4V641.0M475.7 630.3V641.0M476.5 628.5V641.0M477.6 630.4V641.0M478.5 631.3V641.0M479.6 632.4V641.0M480.7 635.1V641.0M481.0 625.9V641.0M482.5 630.3V641.0M483.3 630.3V641.0M484.9 635.6V641.0M485.8 627.4V641.0M486.9 636.4V641.0M487.7 628.8V641.0M488.2 629.0V641.0M489.7 627.4V641.0M490.1 631.2V641.0M491.3 630.5V641.0M492.9 632.3V641.0M493.5 631.6V641.0M494.3 634.4V641.0M495.5 633.7V641.0M496.2 625.2V641.0M497.5 636.2V641.0M498.7 632.8V641.0M499.6 632.7V641.0M500.5 631.4V641.0M501.9 635.8V641.0M502.9 632.1V641.0M503.2 636.5V641.0M504.7 629.8V641.0M505.5 638.2V641.0M506.1 637.2V641.0M507.9 629.6V641.0M508.2 635.7V641.0M510.0 631.7V641.0M511.0 629.6V641.0M511.1 631.7V641.0M512.8 633.5V641.0M513.3 631.0V641.0M514.9 634.4V641.0M515.8 636.4V641.0M516.9 628.4V641.0M517.1 624.3V641.0M518.1 632.2V641.0M519.4 632.8V641.0M520.8 632.4V641.0M521.7 634.2V641.0M522.9 633.5V641.0M523.6 625.8V641.0M524.4 631.4V641.0M525.8 628.7V641.0M526.0 630.5V641.0M527.2 626.7V641.0M528.5 632.3V641.0M529.9 622.3V641.0M530.7 628.6V641.0M531.2 626.0V641.0M532.8 635.0V641.0M533.4 632.8V641.0M534.0 631.8V641.0M535.5 627.7V641.0M536.7 627.0V641.0M537.1 634.2V641.0M538.7 628.2V641.0M539.1 632.1V641.0M540.0 635.6V641.0M541.9 624.5V641.0M542.0 625.5V641.0M543.9 630.8V641.0M544.7 624.6V641.0M545.3 628.5V641.0M546.4 628.0V641.0M547.7 632.3V641.0M548.7 625.7V641.0M549.0 630.2V641.0M550.1 631.7V641.0M551.5 626.4V641.0M552.7 626.8V641.0M553.0 632.8V641.0M554.3 632.4V641.0M555.8 625.2V641.0M556.9 625.5V641.0M557.5 635.1V641.0M558.8 630.5V641.0M559.2 628.2V641.0M560.5 630.2V641.0M561.9 629.6V641.0M562.3 631.3V641.0M563.8 634.6V641.0M564.1 634.1V641.0M565.2 627.7V641.0M566.4 628.1V641.0M567.2 628.5V641.0M568.3 634.4V641.0M569.5 632.7V641.0M570.0 623.5V641.0M571.2 627.9V640.8M572.5 627.6V641.0M573.3 632.5V641.0M574.5 632.5V640.4M575.8 627.2V641.0M576.4 625.7V641.0M577.8 629.1V641.0M578.8 630.1V641.0M579.4 629.3V641.0M580.5 625.1V641.0M581.0 627.7V641.0M582.1 630.2V641.0M583.9 629.6V641.0M584.0 630.3V639.8M585.2 626.0V641.0M586.7 627.3V641.0M587.8 629.0V641.0M588.7 619.8V640.5M589.4 628.0V641.0M590.7 630.4V641.0M591.5 630.2V641.0M592.6 627.6V641.0M593.7 628.6V641.0M594.5 631.3V641.0M595.8 628.9V641.0M596.2 624.8V641.0M597.6 630.8V641.0M598.7 624.4V641.0M599.6 627.0V641.0M600.6 636.0V641.0M601.4 630.7V641.0M602.2 632.3V641.0M603.9 631.6V641.0M604.2 632.3V641.0M605.2 630.4V641.0M606.1 632.5V641.0M607.3 630.5V641.0M608.3 627.7V641.0M609.2 631.5V641.0M610.4 630.9V641.0M611.5 633.4V641.0M612.2 634.2V641.0M613.6 635.1V641.0M614.7 628.3V641.0M615.1 632.0V641.0M616.6 636.4V641.0M617.1 629.7V641.0M618.8 629.3V641.0M619.6 630.1V641.0M620.9 629.8V641.0M621.2 629.2V641.0M622.2 636.6V641.0M623.4 630.2V641.0M624.4 632.2V641.0M625.6 628.8V641.0M626.5 638.3V641.0M627.3 628.9V641.0M628.6 628.0V641.0M629.2 634.7V641.0M630.9 629.9V641.0M631.5 632.2V641.0M632.6 636.5V641.0M633.9 627.9V641.0M634.3 636.7V641.0M635.7 629.9V641.0M636.6 623.0V641.0M637.9 631.5V641.0M638.6 629.5V641.0M639.8 626.7V641.0M640.2 638.1V641.0M641.2 629.2V641.0M642.1 624.8V641.0M643.6 630.1V641.0M645.0 633.3V641.0M645.0 632.6V641.0M646.5 629.2V641.0M647.6 628.6V641.0M648.2 628.9V641.0M649.3 626.0V641.0M650.5 630.9V641.0M651.7 630.5V641.0M652.5 633.7V641.0M653.4 626.5V641.0M654.3 634.5V641.0M655.8 633.0V641.0M656.6 632.2V641.0M657.5 628.8V641.0M658.9 631.6V641.0M659.8 628.6V641.0M660.5 632.6V641.0M661.6 629.5V641.0M662.3 627.3V640.9M664.0 629.0V641.0M664.5 626.8V641.0M665.7 631.9V641.0M666.7 629.0V641.0M667.7 627.2V641.0M668.7 637.1V641.0M669.8 629.9V641.0M670.4 633.6V641.0M671.6 628.0V641.0M673.0 631.2V641.0M673.4 628.1V641.0M674.9 631.8V641.0M675.8 630.8V641.0M676.9 636.7V641.0M677.9 622.9V640.8M678.8 629.9V641.0M679.2 634.5V641.0M680.5 624.0V641.0M681.7 632.3V641.0M682.7 629.8V641.0M683.3 630.8V641.0M684.8 627.7V641.0M685.6 628.2V641.0M686.5 624.0V641.0M687.9 628.1V641.0M688.7 628.7V641.0M689.7 627.2V641.0M691.0 634.3V641.0M691.3 629.9V641.0M692.7 633.2V641.0M693.2 630.7V641.0M694.8 626.4V641.0M695.2 629.1V641.0M696.7 629.0V641.0M698.0 628.2V641.0M698.4 632.3V641.0M699.6 631.5V641.0M700.9 628.6V641.0M701.9 631.0V641.0M702.6 626.9V641.0M703.2 628.0V641.0M704.2 633.4V641.0M705.4 632.7V641.0M706.4 632.2V641.0M707.7 634.2V641.0M708.4 629.5V641.0M709.1 628.6V641.0M710.1 630.2V641.0M711.9 632.4V641.0M712.4 633.6V641.0M713.4 629.4V641.0M714.3 629.2V641.0M715.5 632.9V641.0M716.1 631.1V641.0M717.5 630.1V641.0M718.9 627.3V641.0M719.8 629.1V641.0M720.6 630.0V641.0M721.4 630.4V641.0M722.0 629.9V641.0M724.0 633.1V641.0M724.9 630.4V641.0M725.7 629.4V641.0M726.6 629.2V641.0M727.9 631.3V641.0M729.0 631.9V641.0M729.7 632.2V641.0M730.0 632.2V641.0M732.0 629.1V641.0M732.0 634.5V641.0M733.4 627.6V641.0M734.5 624.6V641.0M735.8 633.1V641.0M736.7 633.2V641.0M737.6 628.9V641.0M738.0 629.8V641.0M739.2 634.1V641.0M740.2 634.2V641.0M741.4 629.6V641.0M742.9 629.5V641.0M744.0 633.1V641.0M744.0 635.5V641.0M745.0 638.0V641.0M746.7 631.9V641.0M747.6 632.9V641.0M748.9 629.0V641.0M749.8 631.0V641.0M750.9 624.2V641.0M751.2 625.8V641.0M752.8 635.1V641.0M753.3 632.5V641.0M754.6 629.4V641.0M755.7 634.8V641.0M756.0 630.9V641.0M757.4 629.8V641.0M758.4 628.9V641.0M759.5 630.7V641.0M760.3 635.8V641.0M761.5 629.6V641.0M762.1 636.9V641.0M763.9 632.8V641.0M764.1 634.2V641.0M765.3 630.7V641.0M766.5 626.7V641.0M767.5 633.3V641.0M768.2 627.0V641.0M769.1 633.4V641.0M770.9 632.7V641.0M771.3 629.5V641.0M772.4 627.2V641.0M773.6 622.7V641.0M774.4 631.4V641.0M775.6 626.8V641.0M776.7 620.6V641.0M777.1 625.0V641.0M778.7 632.2V641.0M779.9 630.3V641.0M780.2 626.3V641.0M781.9 627.8V641.0M782.6 627.9V641.0M783.2 636.1V641.0M784.7 625.3V641.0M785.8 626.1V641.0M786.4 628.9V639.4M787.9 630.2V641.0M788.7 627.6V640.1M789.8 631.6V641.0M790.1 629.3V641.0M791.5 627.4V641.0M792.8 627.4V641.0M793.3 628.8V641.0M794.1 629.1V641.0M795.4 630.7V641.0M796.4 633.3V641.0M797.4 628.9V641.0M798.7 632.1V641.0M799.5 632.2V641.0M800.9 628.2V641.0M801.7 623.4V641.0M802.1 630.1V641.0M803.5 630.8V641.0M804.3 633.9V641.0M805.2 623.8V641.0M806.1 632.0V641.0M807.6 629.6V641.0M808.4 631.4V641.0M809.3 633.8V641.0M810.5 631.4V641.0M811.4 632.3V641.0M812.8 631.5V641.0M813.1 627.1V641.0M814.2 631.5V641.0M815.7 629.6V641.0M816.5 631.9V641.0M817.4 625.6V641.0M818.5 633.2V641.0M819.4 631.8V641.0M820.6 630.8V641.0M821.4 630.2V641.0M822.0 634.4V641.0M823.6 632.5V641.0M824.5 633.8V641.0M825.1 633.1V641.0M826.3 630.3V641.0M827.3 632.8V641.0M828.2 634.4V641.0M829.2 630.6V641.0M830.7 633.4V641.0M831.5 632.5V641.0M832.8 635.9V641.0M833.3 632.1V641.0M834.3 631.8V641.0M836.0 630.0V641.0M836.7 630.3V641.0M837.9 633.3V641.0M838.0 635.5V641.0M840.0 627.0V641.0M840.2 630.4V641.0M841.2 632.8V641.0M842.5 633.4V641.0M843.2 629.5V641.0M844.4 628.9V641.0M845.3 631.1V641.0M846.5 633.3V641.0M847.7 633.1V641.0M848.3 630.2V641.0M849.3 632.8V641.0M850.1 630.7V641.0M851.1 630.7V641.0M852.6 634.2V641.0M853.3 631.7V641.0M854.4 633.8V641.0M855.7 633.3V641.0M856.1 630.6V641.0M858.0 630.1V641.0M858.9 632.5V641.0M859.6 631.8V641.0M860.8 636.5V641.0M861.2 624.3V641.0M862.9 632.6V641.0M863.1 623.9V641.0M864.3 631.2V641.0M866.0 634.2V641.0M866.7 628.3V641.0M867.5 628.7V641.0M868.6 634.3V641.0M869.6 634.0V641.0M870.2 631.1V641.0M871.3 632.6V641.0M872.5 631.4V641.0M873.0 632.6V641.0M874.2 635.8V641.0M875.7 635.3V641.0M877.0 639.6V641.0M877.6 637.4V641.0M878.5 634.2V641.0M879.5 632.4V641.0M880.9 636.0V641.0M881.0 633.9V641.0M882.7 633.8V641.0M883.3 635.1V641.0M884.3 632.9V641.0M885.1 630.9V641.0M886.8 634.2V641.0M887.1 631.5V641.0M888.1 630.5V641.0M889.1 634.1V641.0M890.7 629.3V641.0M891.6 628.2V641.0M892.3 637.7V641.0M893.2 634.1V641.0M894.1 630.9V641.0M895.1 632.4V641.0M896.8 631.5V641.0M897.2 629.3V641.0M898.9 629.2V641.0M899.6 627.6V641.0M900.9 632.4V641.0M901.0 634.8V641.0M902.4 635.1V641.0M903.7 631.3V641.0M904.4 635.0V641.0M905.7 631.1V641.0M906.3 633.8V641.0M907.7 623.6V641.0M908.7 629.2V641.0M909.9 631.0V641.0M910.7 629.8V641.0M911.4 628.5V641.0M912.6 630.7V641.0M913.2 633.7V641.0M914.8 634.4V641.0M915.0 628.6V641.0M916.1 630.1V641.0M917.4 635.7V641.0M918.4 628.5V641.0M919.1 629.8V641.0M920.6 636.1V641.0M922.0 629.6V641.0M922.1 632.5V641.0M923.5 630.0V641.0M924.2 625.7V641.0M925.3 631.9V641.0M926.8 625.1V641.0M927.0 625.8V641.0M928.2 634.1V641.0M929.0 632.4V641.0M930.8 630.1V641.0M931.5 633.3V641.0M932.5 634.2V641.0M933.8 631.8V641.0M934.6 626.9V641.0M935.8 627.6V641.0M936.5 633.9V641.0M937.9 630.6V641.0M938.4 624.1V641.0M939.8 628.1V641.0M940.3 632.8V641.0M941.3 625.6V641.0M942.5 633.0V641.0M943.9 632.2V641.0M944.4 634.5V641.0M946.0 625.5V641.0M946.6 627.5V641.0M947.7 629.1V641.0M948.5 632.6V641.0M950.0 621.7V641.0M950.8 634.9V641.0M951.4 627.4V641.0M952.1 630.0V641.0M953.3 635.7V641.0M954.9 633.6V641.0M955.3 627.7V641.0M956.3 633.5V641.0M957.3 633.6V641.0M958.9 634.3V641.0M959.8 632.0V641.0M960.7 633.1V641.0M961.1 635.0V641.0M962.9 633.1V641.0M963.4 635.3V641.0M964.3 634.7V641.0M965.5 634.4V641.0M966.5 631.3V641.0M967.8 634.4V641.0M968.7 635.2V641.0M969.9 630.8V641.0M971.0 629.8V641.0M971.3 633.8V641.0M972.4 634.4V641.0M973.3 630.1V641.0M974.9 633.5V641.0M975.6 638.4V641.0M976.2 626.4V641.0M977.9 633.4V641.0M978.7 632.9V641.0M979.1 632.3V641.0M980.2 631.8V641.0M981.5 633.2V641.0M982.9 631.5V641.0M983.9 630.4V641.0M984.6 634.0V641.0M985.6 637.4V641.0M986.1 631.1V641.0M987.5 633.7V641.0M988.3 634.9V641.0M989.7 628.1V641.0M990.6 630.2V641.0M991.9 628.9V641.0M992.1 630.5V641.0M993.9 634.2V641.0M994.2 629.0V641.0M995.2 634.9V641.0M996.1 637.2V641.0M997.1 628.7V641.0M998.8 631.6V641.0M999.1 633.2V641.0M1000.7 627.6V641.0M1001.3 625.1V641.0M1002.4 631.0V641.0M1003.4 628.2V641.0M1004.2 631.0V641.0M1005.4 628.6V641.0M1006.8 629.4V641.0M1007.6 629.0V641.0M1009.0 631.1V641.0M1009.7 633.5V641.0M1010.1 631.2V641.0M1011.5 632.1V641.0M1012.6 627.3V641.0M1013.7 635.5V641.0M1014.5 634.0V641.0M1015.1 635.5V641.0M1017.0 630.6V641.0M1017.4 628.5V641.0M1018.1 632.2V641.0M1019.9 627.4V641.0M1020.1 630.5V641.0M1021.7 630.0V641.0M1022.4 630.1V641.0M1023.5 623.7V641.0M1024.3 633.1V641.0M1025.5 626.7V641.0M1026.9 631.0V641.0M1027.7 630.2V641.0M1028.2 625.1V641.0M1029.7 632.9V641.0M1030.7 631.0V641.0M1032.0 636.4V641.0M1032.4 636.4V641.0M1033.2 628.7V641.0M1034.8 623.6V641.0M1035.5 631.3V641.0M1037.0 634.1V641.0M1037.2 631.0V641.0M1038.7 636.9V641.0M1039.6 632.1V641.0M1040.0 629.7V641.0M1041.9 631.2V641.0M1042.3 632.5V641.0M1043.3 635.3V641.0M1044.6 630.5V641.0M1045.5 632.3V641.0M1046.5 634.2V641.0M1047.4 631.2V641.0M1048.1 632.5V641.0M1049.8 634.9V641.0M1050.7 633.8V641.0M1051.5 634.5V641.0M1052.3 630.6V641.0M1054.0 628.0V641.0M1054.9 629.5V641.0M1055.3 631.0V641.0M1056.9 633.6V641.0M1057.5 630.9V641.0M1058.5 629.8V641.0M1059.1 630.7V641.0M1060.9 632.9V641.0M1061.2 623.1V641.0M1062.9 635.2V641.0M1063.6 633.7V641.0M1064.5 632.8V641.0M1065.7 630.0V641.0M1066.9 637.0V641.0M1067.2 633.0V641.0M1068.9 634.8V641.0M1069.7 633.5V641.0M1070.5 630.7V641.0M1071.7 630.7V641.0M1072.5 630.8V641.0M1073.8 625.3V641.0M1074.8 633.2V641.0M1075.1 626.9V641.0M1076.5 633.4V641.0M1077.9 626.9V641.0M1078.2 629.8V641.0M1079.4 635.4V641.0M1080.9 631.5V641.0M1081.0 630.6V641.0M1082.0 625.1V641.0M1083.5 633.2V641.0M1084.6 630.3V641.0M1085.9 630.7V641.0M1086.4 627.0V641.0M1087.8 627.8V641.0M1088.7 630.4V641.0M1089.5 624.7V641.0M1090.2 632.5V641.0M1091.5 632.3V641.0M1092.6 627.0V641.0M1093.2 627.2V641.0M1094.8 630.2V641.0M1095.4 629.7V641.0M1096.4 627.1V641.0M1097.6 629.2V641.0M1098.6 626.3V641.0M1099.4 624.6V641.0M1100.8 631.6V641.0M1101.0 630.6V641.0M1103.0 625.3V641.0M1103.7 629.3V641.0M1105.0 629.6V641.0M1105.3 633.8V641.0M1106.9 633.1V641.0M1107.9 633.6V641.0M1108.6 628.2V641.0M1109.2 632.5V641.0M1110.7 627.2V641.0M1111.9 626.4V640.9M1112.2 636.0V641.0M1113.6 626.8V641.0M1114.8 633.7V641.0M1115.2 628.3V641.0M1116.0 628.0V641.0M1117.6 635.7V641.0M1118.2 624.3V641.0M1119.1 630.4V641.0M1120.6 631.9V641.0M1121.1 628.2V641.0M1122.6 627.5V641.0M1123.8 627.9V641.0M1124.2 637.4V641.0M1125.8 625.4V641.0M1126.6 627.6V641.0M1127.1 630.1V641.0M1128.4 627.1V641.0M1129.1 633.6V641.0M1130.5 628.6V641.0M1131.4 630.0V641.0M1132.2 631.1V641.0M1133.5 624.1V641.0M1134.6 632.5V641.0M1135.9 627.1V641.0M1136.3 631.0V641.0M1137.1 633.8V641.0M1138.4 634.3V641.0M1139.2 627.3V641.0M1140.1 626.6V641.0M1141.1 622.8V641.0M1142.9 633.8V641.0M1143.9 625.1V641.0M1144.6 633.8V641.0M1145.9 631.8V641.0M1146.9 632.4V641.0M1147.4 635.4V641.0M1148.6 630.3V641.0M1149.8 632.6V641.0M1150.8 629.2V641.0M1151.2 635.2V640.9M1152.5 632.4V641.0M1153.4 634.3V641.0M1154.4 631.8V641.0M1155.8 626.4V641.0M1156.6 630.2V641.0M1157.3 621.1V641.0M1158.6 631.2V641.0M1159.6 627.6V641.0M1160.7 628.4V641.0M1161.8 628.3V641.0M1162.4 626.4V641.0M1163.0 630.8V641.0M1164.2 627.9V641.0M1165.9 634.1V641.0M1166.4 628.3V641.0M1167.1 624.5V641.0M1168.9 630.2V641.0M1169.9 633.4V641.0M1170.6 633.4V641.0M1171.3 627.4V641.0M1172.6 628.5V641.0M1174.0 628.7V641.0M1174.7 631.1V641.0M1175.4 628.1V641.0M1176.1 621.4V641.0M1177.2 632.7V641.0M1179.0 631.3V641.0M1179.0 626.0V641.0M1180.9 628.9V641.0M1181.8 628.0V641.0M1182.1 626.4V641.0M1183.2 630.0V641.0M1184.7 625.9V641.0M1185.2 628.9V641.0M1187.0 631.4V641.0M1187.2 632.0V641.0M1189.8 638.4V641.0M1190.4 637.4V641.0M1192.0 638.8V641.0M1192.3 637.8V641.0M1193.2 639.9V641.0M1195.0 630.3V641.0M1196.5 632.1V641.0M1198.7 639.6V641.0M1199.8 638.9V641.0M1201.7 637.8V641.0M1202.2 637.3V641.0M1205.0 639.8V641.0M1205.2 631.1V641.0M1206.3 638.3V641.0M1207.2 639.5V641.0M1210.9 640.3V641.0M1212.7 638.5V641.0M1213.6 633.9V641.0M1214.4 639.1V641.0M1215.5 638.9V641.0M1216.5 637.0V641.0M1217.2 638.9V641.0M1218.5 640.4V641.0M1219.3 639.6V641.0M1220.5 637.5V641.0M1221.3 638.6V641.0M1222.6 636.3V641.0M1224.0 640.5V641.0M1224.4 637.8V641.0M1225.7 639.7V641.0M1226.9 629.4V641.0M1227.9 631.3V641.0M1228.4 636.3V641.0M1230.1 635.3V641.0M1231.0 633.8V641.0M1232.5 627.6V641.0M1233.8 639.6V641.0M1234.5 630.3V641.0M1235.5 637.1V641.0M1236.7 636.8V641.0M1237.9 640.1V641.0M1238.2 639.3V641.0" stroke="#e69f00" stroke-width="1" fill="none"/>
<path d="M640.3 457V500M1147.5 471V495M759.3 471V495M1030.4 469.5V495M395.8 471V495" stroke="#56b4e9" stroke-width="1" fill="none"/>
<path d="M1147.5 548V575M1030.4 556V575M759.3 554V575M350.2 558V575" stroke="#009e73" stroke-width="1" fill="none"/>
<path d="M803.2 57V490" stroke="#56b4e9" stroke-width="1.6" fill="none"/>
<path d="M802.7 122V641" stroke="#e69f00" stroke-width="1.4" fill="none"/>
<rect x="960" y="57" width="268" height="82" fill="#fff"/>
<path d="M1172.3 73.5H1219.7" stroke="#9400d3" stroke-width="1"/>
<path d="M1172.3 91.5H1219.7" stroke="#009e73" stroke-width="1"/>
<path d="M1172.3 110.5H1219.7" stroke="#56b4e9" stroke-width="1"/>
<path d="M1172.3 129.5H1219.7" stroke="#e69f00" stroke-width="1"/>
<path d="M235.5 56.5v7M398.5 56.5v7M561.5 56.5v7M724.5 56.5v7M886.5 56.5v7M1049.5 56.5v7M1212.5 56.5v7" stroke="#000" stroke-width="1" fill="none"/>
<rect x="100.5" y="56.5" width="1139.0" height="585.0" stroke="#000" stroke-width="1" fill="none"/>
<g font-family="&quot;Liberation Sans&quot;, sans-serif" font-size="16.4" fill="#000" style="will-change:transform"><text transform="scale(1.075,1)" x="188.53 199.52 208.05 218.15 227.63 232.48 236.35 246.25 256.26 260.30 269.18 281.16 292.24 296.94 301.09 312.57 321.97 331.85 337.19 342.77 352.01 361.50 365.36 373.29 381.33 385.52 398.35 408.12 418.25 423.21 436.59 445.32 457.60 462.32 466.57 477.55 486.09 495.26 505.43 514.52 522.77 527.35 532.83 536.70 546.87 556.28 564.76 574.01 583.35 587.76 599.38 608.76 617.32 621.90 627.38 631.25 641.42 650.68 660.58 665.75 675.26 689.45 698.72 708.15 714.01 718.79 728.22 737.57 742.29 747.07 756.50 765.92 775.36 784.71 789.50 798.92 808.42 813.35 822.77 832.13 836.26 846.70 855.04 866.36 871.21 875.08 885.25 894.68 900.75 909.23 918.67 924.52 928.61 941.09 946.20 950.79 958.75 968.49 973.76 978.54 987.97 997.32 1002.11 1011.46 1016.25 1025.60 1030.39 1039.81 1049.25" y="34.2">NTP5: RPi3B+, Uputronics MAX-M8Q, NTPSec - Seven Day - September 24, 2025 04:00 UTC: Server Offset 10.0.0.240</text><text transform="scale(1.075,1)" x="52.94 62.31 66.98 76.21" y="589.0">0 µs</text><text transform="scale(1.075,1)" x="34.00 43.46 52.94 62.31 66.98 76.21" y="519.0">200 µs</text><text transform="scale(1.075,1)" x="34.00 43.46 52.94 62.31 66.98 76.21" y="449.0">400 µs</text><text transform="scale(1.075,1)" x="34.00 43.46 52.94 62.31 66.98 76.21" y="379.0">600 µs</text><text transform="scale(1.075,1)" x="34.00 43.46 52.94 62.31 66.98 76.21" y="309.0">800 µs</text><text transform="scale(1.075,1)" x="24.52 33.99 43.46 52.93 62.31 66.96 76.21" y="238.0">1000 µs</text><text transform="scale(1.075,1)" x="24.52 33.99 43.46 52.93 62.31 66.96 76.21" y="168.0">1200 µs</text><text transform="scale(1.075,1)" x="24.52 33.99 43.46 52.93 62.31 66.96 76.21" y="98.0">1400 µs</text><text transform="scale(1.075,1)" x="193.57 203.03 212.42 216.32 226.53 235.83" y="665.7">18 Sep</text><text transform="scale(1.075,1)" x="192.89 202.35 211.88 216.84 226.30 235.69" y="684.4">00:00Z</text><text transform="scale(1.075,1)" x="344.95 354.41 363.80 367.69 377.90 387.21" y="665.7">19 Sep</text><text transform="scale(1.075,1)" x="344.26 353.72 363.25 368.22 377.68 387.07" y="684.4">00:00Z</text><text transform="scale(1.075,1)" x="496.32 505.78 515.17 519.07 529.28 538.58" y="665.7">20 Sep</text><text transform="scale(1.075,1)" x="495.64 505.10 514.63 519.59 529.05 538.45" y="684.4">00:00Z</text><text transform="scale(1.075,1)" x="647.70 657.16 666.55 670.45 680.66 689.96" y="665.7">21 Sep</text><text transform="scale(1.075,1)" x="647.02 656.48 666.01 670.97 680.43 689.82" y="684.4">00:00Z</text><text transform="scale(1.075,1)" x="799.08 808.54 817.93 821.82 832.03 841.34" y="665.7">22 Sep</text><text transform="scale(1.075,1)" x="798.39 807.85 817.38 822.35 831.81 841.20" y="684.4">00:00Z</text><text transform="scale(1.075,1)" x="950.45 959.91 969.30 973.20 983.41 992.71" y="665.7">23 Sep</text><text transform="scale(1.075,1)" x="949.77 959.23 968.76 973.72 983.19 992.58" y="684.4">00:00Z</text><text transform="scale(1.075,1)" x="1101.83 1111.29 1120.68 1124.58 1134.79 1144.09" y="665.7">24 Sep</text><text transform="scale(1.075,1)" x="1101.15 1110.61 1120.14 1125.10 1134.56 1143.95" y="684.4">00:00Z</text><text transform="scale(1.075,1)" x="587.69 597.27 601.57 615.67 624.90 629.06 639.54 647.93" y="712">Time UTC</text><text transform="scale(1.075,1)" x="968.20 977.66 987.61 992.95 1002.31 1007.13 1016.43 1025.74 1031.35 1039.56 1048.86 1058.77 1064.22 1068.35 1072.26" y="79.0">50th percentile</text><text transform="scale(1.075,1)" x="931.14 936.78 946.09 955.36 964.81 971.24 976.67 980.72 990.16 999.54 1004.34 1013.62 1022.98 1027.11 1031.01 1039.77 1044.96 1049.60 1057.79 1067.31" y="97.0">reporting.bollar.com</text><text transform="scale(1.075,1)" x="994.53 1003.93 1009.05 1013.68 1021.67 1031.44 1038.09 1049.44 1055.88 1061.70 1067.13 1072.10" y="116.0">offset+rtt/2</text><text transform="scale(1.075,1)" x="1001.64 1011.04 1016.16 1020.78 1028.78 1038.55 1043.71 1049.45 1055.88 1061.72 1067.14 1072.10" y="135.0">offset-rtt/2</text></g>
</svg>
</body></html>
